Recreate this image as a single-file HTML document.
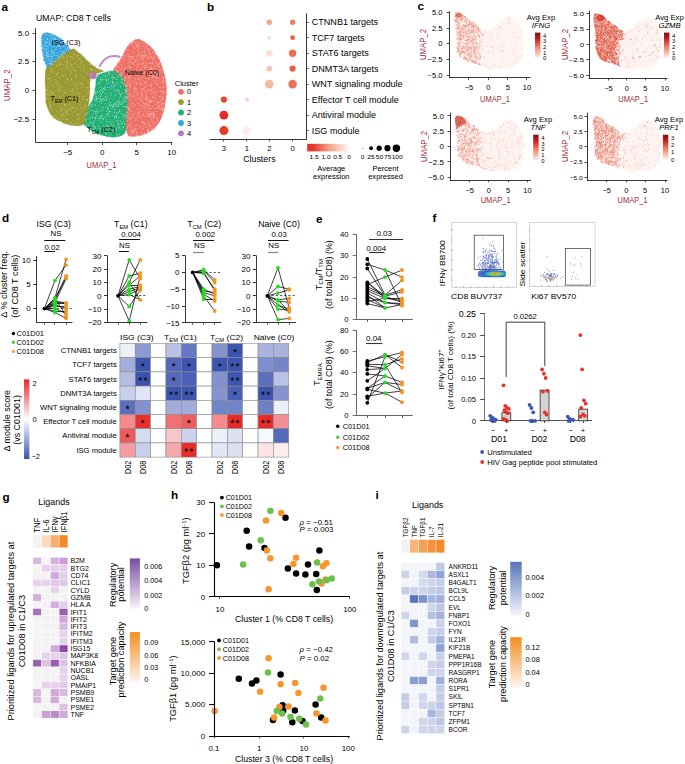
<!DOCTYPE html>
<html><head><meta charset="utf-8"><style>
html,body{margin:0;padding:0;background:#fff;}
svg{display:block;font-family:"Liberation Sans",sans-serif;}
</style></head><body>
<svg width="685" height="764" viewBox="0 0 685 764">
<rect width="685" height="764" fill="#fff"/>
<text transform="translate(1.5 10.5) scale(1.065 1)" font-size="11" fill="#000" font-weight="bold" >a</text>
<text transform="translate(36.0 20.5) scale(1.065 1)" font-size="8.2" >UMAP: CD8 T cells</text>
<defs><filter id="fz" x="-5%" y="-5%" width="110%" height="110%"><feGaussianBlur stdDeviation="0.35"/></filter></defs>
<g id="umap" filter="url(#fz)">
<path d="M137.6 39.3 C140.3 39.5 144.7 41.8 147.6 43.9 C150.5 46.0 152.6 48.3 155.0 52.1 C157.4 55.9 160.4 61.0 162.3 66.8 C164.2 72.6 165.9 80.6 166.3 87.0 C166.8 93.4 166.0 99.8 165.0 105.3 C164.0 110.8 162.5 115.9 160.5 119.9 C158.5 123.9 155.8 126.6 153.1 129.1 C150.3 131.5 147.2 133.4 144.0 134.6 C140.8 135.8 136.7 136.4 133.9 136.4 C131.2 136.4 128.9 137.5 127.5 134.6 C126.1 131.7 125.7 123.7 125.5 118.8 C125.3 113.9 126.2 109.5 126.2 105.0 C126.2 100.5 126.1 95.6 125.6 92.1 C125.1 88.6 124.2 86.7 123.4 84.2 C122.6 81.7 122.1 79.0 120.5 77.0 C118.9 75.0 115.2 73.8 114.0 72.5 C112.8 71.2 112.9 71.0 113.5 69.5 C114.1 68.0 116.0 65.8 117.5 63.5 C119.0 61.2 121.0 58.7 122.5 56.0 C124.0 53.3 125.1 49.8 126.5 47.5 C127.9 45.2 129.2 43.9 131.1 42.5 C132.9 41.1 134.8 39.1 137.6 39.3Z" fill="#F06F66" />
<path d="M98.5 75.0 C100.0 74.0 102.7 73.0 105.0 72.3 C107.3 71.6 110.2 70.7 112.5 70.8 C114.8 70.9 116.8 71.9 118.5 73.0 C120.2 74.1 121.5 75.6 122.5 77.5 C123.5 79.4 124.1 81.8 124.8 84.2 C125.5 86.6 126.4 88.6 126.8 92.1 C127.2 95.6 127.5 100.5 127.4 105.0 C127.4 109.5 127.0 114.1 126.5 118.8 C126.0 123.5 127.0 130.4 124.6 133.4 C122.2 136.4 116.5 136.9 111.9 137.0 C107.4 137.1 101.9 135.9 97.3 133.8 C92.7 131.7 86.0 127.8 84.2 124.5 C82.4 121.2 85.6 117.2 86.5 114.0 C87.4 110.8 88.5 107.4 89.5 105.0 C90.5 102.6 91.7 101.7 92.5 99.5 C93.3 97.3 94.0 94.6 94.6 92.1 C95.1 89.5 95.5 86.5 95.8 84.2 C96.1 81.9 95.8 80.0 96.3 78.5 C96.8 77.0 97.0 76.0 98.5 75.0Z" fill="#22B074" />
<path d="M72.3 49.0 C75.0 48.6 77.0 51.1 78.9 52.5 C80.9 53.9 81.8 55.6 84.0 57.6 C86.2 59.6 89.9 63.0 92.2 64.8 C94.5 66.6 96.2 67.5 98.0 68.5 C99.8 69.5 103.0 70.2 103.0 71.0 C103.0 71.8 99.7 72.5 98.0 73.3 C96.3 74.0 94.3 74.4 93.0 75.5 C91.7 76.6 90.7 77.2 90.2 80.0 C89.7 82.8 90.0 88.5 89.8 92.5 C89.6 96.5 89.2 100.8 88.8 104.0 C88.4 107.2 88.1 108.7 87.3 112.0 C86.5 115.3 86.5 121.7 84.0 124.0 C81.5 126.3 76.4 126.0 72.5 125.6 C68.6 125.2 64.2 123.3 60.8 121.7 C57.4 120.1 54.4 118.8 52.0 115.9 C49.6 113.0 47.3 108.6 46.2 104.2 C45.1 99.8 45.7 94.8 45.5 89.6 C45.3 84.4 44.8 76.8 45.2 72.9 C45.6 69.0 46.1 68.2 48.0 66.0 C49.9 63.8 54.0 61.6 56.4 59.7 C58.8 57.8 60.0 56.4 62.6 54.6 C65.2 52.8 69.6 49.4 72.3 49.0Z" fill="#9C9A30" />
<path d="M43.2 33.6 C44.5 32.7 47.1 32.5 49.3 32.9 C51.5 33.2 54.4 34.7 56.4 35.7 C58.4 36.8 59.8 37.6 61.5 39.2 C63.2 40.8 65.3 43.5 66.7 45.4 C68.1 47.3 70.7 49.0 70.0 50.5 C69.3 52.0 64.9 53.1 62.6 54.6 C60.3 56.1 58.3 58.0 56.4 59.7 C54.5 61.4 52.8 63.6 51.3 64.8 C49.8 66.0 48.5 67.8 47.2 66.8 C45.9 65.8 44.6 61.8 43.7 58.7 C42.9 55.6 42.5 51.8 42.1 48.4 C41.8 45.0 41.4 40.7 41.6 38.2 C41.8 35.7 41.9 34.5 43.2 33.6Z" fill="#36A5DE" />
<path d="M99.3 67 Q102 60.5 108.5 57 Q115 55 120.5 57" stroke="#B878C0" stroke-width="2" fill="none" opacity="0.85"/>
<path d="M89.5 74.0 C90.0 73.0 91.8 72.3 93.0 72.3 C94.2 72.3 96.0 73.1 96.5 74.0 C97.0 74.9 96.6 76.6 96.0 77.5 C95.4 78.4 94.0 79.1 93.0 79.2 C92.0 79.3 90.4 78.9 89.8 78.0 C89.2 77.1 89.0 75.0 89.5 74.0Z" fill="#B878C0" />
<circle cx="111.0" cy="85.5" r="1.40" fill="#36A5DE" />
<path d="M150.1 131.1h0M125.7 115.0h0M133.4 136.8h0M127.5 46.4h0M118.3 76.2h0M126.8 130.4h0M139.8 40.1h0M125.5 113.2h0M153.3 49.8h0M123.8 53.1h0M140.0 40.2h0M126.1 128.3h0M134.9 39.8h0M125.3 93.7h0M138.9 135.8h0M150.5 131.6h0M166.2 87.9h0M123.5 85.3h0M125.5 93.2h0M124.9 50.3h0M115.4 74.2h0M127.1 135.2h0M165.9 83.7h0M117.8 62.1h0M157.6 56.6h0M163.0 70.1h0M139.8 40.2h0M125.3 111.5h0M164.9 79.2h0M117.1 63.4h0M126.1 106.0h0M163.9 111.2h0M160.7 63.2h0M140.2 40.0h0M114.5 67.5h0M164.4 75.6h0M164.4 76.0h0M166.0 94.0h0M165.3 78.6h0M113.8 72.1h0M161.4 117.5h0M122.3 83.1h0M161.4 63.5h0M153.9 128.4h0M145.5 134.5h0M149.2 45.4h0M138.6 39.5h0M127.0 133.0h0M119.8 77.5h0M126.6 129.4h0M125.3 120.9h0M164.4 74.3h0M135.1 40.5h0M153.1 49.5h0M165.9 98.4h0M159.5 121.5h0M124.8 92.8h0M166.5 85.4h0M152.5 129.7h0M165.9 100.8h0M155.4 51.7h0M141.9 135.3h0M120.5 77.9h0M154.2 128.8h0M166.2 82.9h0M153.1 130.0h0M125.7 106.4h0M166.2 86.3h0M165.1 78.6h0M124.4 89.9h0M125.6 112.2h0M125.7 98.9h0M166.8 88.1h0M166.3 94.2h0M135.7 136.2h0M125.5 109.3h0M126.5 128.2h0M125.8 125.6h0M117.1 75.4h0M139.2 39.5h0M166.8 88.8h0M160.8 63.0h0M116.1 74.5h0M121.5 56.2h0M165.3 79.3h0M141.5 135.3h0M131.0 135.9h0M125.7 113.2h0M136.1 39.7h0M165.3 107.0h0M126.0 128.1h0M163.1 113.3h0M158.1 57.0h0M166.0 93.7h0M161.0 119.4h0M124.3 50.7h0M125.3 111.4h0M166.4 91.4h0M139.6 39.5h0M165.3 81.7h0M159.5 60.0h0M153.9 129.1h0M145.5 133.9h0M125.9 99.0h0M125.5 124.7h0M125.4 99.0h0M125.6 121.8h0M164.6 107.8h0M125.4 111.7h0M129.8 42.8h0M125.6 125.8h0M137.8 136.2h0M123.7 87.3h0M165.9 92.9h0M134.5 40.5h0M154.2 127.9h0M164.1 74.0h0M160.1 61.8h0M166.9 87.9h0M165.2 80.7h0" stroke="#F06F66" stroke-width="0.8" stroke-linecap="round" fill="none" opacity="0.8"/>
<path d="M95.1 85.1h0M95.5 79.0h0M108.2 71.4h0M93.9 93.4h0M98.2 74.6h0M85.2 117.7h0M127.0 115.9h0M88.6 106.8h0M95.3 82.4h0M122.9 77.7h0M126.3 87.0h0M96.3 78.4h0M127.2 91.8h0M126.2 127.1h0M104.5 135.4h0M83.9 124.5h0M127.5 115.2h0M87.9 109.2h0M85.0 117.1h0M116.8 136.0h0M125.2 132.9h0M112.0 137.5h0M96.0 80.6h0M126.6 123.3h0M86.8 111.1h0M85.8 114.0h0M127.4 98.5h0M98.6 74.7h0M98.2 134.2h0M93.0 131.4h0M115.6 136.0h0M87.7 110.1h0M112.4 137.2h0M84.0 122.5h0M84.0 125.2h0M114.9 136.5h0M90.8 102.6h0M95.6 83.1h0M85.7 117.2h0M120.4 134.7h0M114.3 137.1h0M114.0 136.8h0M110.5 70.7h0M94.6 88.6h0M98.3 74.5h0M126.6 90.0h0M124.2 81.8h0M88.7 106.3h0M96.3 77.7h0M127.5 100.7h0M127.3 112.7h0M89.5 128.6h0M124.6 81.8h0M87.3 110.6h0M97.4 134.6h0M99.2 134.6h0M94.4 91.1h0M125.9 123.9h0M120.9 135.1h0M84.8 120.2h0M126.3 87.7h0M118.1 136.0h0M85.8 116.4h0M95.6 132.7h0M103.1 135.6h0M86.5 113.9h0M96.2 77.5h0M106.7 136.6h0M127.4 112.6h0M125.0 84.6h0M112.0 137.5h0M101.4 135.0h0M107.0 136.1h0M123.1 77.6h0M127.5 99.7h0M94.9 89.6h0M93.3 96.7h0M114.8 71.3h0M127.0 115.1h0M95.2 86.2h0" stroke="#22B074" stroke-width="0.8" stroke-linecap="round" fill="none" opacity="0.8"/>
<path d="M73.6 125.5h0M45.5 92.7h0M45.0 75.0h0M90.3 88.7h0M87.1 113.8h0M95.3 66.3h0M90.4 81.1h0M53.7 117.8h0M86.2 118.5h0M78.3 125.0h0M45.1 84.8h0M85.0 121.7h0M58.7 57.7h0M96.2 74.4h0M89.2 101.0h0M51.0 114.4h0M47.2 66.8h0M45.8 101.0h0M69.2 50.0h0M87.0 115.5h0M93.9 75.4h0M53.1 117.3h0M92.2 78.1h0M78.9 125.2h0M58.4 120.4h0M71.4 125.3h0M45.4 93.8h0M55.7 59.3h0M59.9 56.4h0M102.6 71.2h0M101.3 69.7h0M83.0 56.4h0M86.0 117.6h0M86.7 60.0h0M88.6 108.1h0M89.7 100.3h0M73.2 48.6h0M89.6 61.6h0M77.2 125.4h0M45.2 88.6h0M45.0 81.8h0M63.4 123.3h0M50.0 112.4h0M73.9 49.2h0M92.4 77.1h0M63.2 53.5h0M65.5 52.8h0M51.3 63.0h0M67.0 51.6h0M90.5 79.9h0M94.3 75.7h0M81.0 54.2h0M50.3 112.8h0M95.1 66.0h0M62.6 122.9h0M90.1 97.2h0M50.3 114.0h0M103.2 71.5h0M65.2 123.5h0M100.8 72.9h0M64.5 53.2h0M83.2 56.1h0M61.0 55.2h0M87.9 111.5h0M45.2 74.1h0M81.9 54.9h0M52.1 116.5h0M45.0 80.9h0M79.7 124.9h0M66.2 52.1h0M59.6 56.3h0M84.5 57.7h0M54.7 60.3h0M90.0 92.1h0M45.1 92.1h0M54.7 60.9h0M45.9 103.5h0M70.1 125.0h0M75.6 50.4h0M89.9 93.8h0M90.4 63.1h0M85.8 118.5h0M96.0 74.5h0M67.0 51.7h0M74.7 49.9h0M45.2 79.2h0M103.7 71.4h0M84.7 57.4h0M87.6 112.9h0M53.6 61.6h0" stroke="#9C9A30" stroke-width="0.8" stroke-linecap="round" fill="none" opacity="0.8"/>
<path d="M52.4 34.0h0M61.0 38.1h0M70.3 50.7h0M70.6 50.2h0M65.4 53.7h0M42.7 55.2h0M42.7 52.9h0M50.0 33.2h0M47.8 67.2h0M59.1 58.2h0M53.0 63.1h0M64.5 53.8h0M46.7 67.5h0M45.6 32.6h0M41.7 49.6h0M43.6 60.0h0M41.3 46.5h0M42.0 49.4h0M41.3 43.8h0M45.3 62.8h0M47.2 67.5h0M68.3 47.0h0M43.7 60.4h0M47.7 67.3h0M41.0 41.0h0M41.2 37.5h0M49.6 66.0h0M66.7 53.2h0M45.4 32.6h0M58.7 58.8h0M58.5 58.7h0M60.2 57.6h0M65.2 53.3h0M41.4 43.2h0M45.4 64.4h0M43.6 60.4h0M46.9 67.2h0M53.5 63.3h0M57.9 58.9h0M41.3 45.6h0M43.9 59.5h0M65.0 54.0h0M46.5 67.1h0M41.9 44.0h0M47.5 32.6h0M61.8 39.0h0M41.5 37.0h0M43.4 58.1h0M61.9 39.6h0M69.4 48.8h0" stroke="#36A5DE" stroke-width="0.8" stroke-linecap="round" fill="none" opacity="0.8"/>
<path d="M129.8 57.2h0M120.9 75.1h0M159.8 70.4h0M151.1 117.2h0M140.8 62.7h0M155.1 62.3h0M129.3 107.8h0M154.6 117.4h0M151.1 68.9h0M156.6 73.6h0M158.1 103.5h0M130.6 119.9h0M123.0 73.3h0M148.7 85.6h0M158.3 105.3h0M127.3 112.3h0M127.4 86.2h0M148.0 114.9h0M151.8 128.6h0M132.2 56.6h0M163.2 97.9h0M157.1 84.1h0M158.0 102.6h0M150.5 75.2h0M147.5 98.7h0M156.3 60.9h0M159.8 96.5h0M134.5 88.5h0M130.0 97.8h0M137.9 41.8h0M132.8 89.4h0M144.1 123.8h0M158.4 63.2h0M145.7 103.5h0M128.1 84.6h0M139.2 71.3h0M161.1 90.3h0M159.9 68.8h0M152.3 60.1h0M152.5 74.6h0M123.2 58.5h0M121.3 69.8h0M146.2 93.6h0M132.1 132.6h0M162.5 92.0h0M127.4 82.0h0M159.2 73.9h0M121.9 60.8h0M128.2 62.9h0M129.6 100.0h0M138.6 54.7h0M140.1 83.1h0M141.9 122.2h0M142.6 84.5h0M137.3 55.7h0M125.8 114.9h0M143.7 43.1h0M142.7 66.5h0M134.7 129.8h0M150.9 114.7h0M126.8 127.9h0M160.1 96.1h0M145.0 55.3h0M142.5 133.2h0M145.3 86.6h0M150.4 114.0h0M134.1 87.8h0M131.7 44.3h0M143.6 55.7h0M144.1 91.2h0M158.5 91.6h0M160.2 62.5h0M153.3 50.3h0M141.7 53.2h0M149.1 99.4h0M146.0 96.0h0M116.1 70.4h0M142.6 72.6h0M158.0 73.8h0M154.1 56.2h0M155.5 72.2h0M142.4 108.1h0M142.3 64.2h0M157.7 102.5h0M131.4 56.6h0M151.8 69.2h0M147.8 77.6h0M135.9 79.0h0M159.0 74.9h0M138.6 51.8h0M154.0 59.9h0M153.8 93.2h0M125.7 76.7h0M142.6 122.6h0M141.6 74.3h0M132.5 115.5h0M163.6 86.9h0M157.8 64.3h0M165.1 92.4h0M129.1 118.7h0M131.2 59.0h0M155.1 75.6h0M132.6 103.4h0M146.1 81.5h0M155.4 95.1h0M148.9 108.8h0M157.8 106.0h0M161.9 98.0h0M126.7 49.3h0M136.8 45.6h0M161.8 99.1h0M142.9 102.9h0M148.8 56.9h0M139.6 111.4h0M128.8 124.6h0M138.5 109.7h0M147.1 116.9h0M146.1 105.2h0M130.2 74.0h0M142.0 76.9h0M143.7 57.3h0M157.1 117.8h0M146.6 72.2h0M135.8 88.2h0M137.2 108.9h0M128.2 56.5h0M140.7 42.3h0M150.8 102.3h0M129.8 77.6h0M134.4 119.0h0M140.7 117.2h0M159.0 72.1h0M148.8 49.7h0M120.8 69.0h0M144.9 56.3h0M144.9 104.4h0M141.9 96.3h0M136.3 70.8h0M146.2 94.3h0M131.3 105.4h0M140.2 99.8h0M159.3 66.4h0M117.0 65.5h0M128.1 55.9h0M163.4 82.4h0M147.8 78.4h0M119.6 74.1h0M136.7 88.5h0M124.3 55.9h0M157.2 118.5h0M133.9 131.5h0M122.4 65.3h0M134.0 84.6h0M148.3 129.9h0M145.4 46.7h0M134.7 47.2h0M125.8 67.6h0M143.6 72.7h0M146.6 71.1h0M127.1 126.7h0M131.6 110.9h0M132.3 130.6h0M130.3 56.9h0M133.6 62.6h0M130.8 67.9h0M144.5 49.3h0M149.1 63.7h0M154.3 92.1h0M153.5 116.9h0M150.1 69.5h0M124.8 80.6h0M128.9 71.3h0M140.3 70.3h0M132.9 43.7h0M154.0 124.1h0M137.5 94.6h0M155.3 72.6h0M153.2 113.5h0M154.9 72.5h0M128.1 109.9h0M135.0 120.4h0M150.4 49.6h0M145.7 86.3h0M136.8 56.2h0M163.3 82.3h0M142.1 59.2h0M142.6 115.2h0M151.1 67.7h0M144.6 133.5h0M156.9 74.7h0M127.9 90.6h0M149.3 105.5h0M141.8 68.8h0M146.1 83.0h0M140.4 70.2h0M130.5 67.5h0M139.1 125.6h0M160.0 72.4h0M138.9 79.4h0M155.8 64.2h0M144.7 83.1h0M120.1 74.8h0M135.5 43.2h0M142.4 122.3h0M142.3 58.4h0M138.5 44.3h0M155.2 72.9h0M154.6 114.8h0M149.8 79.2h0M146.0 46.6h0M121.1 73.1h0M145.5 107.9h0M143.0 60.4h0M162.8 77.3h0M156.3 111.5h0M138.0 133.9h0M137.7 102.9h0M158.9 78.4h0M126.0 115.4h0M147.8 105.5h0M156.2 98.2h0M132.7 103.6h0M134.0 58.2h0M133.7 100.8h0M136.1 90.9h0M157.9 65.9h0M129.2 71.9h0M142.8 128.6h0M157.5 120.6h0M130.3 86.8h0M144.9 110.4h0M152.8 52.2h0M162.7 103.4h0M146.1 99.5h0M153.5 116.0h0M147.5 48.7h0M148.3 51.4h0M164.0 99.7h0M144.1 123.5h0M137.7 92.4h0M144.7 123.4h0M127.1 88.6h0M165.8 84.5h0M161.0 115.3h0M137.3 128.4h0M129.9 111.8h0M131.4 127.7h0M128.1 114.3h0M132.2 59.2h0M127.8 94.1h0M126.4 117.1h0M134.5 78.8h0M123.0 78.3h0M153.7 75.6h0M138.6 64.3h0M144.4 53.6h0M151.0 100.5h0M161.9 110.1h0M155.6 53.4h0M141.0 43.2h0M153.0 112.5h0M133.2 51.8h0M151.6 72.2h0M159.8 63.4h0M151.6 113.0h0M155.5 104.7h0M136.7 84.6h0M145.7 98.7h0M145.1 116.5h0M136.0 74.8h0M140.3 55.9h0M126.9 86.2h0M128.5 45.8h0M134.6 92.6h0M158.3 64.5h0M139.4 83.3h0M127.8 96.8h0M145.0 87.5h0M160.4 108.8h0M125.7 73.6h0M146.8 96.5h0M147.9 74.7h0M149.6 115.1h0M136.6 45.0h0M148.9 91.7h0M145.5 65.9h0M145.2 91.1h0M156.2 83.4h0M130.0 94.8h0M139.4 78.5h0M126.9 115.2h0M151.0 63.3h0M143.9 98.0h0M136.7 82.6h0M157.2 71.0h0M118.8 62.3h0M143.5 89.0h0M144.6 67.5h0M127.6 98.0h0M153.5 88.3h0M131.7 82.4h0M134.2 94.9h0M130.2 134.9h0M150.1 124.9h0M140.4 55.3h0M151.1 57.7h0M143.7 76.3h0M160.2 120.0h0M164.1 103.8h0M145.8 82.8h0M132.0 96.7h0M155.3 108.2h0M149.0 69.7h0M155.9 101.0h0M146.8 126.2h0M159.7 108.2h0M131.6 75.3h0M147.9 101.9h0M142.7 95.3h0M141.2 117.3h0M148.4 122.3h0M153.3 122.9h0M139.5 98.3h0M162.6 96.2h0M162.4 86.3h0M134.7 125.7h0M143.1 126.6h0M125.6 85.6h0M131.9 74.0h0M152.8 52.8h0M130.7 86.0h0M157.2 57.1h0M134.4 81.6h0M124.2 55.2h0M150.4 86.3h0M134.8 117.4h0M147.9 114.7h0M151.0 90.3h0M141.2 89.0h0M149.7 125.0h0M136.2 125.3h0M150.7 126.8h0M150.3 67.3h0M125.5 86.4h0M148.0 104.4h0M133.1 131.0h0M163.2 80.2h0M153.1 121.4h0M126.9 70.2h0M127.5 73.8h0M143.1 63.2h0M163.5 79.0h0M148.1 57.5h0M148.7 121.9h0M156.1 94.8h0M125.0 68.4h0M115.8 68.9h0M140.7 100.7h0M144.1 115.8h0M149.8 89.8h0M152.1 125.9h0M152.5 96.3h0M146.2 98.1h0M161.7 69.3h0M135.9 60.1h0M145.7 127.2h0M134.0 65.0h0M140.2 105.5h0M121.6 79.4h0M157.4 84.9h0M130.6 114.7h0M127.7 54.6h0M160.4 91.5h0M154.1 100.9h0M146.1 65.5h0M162.8 99.5h0M141.3 132.8h0M141.4 93.7h0M136.8 42.9h0M148.6 106.8h0M129.9 76.3h0M131.6 132.3h0M135.3 60.4h0M136.6 132.6h0M126.9 112.4h0M128.2 78.1h0M151.0 101.0h0M134.9 42.9h0M148.5 58.9h0M143.4 114.2h0M141.7 94.5h0M139.0 113.5h0M125.4 90.3h0M131.5 128.7h0M150.1 111.6h0M158.7 106.6h0M137.7 67.3h0M133.9 113.4h0M141.7 89.0h0M127.8 46.6h0M129.8 60.8h0M135.9 68.8h0M133.1 72.9h0M137.2 135.7h0M152.5 106.6h0M154.1 81.3h0M153.8 113.2h0M128.6 74.0h0M140.4 84.1h0M135.0 128.7h0M117.8 66.1h0M149.2 101.0h0M130.4 130.7h0M146.6 55.7h0M144.2 107.8h0M156.9 118.7h0M134.6 90.8h0M148.2 111.4h0M137.6 91.7h0M131.0 44.0h0M132.2 132.8h0M135.3 96.3h0M163.3 103.6h0M145.9 105.7h0M119.1 66.8h0M141.2 92.9h0M129.5 78.1h0M149.2 74.0h0M164.0 93.5h0M132.0 62.9h0M147.3 90.1h0M139.4 48.1h0M161.5 107.7h0M142.8 55.7h0M129.8 66.9h0M129.1 60.9h0M147.6 131.1h0M156.2 92.3h0M141.8 105.6h0M135.6 61.8h0M143.2 63.2h0M162.8 109.9h0M121.2 77.2h0M147.8 44.4h0M127.9 50.5h0M153.0 97.7h0M142.7 46.3h0M136.8 94.8h0M129.7 85.4h0M137.3 115.8h0M153.7 114.7h0M133.8 41.3h0M157.9 80.4h0M156.2 122.8h0M141.8 92.0h0M125.6 77.8h0M137.0 46.3h0M163.5 77.6h0M136.3 60.4h0M150.9 70.3h0M154.8 52.8h0M144.5 123.3h0M154.1 56.2h0M124.9 80.1h0M138.4 54.9h0M161.7 104.5h0M151.9 101.4h0M163.0 109.9h0M124.6 51.7h0M120.9 75.6h0M150.1 102.2h0M128.7 76.4h0M136.4 135.1h0M137.3 98.4h0M148.6 51.6h0M147.2 46.0h0M128.7 95.0h0M145.9 103.5h0M135.1 48.4h0M158.7 108.4h0M133.9 41.7h0M127.8 107.8h0M139.0 115.5h0M151.5 89.8h0M132.6 56.9h0M146.8 63.0h0M150.5 63.5h0M129.3 107.7h0M144.0 46.4h0M128.7 80.9h0M163.8 103.7h0M136.7 118.8h0M152.9 77.3h0M137.8 49.9h0M162.8 108.3h0M150.5 53.2h0M156.9 76.0h0M130.2 70.6h0M130.1 83.3h0M118.1 70.5h0M154.6 123.7h0M149.9 69.1h0M138.2 103.6h0M153.4 68.8h0M163.8 97.5h0M135.9 112.0h0M136.9 47.4h0M147.5 70.3h0M156.6 108.8h0M137.8 113.1h0M141.5 111.2h0M160.6 102.1h0M157.9 78.0h0M136.6 132.0h0M143.8 103.5h0M157.3 63.6h0M146.0 67.0h0M125.9 51.8h0M156.8 77.5h0M119.0 61.8h0M129.0 59.2h0M144.7 132.7h0M128.4 65.1h0M142.3 57.3h0M137.8 76.8h0M141.2 77.9h0M148.4 101.1h0M127.3 120.7h0M152.2 92.5h0M133.0 96.5h0M154.9 108.4h0M145.7 76.6h0M135.1 88.3h0M147.9 131.5h0M129.8 67.0h0M135.0 129.4h0M151.7 83.9h0M146.0 81.5h0M131.8 94.6h0M130.2 67.7h0M148.2 130.3h0M149.0 131.3h0M154.9 66.3h0M144.8 72.3h0M158.6 66.2h0M147.0 107.9h0M142.9 81.0h0M133.9 72.6h0M153.9 58.2h0M130.3 126.1h0M156.9 77.5h0M123.9 70.2h0M141.8 56.4h0M148.4 129.1h0M154.5 98.1h0M162.3 72.8h0M121.1 73.0h0M126.8 106.4h0M157.9 107.6h0M142.2 100.6h0M132.9 106.3h0M129.8 123.6h0M117.2 71.4h0M152.7 64.0h0M154.9 76.8h0M144.3 43.9h0M139.5 57.5h0M147.5 124.1h0M136.2 125.4h0M132.6 42.3h0M134.5 80.4h0M127.8 71.6h0M146.5 57.9h0M163.6 82.0h0M151.1 85.7h0M134.8 90.9h0M164.9 87.3h0M125.5 86.1h0M152.8 116.0h0M126.9 84.2h0M125.8 93.1h0M149.6 53.4h0M126.6 77.1h0M156.2 73.5h0M155.3 80.2h0M162.7 91.7h0M148.8 114.1h0M121.2 64.8h0M149.3 54.6h0M139.7 64.1h0M146.9 67.4h0M142.6 134.0h0M161.7 100.2h0M127.9 66.9h0M130.7 118.5h0M138.0 58.8h0M144.1 134.3h0M152.4 118.5h0M161.1 81.7h0M127.8 72.7h0M137.2 75.1h0M146.5 99.5h0M156.3 55.7h0M153.2 115.3h0M129.9 109.2h0M147.8 113.5h0M146.0 43.4h0M126.1 91.7h0M131.2 100.0h0M142.9 106.7h0M124.9 70.5h0M126.6 107.2h0M148.0 124.3h0M135.5 105.0h0M130.3 84.6h0M150.0 101.3h0M136.0 134.6h0M126.8 90.5h0M159.9 104.9h0M138.8 112.9h0M139.7 127.1h0M159.0 102.2h0M143.0 129.2h0M151.2 56.7h0M124.2 83.2h0M129.5 89.2h0M128.3 109.2h0M130.2 93.4h0M144.8 73.7h0M156.4 91.0h0M150.8 93.9h0M129.9 108.8h0M162.5 70.3h0M159.6 87.6h0M116.8 72.6h0M129.6 125.9h0M132.7 132.0h0M137.7 44.6h0M144.4 52.0h0M137.7 117.8h0M128.9 116.9h0M156.4 77.8h0M133.2 116.8h0M134.0 46.7h0M144.8 68.6h0M150.4 48.9h0M132.0 123.4h0M163.5 108.2h0M154.3 68.9h0M140.0 81.7h0M119.0 75.0h0M127.5 133.5h0M150.0 116.0h0M163.4 91.6h0M122.8 82.5h0M157.2 73.7h0M151.3 86.0h0M126.1 97.0h0M149.4 116.3h0M119.1 63.7h0M151.5 108.5h0M144.8 65.7h0M159.2 106.0h0M154.3 83.1h0M135.9 99.4h0M139.1 45.1h0M151.4 119.8h0M136.0 131.0h0M152.8 76.4h0M134.2 126.1h0M163.0 105.6h0M127.5 72.6h0M159.9 96.8h0M138.7 46.5h0M121.4 75.1h0M127.3 104.8h0M124.5 59.9h0M131.5 43.9h0M152.5 62.3h0M128.0 96.8h0M130.9 62.4h0M131.8 117.3h0M152.4 62.5h0M142.5 88.8h0M160.3 87.3h0M115.8 67.8h0M153.1 58.1h0M151.1 83.3h0M153.9 58.3h0M136.1 83.3h0M124.7 79.4h0M142.2 52.1h0M143.2 121.8h0M152.8 90.2h0M136.6 65.9h0M150.5 107.9h0M129.9 77.4h0M130.8 118.7h0M138.9 79.8h0M133.5 63.4h0" stroke="#fff" stroke-width="0.7" stroke-linecap="round" fill="none" opacity="0.8"/>
<path d="M120.1 120.4h0M117.6 102.7h0M97.0 77.7h0M112.2 121.3h0M102.8 107.2h0M118.8 124.0h0M125.2 96.5h0M112.1 77.5h0M103.1 109.3h0M113.2 81.9h0M115.0 117.7h0M100.4 89.9h0M99.9 93.7h0M101.7 99.3h0M108.8 111.1h0M94.1 122.6h0M103.2 100.0h0M118.8 104.0h0M123.2 106.3h0M89.1 110.8h0M114.7 103.2h0M100.4 111.4h0M117.6 105.8h0M125.7 89.8h0M102.3 116.4h0M114.2 104.9h0M122.6 97.6h0M119.3 98.1h0M118.4 125.7h0M120.4 82.0h0M95.0 91.2h0M94.2 93.5h0M110.3 121.8h0M114.4 110.2h0M101.2 90.7h0M100.0 98.4h0M118.4 118.0h0M107.3 107.2h0M112.5 127.5h0M118.0 124.2h0M101.4 130.3h0M113.4 125.9h0M96.8 108.6h0M117.0 127.8h0M104.4 127.0h0M109.4 98.8h0M119.7 111.4h0M121.7 111.1h0M101.6 102.9h0M112.7 106.4h0M105.9 116.5h0M99.8 83.0h0M124.0 116.1h0M108.9 116.6h0M93.4 122.1h0M94.7 126.4h0M117.9 134.7h0M103.2 88.7h0M107.7 127.4h0M122.4 117.9h0M86.3 124.4h0M110.5 102.3h0M115.1 103.2h0M94.5 93.6h0M109.8 72.1h0M119.0 122.8h0M116.6 114.7h0M123.7 106.8h0M102.8 99.6h0M117.1 120.6h0M125.6 91.9h0M100.0 99.0h0M107.9 113.8h0M102.5 92.6h0M113.2 106.6h0M115.4 85.3h0M95.3 117.2h0M109.8 74.4h0M101.5 95.0h0M98.5 126.5h0M99.5 91.5h0M102.9 134.9h0M112.5 82.9h0M125.7 107.5h0M104.0 130.0h0M108.4 127.9h0M109.9 106.1h0M103.2 88.5h0M126.0 98.5h0M125.5 99.9h0M106.9 83.4h0M116.4 130.7h0M101.2 118.5h0M106.2 114.6h0M109.3 87.7h0M104.0 118.6h0M95.5 105.5h0M96.9 113.2h0M119.9 109.8h0M85.5 120.3h0M94.7 120.3h0M99.0 84.1h0M89.4 127.9h0M110.1 89.9h0M102.2 89.6h0M104.2 89.0h0M109.3 95.0h0M92.0 106.0h0M108.9 73.1h0M106.8 126.9h0M116.4 116.1h0M92.3 118.1h0M119.1 129.0h0M111.9 86.3h0M106.0 134.2h0M119.8 127.1h0M92.4 123.8h0M106.4 93.4h0M116.5 128.7h0M115.8 78.9h0M95.3 111.9h0M88.4 118.9h0M95.1 110.9h0M118.3 105.0h0M120.7 96.4h0M119.8 91.4h0M100.6 129.2h0M86.8 113.9h0M95.1 118.2h0M100.1 87.4h0M106.4 80.6h0M120.4 95.4h0M86.1 122.1h0M90.5 119.3h0M111.8 98.4h0M125.1 89.4h0M99.8 101.7h0M103.4 91.6h0M115.5 94.4h0M114.0 132.3h0M113.6 115.6h0M105.7 88.0h0M104.5 75.7h0M114.9 97.3h0M114.9 129.3h0M117.1 113.0h0M106.1 74.0h0M105.1 103.5h0M116.2 106.2h0M109.6 114.9h0M101.0 115.8h0M108.0 96.5h0M100.5 96.2h0M90.3 128.8h0M116.2 101.8h0M118.8 101.8h0M103.1 128.2h0M121.1 104.6h0M118.2 127.1h0M114.0 112.9h0M118.2 106.3h0M123.0 114.6h0M105.8 76.6h0M96.2 130.4h0M115.0 90.6h0M96.0 96.9h0M120.3 86.9h0M122.1 123.2h0M114.8 90.9h0M112.2 130.5h0M103.0 132.9h0M101.8 90.3h0M101.8 115.2h0M116.4 89.7h0M119.2 91.4h0M111.4 93.4h0M124.9 124.1h0M117.4 75.9h0M119.0 102.2h0M99.6 82.0h0M118.1 90.0h0M112.8 106.7h0M112.3 81.3h0M97.8 98.5h0M120.3 86.3h0M105.9 132.7h0M109.0 105.5h0M88.6 124.5h0M123.1 126.9h0M103.3 119.2h0M97.6 92.1h0M109.9 111.3h0M114.4 118.2h0M121.2 113.3h0M119.4 93.6h0M114.0 112.2h0M92.7 100.9h0M112.7 82.6h0M123.2 127.1h0M104.2 87.4h0M110.2 112.0h0M113.4 130.8h0M100.4 79.2h0M124.7 123.5h0M113.2 108.7h0M95.3 128.0h0M118.4 97.6h0M108.9 78.2h0M121.4 103.8h0M99.8 118.5h0M105.9 79.4h0M97.2 91.2h0M85.5 119.7h0M105.7 90.0h0M115.4 85.1h0M97.2 83.7h0M124.8 96.1h0M125.6 97.4h0M108.3 130.9h0M96.4 101.2h0M105.4 86.8h0M113.7 125.2h0M107.0 119.2h0M117.1 91.7h0M113.5 83.1h0M103.2 107.3h0M108.5 79.8h0M109.4 104.8h0M99.3 117.1h0M97.1 111.4h0M118.1 76.6h0M111.5 104.8h0M102.9 79.5h0M112.9 76.9h0M86.9 112.9h0M93.0 126.1h0M108.7 72.3h0M125.6 106.3h0M120.7 121.2h0M116.1 79.6h0M120.9 102.8h0M91.9 116.8h0M106.5 124.7h0M105.2 99.9h0M114.9 121.4h0M111.1 123.6h0M96.3 116.8h0M122.0 124.0h0M121.8 102.0h0M116.8 134.9h0M113.8 84.8h0M119.2 111.1h0M94.9 99.2h0M119.5 103.2h0M97.2 98.6h0M112.4 75.2h0M92.6 115.3h0M106.5 99.8h0M107.3 114.0h0M107.8 108.4h0M114.1 127.0h0M106.8 121.4h0M126.6 98.3h0M107.7 125.8h0M108.9 74.4h0M89.8 123.3h0M112.5 79.4h0M122.2 80.1h0M105.6 96.2h0M116.3 116.0h0M101.5 116.6h0M110.3 105.7h0M111.8 124.6h0M103.5 126.3h0M89.1 113.5h0M107.7 76.0h0M94.1 98.1h0M124.0 121.9h0M99.8 120.8h0M93.3 123.7h0M119.5 134.3h0M99.1 130.1h0M101.4 122.8h0M99.6 128.3h0M88.9 126.1h0M113.4 86.6h0M113.5 88.9h0M113.6 129.6h0M124.0 84.4h0M95.4 100.7h0M110.9 88.2h0M99.8 133.8h0M94.5 128.3h0M93.9 125.8h0M106.6 111.4h0M101.5 100.1h0M106.0 107.4h0M114.8 95.5h0M123.4 102.7h0M91.7 106.3h0M118.7 112.6h0M115.6 104.0h0M126.4 116.5h0M117.0 83.1h0M110.8 134.8h0M110.3 102.9h0M118.3 104.8h0M123.6 84.3h0M107.7 109.3h0M95.3 113.3h0M107.6 114.3h0M122.7 116.1h0M114.7 77.6h0M121.1 123.3h0M122.5 101.1h0M116.7 112.5h0M106.3 97.4h0M95.4 131.9h0M91.1 122.9h0M124.4 114.5h0M90.6 106.1h0M116.2 117.6h0M105.5 79.3h0M111.2 95.3h0M95.7 93.8h0M98.8 95.8h0M105.8 72.6h0M102.6 92.8h0M93.9 117.5h0M106.5 80.9h0M123.3 121.5h0M106.6 133.6h0M117.5 100.2h0M103.1 118.3h0M121.1 93.8h0M111.9 71.2h0M105.5 96.8h0M101.7 80.4h0M96.8 111.0h0M107.5 122.3h0M111.6 76.9h0M126.4 91.4h0M118.4 117.0h0M113.6 87.1h0M125.3 117.4h0M118.9 100.8h0M115.8 104.5h0M102.3 119.0h0M118.7 90.5h0M90.1 117.5h0M96.4 115.3h0M93.7 111.6h0M96.2 92.9h0M93.2 113.3h0M98.1 111.2h0M123.5 97.8h0M121.4 79.6h0M123.8 100.1h0M115.7 107.0h0M107.0 127.6h0M96.4 96.8h0M110.4 127.9h0M95.1 117.7h0M90.7 121.6h0M121.6 82.8h0M108.3 113.4h0M117.3 94.1h0M93.7 129.2h0M118.3 84.8h0M118.0 83.3h0M109.5 126.2h0M116.0 117.2h0M101.1 102.9h0M109.9 132.9h0M117.3 78.8h0M114.6 116.8h0M117.3 90.0h0M114.5 77.7h0M89.2 108.6h0M92.6 104.2h0M103.2 75.2h0M108.7 131.2h0M109.6 129.6h0M90.9 110.4h0M98.1 118.4h0M115.2 85.3h0M101.3 79.8h0M125.9 101.2h0M95.0 104.6h0M104.7 93.3h0M113.2 104.5h0M106.2 126.6h0M124.1 118.3h0M108.2 103.0h0M107.9 108.9h0M121.5 94.0h0M108.3 83.1h0M103.5 133.0h0M101.4 100.2h0M123.7 127.5h0M113.6 131.7h0M98.1 99.1h0M92.3 110.5h0M113.0 115.7h0M99.0 109.4h0M86.9 118.9h0M106.4 80.1h0M100.4 117.9h0M96.4 99.7h0M122.1 93.5h0M96.5 98.3h0M121.8 129.5h0M102.4 77.5h0M93.6 125.8h0M95.1 95.9h0M104.9 117.0h0M110.2 82.0h0M121.6 104.5h0M98.0 133.9h0M110.1 119.2h0M86.7 126.0h0M113.9 99.8h0M105.9 98.2h0M86.4 124.4h0M111.7 108.2h0M100.5 93.2h0M95.2 127.3h0M113.4 106.3h0M111.9 130.8h0M107.9 87.6h0M94.7 100.3h0M103.8 98.5h0M102.2 111.0h0M100.3 78.7h0M107.8 99.7h0M117.7 120.6h0M112.9 77.6h0M99.4 101.4h0M99.6 105.5h0M91.7 104.3h0M100.6 96.9h0M124.7 101.7h0M90.5 127.5h0M95.6 118.9h0M104.4 100.3h0M109.4 111.0h0M97.9 112.4h0M105.6 77.0h0M104.6 89.4h0M95.3 92.9h0" stroke="#fff" stroke-width="0.7" stroke-linecap="round" fill="none" opacity="0.8"/>
<path d="M62.8 116.4h0M63.3 114.4h0M75.2 86.3h0M78.5 98.7h0M72.1 90.8h0M47.0 89.5h0M58.5 60.7h0M65.0 62.1h0M80.5 70.9h0M61.9 58.1h0M95.5 70.4h0M61.2 103.8h0M49.9 69.6h0M76.7 56.2h0M53.3 104.8h0M85.1 105.8h0M87.9 74.6h0M66.3 55.8h0M50.8 93.8h0M52.4 92.7h0M63.8 94.7h0M59.1 103.9h0M81.2 75.3h0M69.5 96.7h0M80.4 87.7h0M59.4 96.3h0M59.7 118.7h0M72.9 107.6h0M68.8 123.6h0M56.8 116.8h0M74.0 67.7h0M71.7 79.9h0M75.2 97.3h0M84.7 96.2h0M52.1 110.8h0M77.6 119.3h0M63.7 64.8h0M60.2 78.9h0M66.1 104.0h0M60.0 97.7h0M75.2 107.7h0M60.9 115.6h0M54.5 117.3h0M67.7 93.2h0M81.8 111.9h0M57.0 111.6h0M74.1 83.5h0M50.7 106.4h0M71.5 57.8h0M47.3 77.2h0M74.6 54.0h0M78.0 77.9h0M68.7 98.5h0M65.3 112.4h0M86.2 106.3h0M56.8 101.2h0M79.3 58.9h0M62.3 56.5h0M71.9 70.2h0M53.4 98.7h0M51.3 68.5h0M56.7 80.8h0M53.3 100.7h0M88.0 87.5h0M89.7 68.9h0M72.5 107.4h0M49.5 102.0h0M50.7 95.6h0M72.4 93.0h0M78.4 58.1h0M80.6 57.3h0M63.1 91.8h0M82.3 62.2h0M78.4 55.5h0M76.2 83.5h0M65.6 66.0h0M71.7 107.3h0M78.7 96.1h0M80.1 107.2h0M71.5 65.8h0M84.2 65.8h0M83.6 65.3h0M88.7 92.0h0M81.3 108.1h0M79.6 118.3h0M77.3 67.5h0M46.3 98.5h0M81.7 83.5h0M92.2 70.2h0M57.8 65.2h0M68.1 66.4h0M64.2 106.5h0M71.6 97.0h0M54.7 87.5h0M67.7 79.8h0M70.1 70.1h0M85.8 59.9h0M74.4 123.8h0M66.6 82.0h0M52.2 86.5h0M66.4 119.1h0M72.2 90.8h0M58.8 58.4h0M56.7 75.5h0M58.9 90.2h0M59.0 61.4h0M65.0 110.6h0M81.3 62.1h0M52.4 71.2h0M65.0 115.7h0M78.2 66.4h0M67.3 57.5h0M67.3 78.4h0M67.5 67.4h0M52.7 69.4h0M63.4 56.0h0M49.3 87.2h0M49.1 108.3h0M55.3 115.4h0M71.6 73.6h0M79.2 59.6h0M70.9 94.7h0M48.4 98.8h0M89.5 81.5h0M79.4 96.4h0M56.0 61.3h0M73.9 108.3h0M91.5 69.9h0M66.7 110.0h0M60.9 120.3h0M67.8 63.1h0M67.1 121.8h0M69.2 81.9h0M90.4 69.3h0M82.8 78.0h0M70.4 64.1h0M64.7 93.3h0M76.7 108.7h0M78.4 83.4h0M63.2 76.4h0M69.7 56.5h0M87.1 100.4h0M57.6 84.4h0M71.1 123.3h0M48.7 79.1h0M45.5 74.4h0M77.4 115.6h0M67.7 120.0h0M75.0 63.3h0M82.6 82.0h0M73.8 58.3h0M83.8 69.2h0M50.2 71.9h0M49.5 103.1h0M47.4 94.5h0M86.3 94.8h0M83.1 108.8h0M59.3 106.1h0M66.7 119.7h0M84.6 105.8h0M80.5 83.5h0M90.4 63.7h0M76.3 60.5h0M70.0 60.5h0M92.5 69.6h0M66.7 111.6h0M49.3 91.7h0M72.1 67.3h0M56.4 74.8h0M86.2 114.9h0M69.0 109.7h0M72.3 81.6h0M61.0 86.3h0M60.5 89.9h0M77.8 94.0h0M80.4 102.5h0M67.2 79.3h0M52.9 92.9h0M59.2 119.6h0M78.2 114.6h0M69.1 64.0h0M65.7 117.2h0M77.9 88.5h0M57.7 103.8h0M72.2 107.8h0M63.6 57.8h0M64.6 99.1h0M67.6 113.8h0M80.6 60.3h0M52.0 106.6h0M84.8 77.8h0M53.0 72.8h0M80.8 63.7h0M96.8 73.5h0M54.1 94.1h0M71.0 122.1h0M76.0 75.2h0M76.0 122.1h0M90.3 79.1h0M68.0 89.7h0M91.5 74.4h0M47.2 91.2h0M88.9 101.6h0M67.0 60.6h0M78.5 123.3h0M87.0 73.2h0M74.1 70.7h0M91.3 64.1h0M96.7 70.4h0M60.0 58.0h0M59.6 88.5h0M50.4 91.9h0M47.0 99.0h0M73.5 99.0h0M59.6 77.3h0M83.1 86.5h0M62.3 102.3h0M76.1 51.3h0M85.6 90.4h0M76.5 64.0h0M68.2 114.4h0M60.4 64.6h0M61.8 107.6h0M61.3 69.1h0M91.4 77.9h0M82.9 99.7h0M74.0 104.9h0M84.2 115.2h0M86.4 87.1h0M79.7 100.0h0M62.4 108.6h0M46.0 93.5h0M60.5 110.6h0M69.4 108.9h0M64.1 104.7h0M67.0 65.2h0M55.3 95.6h0M65.4 74.3h0M76.3 124.6h0M55.0 79.7h0M63.0 119.2h0M57.1 82.5h0M64.3 104.5h0M89.9 64.5h0M48.9 95.2h0M87.9 100.1h0M61.1 109.6h0M94.3 67.2h0M56.4 66.0h0M88.9 84.0h0M64.8 105.5h0M52.9 84.4h0M76.5 92.3h0M53.2 64.1h0M83.4 99.2h0M58.1 84.4h0M67.4 62.0h0M84.0 71.1h0M66.7 69.0h0M74.7 102.4h0M69.1 100.6h0M63.7 112.7h0M74.6 124.5h0M64.4 92.2h0M74.8 94.8h0M76.6 73.9h0M70.9 91.6h0M76.0 75.5h0M59.2 91.8h0M97.0 68.4h0M57.3 86.0h0M58.4 90.2h0M90.9 75.9h0M58.9 65.2h0M74.0 94.8h0M71.1 72.2h0M87.2 92.0h0M65.9 119.4h0M59.9 101.1h0M47.1 87.6h0M77.5 55.6h0M87.5 88.7h0M79.6 100.9h0M61.9 114.6h0M46.2 89.8h0M74.9 55.0h0M70.3 56.4h0M50.2 78.4h0M73.8 69.5h0M61.9 109.9h0M66.4 63.1h0M78.1 114.5h0M60.3 63.1h0M66.4 112.5h0M60.3 111.0h0M50.3 105.1h0M71.5 110.2h0M75.1 101.5h0M66.2 101.8h0M69.2 70.7h0M76.1 70.9h0M58.4 73.1h0M66.3 97.2h0M100.7 70.4h0M75.3 77.1h0M50.4 108.0h0M52.2 92.0h0M52.3 64.3h0M49.8 104.4h0M83.1 116.6h0M53.4 116.3h0M67.8 111.0h0M71.7 79.3h0M46.9 94.1h0M62.9 75.5h0M79.2 118.7h0M88.0 80.7h0M68.8 84.7h0M61.9 115.0h0M49.1 74.8h0M60.5 64.0h0M50.7 81.2h0M55.0 83.1h0M82.0 84.5h0M72.3 88.3h0M84.1 108.1h0M72.3 90.0h0M89.7 64.1h0M77.0 86.1h0M79.6 93.5h0M67.4 107.1h0M69.6 105.0h0M86.4 99.9h0M74.9 111.8h0M83.4 96.7h0M80.1 104.5h0M75.3 70.3h0M52.6 93.8h0M72.4 57.4h0M87.0 99.6h0M49.0 78.6h0M77.5 109.5h0M90.4 69.3h0M57.7 73.5h0M60.1 86.4h0M64.7 82.5h0M72.1 64.8h0M79.9 66.2h0M51.1 109.6h0M99.5 69.7h0" stroke="#fff" stroke-width="0.6" stroke-linecap="round" fill="none" opacity="0.7"/>
<path d="M55.2 44.6h0M64.2 53.2h0M54.9 41.7h0M60.2 40.0h0M54.1 55.6h0M68.6 50.6h0M46.5 52.8h0M51.5 35.2h0M59.2 57.1h0M44.3 37.2h0M49.5 43.2h0M48.8 35.7h0M47.8 55.5h0M50.7 61.5h0M51.0 56.6h0M42.8 47.2h0M52.2 35.8h0M47.5 46.0h0M46.4 42.4h0M54.3 39.6h0M59.3 56.7h0M48.9 59.6h0M61.5 42.2h0M50.7 38.5h0M62.2 46.6h0M49.2 54.4h0M52.2 52.2h0M56.2 47.9h0M50.0 40.0h0M58.5 45.7h0M47.6 39.3h0M63.0 51.7h0M59.5 45.7h0M51.6 50.0h0M60.1 47.0h0M64.9 48.9h0M62.4 52.7h0M61.0 51.6h0M46.5 46.3h0M47.5 53.3h0M48.3 56.9h0M47.5 39.5h0M49.2 41.8h0M59.4 54.2h0M62.4 41.5h0M48.8 59.4h0M49.0 45.5h0M58.5 44.7h0M42.7 47.9h0M51.2 57.8h0M41.9 39.2h0M42.0 44.5h0M49.8 45.6h0M44.1 48.8h0M54.4 37.7h0M54.3 61.5h0M47.5 56.4h0M56.9 36.1h0M48.7 56.2h0M67.6 48.1h0M52.7 60.9h0M62.5 42.7h0M52.5 38.5h0M47.5 53.1h0M47.3 57.3h0M46.9 64.6h0M51.7 52.4h0M63.2 44.7h0M43.8 48.2h0M50.8 64.9h0M42.9 53.1h0M44.8 52.2h0M46.0 41.7h0M53.2 40.1h0M66.7 50.9h0M51.1 63.4h0M60.3 42.4h0M60.0 43.9h0M54.1 51.1h0M54.6 38.9h0M50.1 44.1h0M54.1 46.4h0M46.0 49.6h0M53.7 36.7h0M64.1 52.6h0M64.1 51.6h0M48.3 51.4h0M44.8 41.9h0M46.7 55.0h0M59.4 40.4h0M46.2 54.6h0M48.8 63.8h0M64.0 46.1h0M45.1 34.2h0M67.3 46.9h0M51.9 56.1h0M67.5 48.1h0M51.8 47.3h0M52.1 50.8h0M57.6 46.4h0M46.4 49.1h0M53.7 52.5h0M46.0 58.2h0M46.1 34.5h0M51.2 60.8h0M57.7 45.9h0M57.7 37.0h0M55.7 38.3h0M57.2 55.9h0M45.4 43.7h0M51.4 40.9h0M46.1 61.7h0M57.9 52.8h0M43.6 45.7h0M55.8 49.5h0M45.1 55.0h0M46.6 50.7h0M62.8 53.7h0M59.3 43.4h0M51.2 63.9h0M44.3 39.8h0M51.9 54.8h0M68.3 49.1h0M52.2 56.7h0M44.9 57.9h0M53.8 42.6h0M46.1 46.4h0M54.4 54.0h0M49.8 63.6h0M57.7 55.6h0M66.0 46.0h0M47.8 42.5h0M61.5 54.8h0M56.1 55.2h0M52.5 58.7h0M52.9 52.4h0M60.5 48.4h0M47.5 38.2h0M66.3 49.9h0M61.1 40.4h0M57.4 39.9h0M52.8 40.2h0M44.3 45.4h0M55.8 39.9h0M50.5 35.7h0M45.2 43.7h0M44.0 55.4h0M57.7 44.0h0M55.9 39.6h0M50.4 63.9h0" stroke="#fff" stroke-width="0.7" stroke-linecap="round" fill="none" opacity="0.8"/>
</g>
<text transform="translate(51.8 45.3) scale(1.065 1)" font-size="6.8" >ISG (C3)</text>
<text transform="translate(124.7 75.2) scale(1.065 1)" font-size="6.8" >Naive (C0)</text>
<text transform="translate(50.6 101.0) scale(1.065 1)" font-size="6.8" >T<tspan font-size="4.6" dy="1.8">EM</tspan><tspan dy="-1.8"> (C1)</tspan></text>
<text transform="translate(87.1 132.2) scale(1.065 1)" font-size="6.8" >T<tspan font-size="4.6" dy="1.8">CM</tspan><tspan dy="-1.8"> (C2)</tspan></text>
<line x1="35.5" y1="28.2" x2="35.5" y2="142.6" stroke="#231f20" stroke-width="0.9" />
<line x1="35.6" y1="142.5" x2="172.2" y2="142.5" stroke="#231f20" stroke-width="0.9" />
<line x1="32.6" y1="33.5" x2="35.6" y2="33.5" stroke="#231f20" stroke-width="0.8" />
<text transform="translate(29.2 35.7) scale(1.065 1)" font-size="7.5" text-anchor="end" >5.0</text>
<line x1="32.6" y1="61.5" x2="35.6" y2="61.5" stroke="#231f20" stroke-width="0.8" />
<text transform="translate(29.2 64.2) scale(1.065 1)" font-size="7.5" text-anchor="end" >2.5</text>
<line x1="32.6" y1="90.5" x2="35.6" y2="90.5" stroke="#231f20" stroke-width="0.8" />
<text transform="translate(29.2 93.3) scale(1.065 1)" font-size="7.5" text-anchor="end" >0</text>
<line x1="32.6" y1="119.5" x2="35.6" y2="119.5" stroke="#231f20" stroke-width="0.8" />
<text transform="translate(29.2 121.7) scale(1.065 1)" font-size="7.5" text-anchor="end" >−2.5</text>
<line x1="67.5" y1="142.6" x2="67.5" y2="145.2" stroke="#231f20" stroke-width="0.8" />
<text transform="translate(67.7 155.2) scale(1.065 1)" font-size="7.5" text-anchor="middle" >−5</text>
<line x1="102.5" y1="142.6" x2="102.5" y2="145.2" stroke="#231f20" stroke-width="0.8" />
<text transform="translate(102.2 155.2) scale(1.065 1)" font-size="7.5" text-anchor="middle" >0</text>
<line x1="136.5" y1="142.6" x2="136.5" y2="145.2" stroke="#231f20" stroke-width="0.8" />
<text transform="translate(136.6 155.2) scale(1.065 1)" font-size="7.5" text-anchor="middle" >5</text>
<line x1="171.5" y1="142.6" x2="171.5" y2="145.2" stroke="#231f20" stroke-width="0.8" />
<text transform="translate(171.7 155.2) scale(1.065 1)" font-size="7.5" text-anchor="middle" >10</text>
<text transform="translate(101.5 167.8) scale(0.9082172902247592 1)" font-size="8.2" text-anchor="middle" fill="#A32C34" >UMAP_1</text>
<text transform="translate(9.8 85.2) rotate(-90) scale(0.9630760527215567 1)" font-size="8.2" text-anchor="middle" fill="#A32C34" >UMAP_2</text>
<text transform="translate(174.8 85.6) scale(1.065 1)" font-size="7" >Cluster</text>
<circle cx="181.0" cy="91.8" r="2.90" fill="#F06F66" />
<text transform="translate(187.0 94.3) scale(1.065 1)" font-size="7" >0</text>
<circle cx="181.0" cy="102.1" r="2.90" fill="#9C9A30" />
<text transform="translate(187.0 104.6) scale(1.065 1)" font-size="7" >1</text>
<circle cx="181.0" cy="112.5" r="2.90" fill="#22B074" />
<text transform="translate(187.0 115.0) scale(1.065 1)" font-size="7" >2</text>
<circle cx="181.0" cy="123.0" r="2.90" fill="#36A5DE" />
<text transform="translate(187.0 125.5) scale(1.065 1)" font-size="7" >3</text>
<circle cx="181.0" cy="133.3" r="2.90" fill="#B878C0" />
<text transform="translate(187.0 135.8) scale(1.065 1)" font-size="7" >4</text>
<text transform="translate(207.0 10.5) scale(1.065 1)" font-size="11" fill="#000" font-weight="bold" >b</text>
<circle cx="269.3" cy="22.2" r="2.70" fill="#F4A58A" />
<circle cx="292.6" cy="22.2" r="2.70" fill="#EE8060" />
<circle cx="269.3" cy="37.7" r="1.90" fill="#FADBD2" />
<circle cx="292.6" cy="37.7" r="2.40" fill="#E8603F" />
<circle cx="269.3" cy="53.2" r="3.50" fill="#FCE0D6" />
<circle cx="292.6" cy="53.2" r="3.70" fill="#EA6B4E" />
<circle cx="269.3" cy="68.6" r="2.90" fill="#F9C6B4" />
<circle cx="292.6" cy="68.6" r="3.10" fill="#E8603F" />
<circle cx="269.3" cy="84.1" r="4.30" fill="#F8B9A4" />
<circle cx="292.6" cy="84.1" r="4.30" fill="#EC7456" />
<circle cx="223.9" cy="99.6" r="3.10" fill="#E6482C" />
<circle cx="246.9" cy="99.6" r="2.20" fill="#FAD4C8" />
<circle cx="223.9" cy="115.1" r="4.40" fill="#E32A24" />
<circle cx="223.9" cy="130.6" r="4.50" fill="#E53B2A" />
<circle cx="246.9" cy="130.6" r="4.40" fill="#FCEEEA" />
<line x1="306.5" y1="13.3" x2="306.5" y2="139.8" stroke="#231f20" stroke-width="0.9" />
<line x1="209.6" y1="139.5" x2="306.7" y2="139.5" stroke="#231f20" stroke-width="0.9" />
<line x1="306.3" y1="22.5" x2="308.8" y2="22.5" stroke="#231f20" stroke-width="0.7" />
<text transform="translate(311.8 25.3) scale(1.065 1)" font-size="8.5" >CTNNB1 targets</text>
<line x1="306.3" y1="37.5" x2="308.8" y2="37.5" stroke="#231f20" stroke-width="0.7" />
<text transform="translate(311.8 40.7) scale(1.065 1)" font-size="8.5" >TCF7 targets</text>
<line x1="306.3" y1="53.5" x2="308.8" y2="53.5" stroke="#231f20" stroke-width="0.7" />
<text transform="translate(311.8 56.2) scale(1.065 1)" font-size="8.5" >STAT6 targets</text>
<line x1="306.3" y1="68.5" x2="308.8" y2="68.5" stroke="#231f20" stroke-width="0.7" />
<text transform="translate(311.8 71.7) scale(1.065 1)" font-size="8.5" >DNMT3A targets</text>
<line x1="306.3" y1="84.5" x2="308.8" y2="84.5" stroke="#231f20" stroke-width="0.7" />
<text transform="translate(311.8 87.2) scale(1.065 1)" font-size="8.5" >WNT signaling module</text>
<line x1="306.3" y1="99.5" x2="308.8" y2="99.5" stroke="#231f20" stroke-width="0.7" />
<text transform="translate(311.8 102.7) scale(1.065 1)" font-size="8.5" >Effector T cell module</text>
<line x1="306.3" y1="115.5" x2="308.8" y2="115.5" stroke="#231f20" stroke-width="0.7" />
<text transform="translate(311.8 118.1) scale(1.065 1)" font-size="8.5" >Antiviral module</text>
<line x1="306.3" y1="130.5" x2="308.8" y2="130.5" stroke="#231f20" stroke-width="0.7" />
<text transform="translate(311.8 133.6) scale(1.065 1)" font-size="8.5" >ISG module</text>
<line x1="223.5" y1="139.4" x2="223.5" y2="141.6" stroke="#231f20" stroke-width="0.7" />
<text transform="translate(223.9 150.8) scale(1.065 1)" font-size="7.2" text-anchor="middle" >3</text>
<line x1="246.5" y1="139.4" x2="246.5" y2="141.6" stroke="#231f20" stroke-width="0.7" />
<text transform="translate(246.9 150.8) scale(1.065 1)" font-size="7.2" text-anchor="middle" >1</text>
<line x1="269.5" y1="139.4" x2="269.5" y2="141.6" stroke="#231f20" stroke-width="0.7" />
<text transform="translate(269.3 150.8) scale(1.065 1)" font-size="7.2" text-anchor="middle" >2</text>
<line x1="292.5" y1="139.4" x2="292.5" y2="141.6" stroke="#231f20" stroke-width="0.7" />
<text transform="translate(292.6 150.8) scale(1.065 1)" font-size="7.2" text-anchor="middle" >0</text>
<text transform="translate(259.4 161.6) scale(1.065 1)" font-size="8.3" text-anchor="middle" >Clusters</text>
<defs><linearGradient id="gb" x1="0" x2="1" y1="0" y2="0"><stop offset="0" stop-color="#E8302A"/><stop offset="0.14" stop-color="#E8362C"/><stop offset="0.5" stop-color="#F29A80"/><stop offset="1" stop-color="#FFF6F2"/></linearGradient></defs>
<rect x="307.20" y="143.80" width="41.00" height="7.60" fill="url(#gb)" />
<text transform="translate(314.1 159.4) scale(1.065 1)" font-size="6.2" text-anchor="middle" >1.5</text>
<text transform="translate(326.0 159.4) scale(1.065 1)" font-size="6.2" text-anchor="middle" >1.0</text>
<text transform="translate(337.7 159.4) scale(1.065 1)" font-size="6.2" text-anchor="middle" >0.5</text>
<text transform="translate(349.0 159.4) scale(1.065 1)" font-size="6.2" text-anchor="middle" >0</text>
<text transform="translate(331.3 171.3) scale(1.065 1)" font-size="7.1" text-anchor="middle" >Average</text>
<text transform="translate(331.3 179.0) scale(1.065 1)" font-size="7.1" text-anchor="middle" >expression</text>
<circle cx="363.0" cy="148.2" r="0.45" fill="#000" />
<circle cx="371.1" cy="148.2" r="1.90" fill="#000" />
<circle cx="379.2" cy="148.2" r="2.60" fill="#000" />
<circle cx="387.5" cy="148.2" r="3.10" fill="#000" />
<circle cx="396.4" cy="148.2" r="3.70" fill="#000" />
<text transform="translate(362.6 159.4) scale(1.065 1)" font-size="6.2" text-anchor="middle" >0</text>
<text transform="translate(371.0 159.4) scale(1.065 1)" font-size="6.2" text-anchor="middle" >25</text>
<text transform="translate(379.5 159.4) scale(1.065 1)" font-size="6.2" text-anchor="middle" >50</text>
<text transform="translate(387.7 159.4) scale(1.065 1)" font-size="6.2" text-anchor="middle" >75</text>
<text transform="translate(397.2 159.4) scale(1.065 1)" font-size="6.2" text-anchor="middle" >100</text>
<text transform="translate(385.6 171.3) scale(1.065 1)" font-size="7.1" text-anchor="middle" >Percent</text>
<text transform="translate(385.6 179.0) scale(1.065 1)" font-size="7.1" text-anchor="middle" >expressed</text>
<text transform="translate(417.5 10.0) scale(1.065 1)" font-size="11" fill="#000" font-weight="bold" >c</text>
<path d="M455.2 12.8 C455.9 12.3 457.4 12.3 458.6 12.5 C459.8 12.7 461.5 13.5 462.6 14.1 C463.7 14.7 464.5 15.1 465.5 16.0 C466.4 16.8 467.4 18.5 468.4 19.3 C469.4 20.2 470.4 20.6 471.5 21.3 C472.7 21.9 474.1 22.4 475.2 23.2 C476.3 24.0 476.9 24.9 478.1 26.0 C479.2 27.0 480.7 28.8 482.1 29.5 C483.5 30.2 484.8 30.4 486.4 30.1 C487.9 29.9 489.8 29.1 491.4 28.3 C493.0 27.4 494.4 26.4 496.0 25.1 C497.7 23.9 500.0 22.0 501.4 20.8 C502.8 19.6 503.4 18.8 504.5 18.0 C505.6 17.3 506.6 16.3 508.2 16.4 C509.7 16.5 512.1 17.4 513.8 18.5 C515.4 19.6 516.5 20.9 517.9 23.0 C519.3 25.0 521.0 27.8 522.0 31.0 C523.0 34.1 523.7 38.5 523.9 42.0 C524.1 45.5 523.6 48.9 523.1 51.9 C522.6 54.9 522.0 57.7 521.0 59.8 C520.0 62.0 518.4 63.5 516.9 64.8 C515.3 66.2 513.6 67.2 511.8 67.8 C510.0 68.5 508.0 68.7 506.1 68.8 C504.2 68.8 502.3 68.2 500.3 68.3 C498.2 68.4 496.2 69.6 493.8 69.5 C491.3 69.4 488.1 68.5 485.6 67.7 C483.0 66.8 480.5 65.4 478.2 64.5 C475.9 63.7 473.8 63.3 471.7 62.6 C469.5 62.0 467.0 61.6 465.1 60.8 C463.2 59.9 461.5 59.2 460.1 57.6 C458.8 56.1 457.5 53.7 456.9 51.3 C456.3 48.9 456.6 46.2 456.5 43.3 C456.4 40.5 456.4 36.8 456.3 34.3 C456.2 31.8 456.1 30.5 455.8 28.3 C455.5 26.1 454.8 23.1 454.6 21.0 C454.3 18.8 454.2 16.8 454.3 15.4 C454.4 14.0 454.5 13.3 455.2 12.8Z" fill="#FFF4F1" />
<path d="M475.2 63.3h0M477.4 46.2h0M473.9 30.2h0M457.7 15.2h0M468.0 39.3h0M467.4 26.4h0M475.1 25.9h0M472.4 39.9h0M461.3 19.8h0M474.4 51.0h0M471.4 24.6h0M473.5 36.5h0M478.4 57.4h0M469.6 58.6h0M457.0 38.7h0M475.4 61.8h0M459.8 55.2h0M460.2 53.9h0M470.5 60.0h0M459.0 44.9h0M463.0 15.5h0M468.4 36.5h0M477.9 34.3h0M468.1 49.9h0M462.2 18.6h0M469.0 29.5h0M480.2 32.1h0M463.7 45.9h0M464.5 52.6h0M468.9 46.6h0M461.3 28.8h0M472.9 25.7h0M466.5 22.6h0M461.3 49.2h0M460.3 32.6h0M465.6 51.9h0M471.8 55.7h0M468.0 48.9h0M462.0 30.4h0M503.0 51.1h0M458.5 21.4h0M461.1 17.1h0M472.1 60.9h0M460.3 39.5h0M465.6 58.5h0M468.6 39.9h0M467.0 52.8h0M473.7 26.3h0M458.1 26.3h0M473.6 26.8h0M478.6 29.8h0M457.5 22.7h0M471.1 56.5h0M463.4 32.0h0M460.0 31.3h0M476.1 59.9h0M464.0 47.5h0M471.2 48.8h0M469.3 33.3h0M462.4 27.7h0M457.4 48.2h0M466.0 32.5h0M474.2 52.1h0M478.6 28.9h0M464.4 16.6h0M475.2 54.9h0M465.6 26.9h0M460.5 39.4h0M474.1 49.9h0M467.8 30.3h0M456.5 19.9h0M466.5 59.5h0M458.6 44.3h0M465.2 26.7h0M456.4 18.4h0M482.8 34.3h0M468.9 58.7h0M460.0 50.9h0M476.1 27.7h0M465.5 20.6h0M470.6 52.7h0M479.6 35.7h0M463.7 36.1h0M467.4 54.9h0M468.5 36.7h0M479.3 31.7h0M476.9 25.6h0M471.6 32.6h0M473.5 42.3h0M455.4 16.4h0M458.4 48.6h0M458.6 28.3h0M475.2 32.0h0M473.3 40.0h0M476.5 37.3h0M463.8 47.7h0M462.4 48.4h0M469.2 53.5h0M478.2 26.9h0M459.0 33.1h0M465.9 44.1h0M475.9 47.3h0M462.1 19.6h0M469.6 54.8h0M461.9 53.3h0M472.9 31.9h0M470.2 32.0h0M477.5 32.9h0M457.5 31.6h0M473.6 25.5h0M458.7 50.5h0M472.7 22.0h0M473.9 33.7h0M467.5 54.5h0M458.7 27.6h0M461.0 19.2h0M469.6 39.3h0M472.4 45.0h0M472.3 38.6h0M476.5 44.4h0M479.4 64.0h0M457.7 23.9h0M459.9 40.3h0M461.6 35.6h0M463.8 32.9h0M459.0 13.3h0M472.9 42.2h0M455.7 12.8h0M461.1 35.2h0M478.2 48.3h0M467.3 46.4h0M476.0 39.7h0M464.2 21.3h0M469.6 55.8h0M474.6 54.0h0M465.7 19.6h0M460.7 38.1h0M460.2 56.0h0M470.2 22.5h0M470.0 23.3h0M474.2 62.2h0M480.6 56.6h0M489.9 68.6h0M474.0 32.0h0M469.8 42.1h0M457.5 27.9h0M460.8 52.3h0M460.7 35.6h0M475.3 56.6h0M473.4 43.8h0M476.1 42.2h0M464.3 16.9h0M455.0 21.0h0M479.1 63.9h0M466.7 40.6h0M462.3 46.5h0M472.5 27.6h0M459.3 48.2h0M470.1 35.2h0M463.0 37.4h0M472.0 61.9h0M479.7 55.0h0M466.7 46.6h0M466.8 49.7h0M479.7 37.2h0M476.1 63.5h0M466.7 43.6h0M476.4 58.3h0M459.7 25.8h0M463.2 52.1h0M459.7 38.8h0M456.3 21.6h0M461.0 53.1h0M468.5 24.5h0M467.4 40.3h0M478.4 29.8h0M468.3 54.5h0M457.1 13.2h0M470.7 27.4h0M459.3 42.9h0M465.3 25.6h0M478.0 28.6h0M471.9 31.4h0M475.1 25.8h0M472.8 61.5h0M462.7 30.1h0M466.1 17.8h0M475.1 50.3h0M469.8 39.2h0M460.6 31.7h0M462.5 51.5h0M480.0 64.5h0M471.0 48.0h0M458.9 16.9h0M471.9 47.0h0M474.9 48.3h0M459.8 34.5h0M465.4 17.5h0M464.4 57.8h0M460.0 38.8h0M466.6 35.1h0M468.0 61.5h0M457.6 18.8h0M472.0 40.7h0M463.6 28.8h0M471.9 24.3h0M471.5 41.0h0M462.0 48.7h0M463.4 25.5h0M458.9 24.7h0M460.1 38.2h0M473.5 62.5h0M474.9 49.1h0M471.1 24.5h0M476.8 50.9h0M469.9 47.6h0M468.5 49.8h0M464.2 25.4h0M465.2 26.6h0M454.7 20.7h0M463.8 25.1h0" stroke="#E04A36" stroke-width="0.8" stroke-linecap="round" fill="none" opacity="0.9"/>
<path d="M469.2 31.2h0M464.4 21.4h0M478.7 52.9h0M483.5 56.3h0M502.1 46.8h0M456.7 46.9h0M475.6 62.3h0M457.8 20.6h0M469.5 21.7h0M455.3 13.5h0M470.5 30.3h0M477.4 46.1h0M479.3 44.6h0M468.0 50.1h0M474.4 39.7h0M459.7 39.9h0M458.5 13.4h0M462.5 17.5h0M458.1 47.7h0M462.9 52.1h0M459.7 23.5h0M459.5 17.9h0M467.2 42.4h0M479.7 37.3h0M466.7 33.4h0M473.1 48.0h0M465.5 31.5h0M467.6 48.2h0M467.7 61.2h0M478.7 53.1h0M474.0 29.9h0M457.6 43.7h0M464.3 48.9h0M469.6 21.5h0M455.6 20.5h0M466.1 45.8h0M482.5 35.7h0M469.0 28.7h0M456.9 16.6h0M461.7 15.7h0M460.9 28.0h0M456.8 19.0h0M473.1 30.3h0M463.5 51.6h0M473.2 52.1h0M470.2 41.3h0M467.0 59.2h0M460.2 56.6h0M461.0 37.3h0M473.6 49.9h0M458.2 44.2h0M472.1 30.3h0M466.4 50.9h0M474.9 42.9h0M460.2 44.1h0M468.0 19.1h0M474.0 39.7h0M463.4 37.4h0M461.8 48.9h0M492.6 47.7h0M456.1 15.9h0M465.4 40.6h0M468.4 26.2h0M457.4 34.9h0M477.6 56.7h0M476.0 24.4h0M474.5 27.2h0M457.0 34.6h0M471.1 50.7h0M458.2 32.6h0M466.9 51.1h0M472.9 43.3h0M459.5 15.9h0M471.5 29.5h0M492.3 46.8h0M461.1 28.6h0M471.3 48.3h0M458.9 13.0h0M473.0 22.8h0M472.4 38.5h0M480.6 57.8h0M471.4 23.6h0M475.5 27.4h0M465.2 26.6h0M474.8 47.1h0M467.1 35.4h0M473.2 39.6h0M489.8 52.6h0M463.7 36.0h0M480.0 59.7h0M467.2 22.3h0M474.1 30.3h0M466.1 31.9h0M474.5 36.9h0M467.7 44.5h0M466.8 58.1h0M467.9 33.6h0M455.9 16.0h0M457.0 26.2h0M472.0 23.0h0M475.0 57.0h0M463.2 18.2h0M478.2 31.3h0M463.4 35.0h0M470.3 36.2h0M471.0 55.5h0M458.9 26.4h0M463.1 28.1h0M457.3 15.5h0M466.7 21.5h0M457.9 21.1h0M477.3 64.0h0M463.1 52.3h0M458.5 33.6h0M459.0 13.0h0M467.6 20.0h0M467.6 35.8h0M465.9 45.2h0M476.7 25.4h0M481.8 43.5h0M473.3 60.9h0M475.7 31.7h0M486.7 45.8h0M462.5 50.8h0M458.8 13.9h0M459.8 29.7h0M507.8 23.6h0M467.5 25.6h0M471.8 50.1h0M459.8 43.7h0M465.9 46.8h0M458.3 32.3h0M473.1 28.0h0M471.1 51.3h0M459.3 31.8h0M480.4 55.1h0M469.3 23.2h0M458.4 52.0h0M464.9 31.8h0M500.7 49.9h0M461.9 28.5h0M472.4 32.2h0M462.9 47.8h0M465.4 49.5h0M470.3 37.7h0M458.0 16.0h0M465.1 40.6h0M467.3 39.8h0M469.0 20.8h0M459.3 13.6h0M478.5 30.3h0M468.8 59.2h0M475.5 37.2h0M458.1 16.5h0M469.6 24.5h0M473.9 35.7h0M456.1 21.2h0M465.8 44.0h0M477.1 35.6h0M457.7 51.8h0M458.5 51.6h0M460.5 37.7h0M466.7 23.4h0M463.4 51.7h0M474.0 53.0h0M459.4 22.8h0M464.7 52.9h0M466.6 36.3h0M464.2 29.0h0M456.4 24.4h0M477.2 28.1h0M456.0 28.7h0M471.9 26.6h0M458.2 43.0h0M472.3 24.9h0M457.7 39.4h0M468.0 27.5h0M458.2 16.1h0M469.7 26.1h0M463.9 28.3h0M460.2 54.6h0M470.9 31.2h0M463.8 42.7h0M477.5 62.1h0M464.9 55.1h0M474.6 60.8h0M483.3 34.8h0M474.3 62.1h0M456.9 18.9h0M460.4 42.8h0M472.0 35.3h0M462.0 18.9h0M477.0 53.0h0M471.1 33.4h0M469.4 48.9h0M457.1 17.1h0M471.9 30.9h0M476.5 54.1h0M477.4 47.4h0M462.3 21.1h0M458.8 46.4h0M459.6 27.9h0M464.7 33.9h0M460.6 47.2h0M456.6 15.6h0M462.6 25.3h0M463.0 29.8h0M471.7 22.1h0M476.3 43.7h0M476.2 61.7h0M474.3 51.8h0M458.6 49.2h0M471.3 52.7h0M459.7 54.1h0M458.2 36.5h0M476.0 53.1h0M478.4 36.8h0M458.7 28.8h0M454.8 16.8h0M460.9 52.6h0M464.0 17.1h0M478.8 30.2h0M468.4 49.2h0M467.1 25.8h0M464.2 28.3h0M458.6 21.4h0M458.2 51.4h0M458.3 13.4h0M463.9 58.5h0M474.8 62.7h0M458.3 17.4h0M457.6 48.8h0M457.6 28.8h0M457.0 29.7h0M498.7 33.2h0M476.3 31.0h0M469.3 23.3h0M469.2 24.3h0M457.2 31.9h0M472.2 57.6h0M459.6 46.0h0M458.0 48.7h0M474.4 23.1h0M465.4 49.1h0M470.9 24.5h0M471.9 38.7h0M460.9 19.8h0M465.5 48.3h0M522.0 55.8h0M471.7 26.2h0M461.6 19.6h0M457.9 42.6h0M462.3 30.9h0M463.0 17.4h0M480.1 45.3h0M501.3 51.6h0M460.5 37.7h0M454.9 18.7h0M465.4 31.7h0M516.6 37.3h0M470.3 47.7h0M468.2 25.0h0M460.7 35.8h0M471.0 54.8h0M464.9 56.7h0M473.9 45.8h0M461.8 51.3h0M479.2 57.9h0M475.5 32.7h0M473.3 46.5h0M462.4 39.0h0M502.3 59.1h0M475.4 55.4h0M479.2 42.7h0M472.6 30.4h0M473.2 23.9h0M467.0 58.0h0M469.9 54.1h0M467.2 40.8h0M474.6 47.3h0M460.3 33.5h0M457.6 48.1h0M460.4 20.1h0M474.6 38.3h0M460.2 30.9h0M471.0 46.5h0M463.8 26.9h0M478.8 35.4h0M470.5 59.9h0M491.9 37.7h0M466.5 33.8h0M513.2 50.4h0M462.3 21.8h0M475.8 37.3h0M459.1 35.1h0M465.3 47.1h0M509.3 19.1h0M468.5 37.8h0M473.6 24.5h0M464.5 57.8h0M479.9 46.6h0M500.9 66.7h0M469.2 22.0h0M467.3 20.1h0M468.2 39.7h0M477.4 28.3h0M474.8 42.9h0M475.4 40.1h0M468.3 30.3h0M460.5 31.9h0M470.4 59.9h0M475.8 58.0h0M473.1 51.5h0M480.0 40.1h0M466.9 37.4h0M460.4 29.6h0M460.0 50.7h0M479.7 64.5h0M466.1 25.6h0M460.9 34.7h0M468.6 47.4h0M457.4 38.1h0M463.2 33.1h0M467.3 44.0h0M468.4 42.4h0M459.4 23.4h0M517.4 46.3h0M464.7 35.0h0M465.3 58.0h0M457.8 52.5h0M465.8 58.3h0M470.5 56.8h0M462.1 17.0h0M471.5 29.1h0M473.6 47.2h0M480.2 42.4h0M457.3 15.3h0M471.2 56.8h0" stroke="#EC8068" stroke-width="0.8" stroke-linecap="round" fill="none" opacity="0.85"/>
<path d="M474.7 57.3h0M468.2 50.6h0M481.5 40.8h0M459.2 35.2h0M458.8 32.9h0M475.6 49.3h0M475.0 53.4h0M461.1 30.4h0M499.6 26.8h0M470.4 40.6h0M464.9 56.4h0M479.5 37.1h0M472.8 57.1h0M470.5 53.6h0M508.6 17.1h0M470.4 22.1h0M465.7 47.0h0M457.6 17.6h0M512.8 32.3h0M464.1 43.3h0M468.8 43.3h0M456.5 17.7h0M463.2 59.5h0M457.7 36.6h0M480.6 30.2h0M517.2 59.9h0M470.0 54.3h0M473.3 62.4h0M474.1 58.6h0M475.8 38.8h0M461.5 14.8h0M485.7 64.3h0M455.8 14.5h0M485.0 59.8h0M519.0 37.3h0M480.6 33.7h0M478.1 52.7h0M458.3 12.6h0M480.1 29.3h0M459.3 20.6h0M474.7 36.0h0M467.1 20.6h0M475.0 25.4h0M472.9 48.8h0M475.1 49.2h0M476.9 59.1h0M465.7 45.5h0M468.7 31.5h0M468.0 33.9h0M457.6 15.7h0M463.1 30.4h0M464.1 28.7h0M468.7 61.6h0M461.8 16.5h0M465.2 31.8h0M464.7 52.4h0M465.3 42.2h0M466.8 61.0h0M469.4 55.7h0M494.5 65.2h0M481.8 38.4h0M456.9 18.0h0M465.9 20.1h0M460.6 42.2h0M465.5 38.7h0M475.8 49.0h0M466.7 29.5h0M482.5 57.4h0M462.7 48.6h0M473.6 33.7h0M474.7 29.5h0M460.5 13.3h0M473.7 61.6h0M467.8 58.1h0M472.1 45.4h0M459.5 39.1h0M461.6 36.6h0M463.6 38.7h0M509.1 21.2h0M475.0 36.8h0M471.9 47.1h0M469.3 23.7h0M460.7 18.9h0M471.4 37.4h0M457.0 14.9h0M484.7 31.2h0M473.4 43.2h0M474.3 31.5h0M473.3 43.4h0M475.2 52.5h0M468.8 31.8h0M473.5 47.7h0M511.6 45.5h0M459.1 18.4h0M460.2 17.9h0M465.2 52.8h0M476.2 53.2h0M468.4 56.3h0M477.4 56.1h0M490.4 35.9h0M462.0 50.0h0M517.0 53.0h0M480.7 33.6h0M462.3 42.1h0M472.1 58.2h0M465.3 59.4h0M470.1 41.1h0M464.7 37.9h0M474.1 46.2h0M466.3 33.5h0M471.7 21.4h0M475.7 41.5h0M463.6 53.3h0M466.7 41.1h0M462.6 57.1h0M465.6 17.0h0M466.7 50.0h0M469.6 56.0h0M456.9 15.8h0M491.7 61.4h0M469.8 50.8h0M472.2 40.6h0M476.1 48.4h0M457.2 48.1h0M458.1 22.9h0M464.9 42.9h0M475.5 49.1h0M456.4 13.5h0M457.1 25.4h0M461.6 39.6h0M465.8 43.2h0M475.4 34.3h0M455.8 19.2h0M457.3 18.7h0M513.6 59.5h0M456.9 25.1h0M464.1 43.4h0M468.9 43.4h0M472.0 60.3h0M473.1 28.0h0M463.7 35.7h0M470.3 30.2h0M499.7 66.9h0M457.0 17.9h0M481.3 45.9h0M478.7 49.5h0M464.7 26.4h0M473.9 46.3h0M472.9 24.3h0M470.2 44.2h0M519.0 58.7h0M474.4 46.7h0M457.2 49.2h0M459.5 36.1h0M497.0 38.8h0M463.0 35.6h0M473.5 51.5h0M460.6 37.2h0M475.4 44.3h0M515.1 40.3h0M461.6 49.9h0M465.1 52.7h0M475.8 45.4h0M461.3 42.3h0M477.8 35.4h0M464.1 38.7h0M460.2 54.3h0M467.5 33.8h0M463.2 31.3h0M478.3 58.9h0M460.3 56.9h0M459.3 27.7h0M470.7 42.0h0M468.0 49.4h0M474.2 28.7h0M459.5 53.6h0M457.7 19.3h0M461.6 45.9h0M483.7 32.6h0M469.9 47.7h0M473.6 46.6h0M471.4 42.9h0M466.2 36.0h0M474.3 34.0h0M465.7 43.6h0M479.2 47.4h0M497.0 45.0h0M479.8 55.5h0M457.4 35.3h0M463.4 58.0h0M475.3 40.8h0M522.2 49.4h0M463.6 17.0h0M468.2 52.6h0M461.4 34.0h0M472.5 37.2h0M468.2 48.3h0M466.3 21.9h0M483.4 49.4h0M502.3 44.1h0M478.7 51.9h0M458.6 40.6h0M463.7 48.3h0M459.5 45.0h0M473.4 47.8h0M476.5 49.5h0M470.0 57.0h0M465.0 19.3h0M516.8 56.6h0M456.4 13.4h0M470.6 35.5h0M468.7 33.4h0M466.2 40.2h0M464.0 19.5h0M481.0 34.8h0M465.9 30.9h0M469.8 32.6h0M501.7 45.2h0M469.9 39.3h0M465.2 30.3h0M473.4 42.2h0M475.6 63.8h0M471.0 53.9h0M458.6 29.4h0M514.1 62.4h0M475.6 51.7h0M468.2 54.6h0M476.7 29.5h0M515.7 62.1h0M471.6 50.0h0M457.3 50.5h0M464.4 31.7h0M464.6 51.8h0M477.0 43.6h0M457.3 25.6h0M499.7 26.8h0M473.3 60.4h0M510.2 26.2h0M474.3 23.0h0M465.8 55.8h0M461.5 17.8h0M470.0 31.3h0M470.2 42.2h0M466.9 25.1h0M458.3 36.7h0M488.5 52.0h0M468.4 23.7h0M478.6 27.6h0M471.8 50.1h0M462.8 36.3h0M460.6 41.2h0M458.1 48.6h0M458.6 45.1h0M456.3 24.5h0M470.3 49.2h0M476.8 47.2h0M467.3 24.3h0M475.2 39.6h0M463.6 37.0h0M456.2 27.8h0M480.8 49.5h0M464.2 25.3h0M493.9 51.2h0M470.7 33.7h0M476.6 36.2h0M486.7 46.8h0M460.4 17.1h0M477.6 57.6h0M473.6 61.2h0M476.9 42.7h0M469.1 53.3h0M469.5 36.0h0M475.0 26.5h0M458.8 48.9h0M467.4 37.1h0M512.3 53.8h0M475.8 32.3h0M479.2 53.1h0M459.0 38.2h0M464.0 17.6h0M457.8 31.8h0M468.1 39.8h0M471.4 53.4h0M466.1 35.1h0M476.5 43.1h0M457.7 13.2h0M464.5 26.2h0M456.9 51.3h0M459.5 42.1h0M455.3 24.1h0M470.7 34.2h0M461.0 16.9h0M458.3 28.9h0M471.5 60.9h0M471.8 29.5h0M467.3 51.0h0M464.9 25.1h0M463.8 24.1h0M465.1 28.7h0M468.5 26.3h0M457.1 21.4h0M463.4 46.0h0M481.6 52.2h0M487.9 32.2h0M459.5 46.6h0M467.9 31.7h0M466.1 60.9h0M456.1 13.1h0M465.0 57.4h0M459.6 19.0h0M461.8 18.0h0M468.0 33.1h0M471.7 36.5h0M482.9 34.9h0M455.8 23.8h0M467.2 29.8h0M464.1 53.6h0M471.9 25.7h0M468.5 31.0h0M469.3 42.5h0M461.0 53.9h0M458.0 19.5h0M477.4 48.9h0M459.8 15.6h0M492.8 53.5h0M470.8 44.2h0M460.3 26.5h0M471.7 24.2h0M458.2 38.6h0M465.1 16.3h0M474.3 52.6h0M463.7 35.4h0M459.6 45.6h0M474.1 22.6h0M471.8 42.2h0M477.2 32.1h0M457.7 29.5h0M464.7 38.5h0M476.5 56.3h0M466.9 25.3h0M476.6 61.3h0M493.4 66.8h0M475.9 29.1h0M521.8 31.7h0M473.5 55.1h0M459.7 26.6h0M462.3 32.7h0M500.2 57.7h0M466.4 50.0h0M477.3 29.8h0M478.5 43.3h0M457.1 25.0h0M460.4 17.6h0M472.0 53.7h0M477.4 39.8h0M474.5 48.1h0M463.9 42.8h0M471.4 46.4h0M477.0 26.9h0M472.1 30.0h0M456.9 34.2h0M479.6 29.4h0M461.5 26.6h0M474.8 23.6h0M468.3 61.0h0M458.6 32.8h0M466.0 39.3h0M465.2 52.3h0M475.3 27.6h0M456.1 13.1h0M473.4 25.9h0M468.4 61.7h0M474.1 51.4h0M497.9 28.3h0M459.9 22.3h0M471.8 32.5h0M473.4 31.4h0M470.2 45.1h0M468.9 37.4h0M463.7 57.4h0M478.4 52.6h0M473.1 37.4h0M472.9 56.9h0M482.8 42.1h0M465.1 20.7h0M455.6 17.0h0M457.8 31.8h0M478.2 49.8h0M476.0 63.1h0M461.8 38.6h0M456.5 14.4h0M459.0 16.3h0M468.9 31.1h0M460.4 32.2h0M468.6 43.7h0M491.7 33.9h0M458.3 49.0h0M467.4 39.6h0M462.8 36.6h0M458.7 38.9h0M504.0 44.0h0M459.2 54.5h0M460.1 13.6h0M464.8 48.8h0M474.5 47.2h0M500.6 27.5h0M469.3 39.8h0M479.7 31.4h0M461.5 52.8h0M467.6 47.6h0M465.3 24.2h0M479.6 59.8h0M467.7 31.5h0M473.8 39.6h0M472.4 39.8h0M461.3 41.9h0M471.2 38.3h0M461.1 30.6h0M472.6 43.7h0M476.4 37.6h0M460.4 21.7h0M466.7 52.1h0M473.2 54.5h0M456.1 18.2h0M478.3 30.2h0M463.9 37.9h0M486.9 65.5h0M466.6 29.4h0M483.3 35.3h0M473.3 60.3h0M468.7 39.9h0M465.3 54.4h0M462.4 16.1h0M464.1 16.2h0M469.3 51.4h0M457.1 33.5h0M479.6 45.0h0M461.6 32.1h0M462.1 44.1h0M462.3 54.3h0M477.8 27.0h0" stroke="#F6B4A4" stroke-width="0.8" stroke-linecap="round" fill="none" opacity="0.85"/>
<ellipse cx="458.9" cy="15.2" rx="3.5" ry="2.2" fill="#D84030" opacity="0.6"/>
<line x1="449.5" y1="11.2" x2="449.5" y2="77.7" stroke="#231f20" stroke-width="0.9" />
<line x1="449.0" y1="77.5" x2="530.6" y2="77.5" stroke="#231f20" stroke-width="0.9" />
<line x1="446.6" y1="12.5" x2="449.4" y2="12.5" stroke="#231f20" stroke-width="0.8" />
<text transform="translate(442.4 15.0) scale(1.2 1)" font-size="6.3" text-anchor="end" >5.0</text>
<line x1="446.6" y1="28.5" x2="449.4" y2="28.5" stroke="#231f20" stroke-width="0.8" />
<text transform="translate(442.4 30.9) scale(1.2 1)" font-size="6.3" text-anchor="end" >2.5</text>
<line x1="446.6" y1="43.5" x2="449.4" y2="43.5" stroke="#231f20" stroke-width="0.8" />
<text transform="translate(442.4 46.2) scale(1.2 1)" font-size="6.3" text-anchor="end" >0</text>
<line x1="446.6" y1="59.5" x2="449.4" y2="59.5" stroke="#231f20" stroke-width="0.8" />
<text transform="translate(442.4 62.0) scale(1.2 1)" font-size="6.3" text-anchor="end" >−2.5</text>
<line x1="446.6" y1="75.5" x2="449.4" y2="75.5" stroke="#231f20" stroke-width="0.8" />
<text transform="translate(442.4 77.5) scale(1.2 1)" font-size="6.3" text-anchor="end" >−5.0</text>
<line x1="468.5" y1="77.7" x2="468.5" y2="79.9" stroke="#231f20" stroke-width="0.8" />
<text transform="translate(468.9 90.4) scale(1.065 1)" font-size="7" text-anchor="middle" >−5</text>
<line x1="488.5" y1="77.7" x2="488.5" y2="79.9" stroke="#231f20" stroke-width="0.8" />
<text transform="translate(488.3 90.4) scale(1.065 1)" font-size="7" text-anchor="middle" >0</text>
<line x1="507.5" y1="77.7" x2="507.5" y2="79.9" stroke="#231f20" stroke-width="0.8" />
<text transform="translate(507.7 90.4) scale(1.065 1)" font-size="7" text-anchor="middle" >5</text>
<line x1="526.5" y1="77.7" x2="526.5" y2="79.9" stroke="#231f20" stroke-width="0.8" />
<text transform="translate(526.9 90.4) scale(1.065 1)" font-size="7" text-anchor="middle" >10</text>
<text transform="translate(495.0 102.1) scale(0.9143127082799589 1)" font-size="8.2" text-anchor="middle" fill="#A32C34" >UMAP_1</text>
<text transform="translate(425.7 44.5) rotate(-90) scale(0.9447897985559576 1)" font-size="8.2" text-anchor="middle" fill="#A32C34" >UMAP_2</text>
<defs><linearGradient id="gIFNG" x1="0" x2="0" y1="0" y2="1"><stop offset="0" stop-color="#7A0E12"/><stop offset="0.25" stop-color="#C4201D"/><stop offset="0.55" stop-color="#F07A62"/><stop offset="1" stop-color="#FDF0EA"/></linearGradient></defs>
<rect x="535.00" y="32.60" width="5.40" height="25.20" fill="url(#gIFNG)" />
<text transform="translate(543.0 37.8) scale(1.065 1)" font-size="5.6" >4</text>
<text transform="translate(543.0 43.4) scale(1.065 1)" font-size="5.6" >3</text>
<text transform="translate(543.0 48.9) scale(1.065 1)" font-size="5.6" >2</text>
<text transform="translate(543.0 54.5) scale(1.065 1)" font-size="5.6" >1</text>
<text transform="translate(543.0 60.0) scale(1.065 1)" font-size="5.6" >0</text>
<text transform="translate(541.0 19.6) scale(1.065 1)" font-size="7.2" text-anchor="middle" >Avg Exp</text>
<text transform="translate(541.0 27.6) scale(1.065 1)" font-size="7.2" text-anchor="middle" font-style="italic" >IFNG</text>
<path d="M594.5 13.8 C595.2 13.4 596.6 13.4 597.8 13.6 C599.0 13.8 600.6 14.6 601.7 15.1 C602.8 15.7 603.5 16.1 604.5 17.0 C605.4 17.8 606.3 19.4 607.3 20.3 C608.3 21.2 609.3 21.6 610.4 22.2 C611.5 22.9 612.9 23.4 614.0 24.1 C615.0 24.9 615.6 25.8 616.7 26.8 C617.9 27.9 619.3 29.7 620.7 30.4 C622.0 31.0 623.3 31.2 624.8 31.0 C626.3 30.8 628.1 29.9 629.7 29.1 C631.3 28.3 632.6 27.3 634.2 26.0 C635.9 24.8 638.1 22.9 639.5 21.7 C640.9 20.5 641.4 19.7 642.5 19.0 C643.6 18.3 644.5 17.3 646.0 17.4 C647.5 17.5 649.9 18.4 651.5 19.5 C653.1 20.6 654.2 21.8 655.5 23.9 C656.9 25.9 658.6 28.7 659.5 31.8 C660.5 34.9 661.2 39.2 661.4 42.6 C661.6 46.1 661.1 49.5 660.6 52.4 C660.2 55.4 659.6 58.2 658.6 60.3 C657.5 62.4 656.0 63.9 654.5 65.2 C653.0 66.5 651.3 67.5 649.5 68.2 C647.8 68.8 645.9 69.0 644.0 69.1 C642.1 69.2 640.4 68.5 638.4 68.6 C636.4 68.7 634.4 69.9 632.0 69.8 C629.6 69.7 626.5 68.8 624.0 68.0 C621.5 67.2 619.1 65.7 616.9 64.9 C614.6 64.1 612.6 63.7 610.5 63.1 C608.4 62.4 606.0 62.0 604.1 61.2 C602.2 60.4 600.6 59.7 599.3 58.1 C597.9 56.6 596.7 54.2 596.1 51.8 C595.5 49.5 595.8 46.8 595.7 44.0 C595.6 41.2 595.7 37.5 595.6 35.0 C595.4 32.6 595.3 31.3 595.0 29.1 C594.7 26.9 594.1 24.0 593.9 21.9 C593.6 19.8 593.5 17.8 593.6 16.4 C593.7 15.1 593.8 14.3 594.5 13.8Z" fill="#FFF4F1" />
<path d="M595.8 17.2h0M603.7 17.4h0M618.2 40.6h0M603.9 26.2h0M604.0 51.1h0M610.6 49.9h0M606.5 34.0h0M610.1 44.3h0M601.3 34.4h0M601.9 25.6h0M603.6 54.5h0M616.3 46.5h0M594.1 21.2h0M595.7 24.3h0M604.6 43.4h0M618.4 62.2h0M602.7 51.4h0M602.3 26.1h0M614.7 44.0h0M614.9 25.2h0M599.1 34.5h0M608.5 47.5h0M595.1 26.9h0M600.6 52.7h0M600.5 16.0h0M609.6 58.5h0M605.8 35.6h0M599.1 27.1h0M618.5 64.9h0M600.3 50.3h0M599.5 54.0h0M601.9 34.5h0M599.2 38.8h0M598.2 35.5h0M599.5 15.5h0M603.7 25.4h0M598.2 43.6h0M598.7 27.3h0M607.7 41.7h0M606.9 28.7h0M597.1 22.1h0M600.8 51.5h0M608.3 21.0h0M606.9 42.0h0M601.9 52.2h0M612.2 47.9h0M597.8 38.4h0M602.7 19.7h0M595.7 42.0h0M606.7 52.4h0M599.9 14.9h0M600.1 18.2h0M612.2 56.4h0M612.5 26.0h0M612.5 57.9h0M597.2 16.5h0M602.2 48.5h0M608.4 51.2h0M601.0 33.7h0M615.1 41.9h0M597.8 28.7h0M599.2 49.2h0M597.0 22.0h0M596.4 15.1h0M595.9 17.6h0M610.2 26.9h0M617.2 60.6h0M596.0 27.1h0M607.2 56.2h0M613.2 56.6h0M596.7 27.6h0M599.7 54.2h0M615.1 38.0h0M597.9 25.5h0M598.4 44.0h0M607.2 39.8h0M598.0 36.1h0M622.7 36.0h0M615.2 38.0h0M613.5 50.1h0M607.1 54.8h0M613.6 55.5h0M611.2 35.3h0M595.9 40.5h0M600.2 40.8h0M616.5 58.2h0M602.4 51.1h0M604.1 56.9h0M607.4 52.2h0M606.6 47.4h0M596.0 29.6h0M613.6 38.0h0M614.8 35.9h0M608.4 40.3h0M599.7 56.2h0M604.1 39.2h0M614.2 30.3h0M601.0 22.5h0M616.5 30.1h0M610.1 28.3h0M601.1 22.6h0M600.0 17.9h0M598.7 19.5h0M615.4 61.4h0M617.4 49.8h0M599.4 15.0h0M615.1 26.6h0M597.0 41.1h0M600.0 53.5h0M609.6 34.4h0M596.1 48.1h0M601.7 27.8h0M607.4 56.0h0M604.7 27.6h0M604.4 56.9h0M615.6 45.4h0M596.9 25.0h0M602.0 39.1h0M598.8 31.3h0M616.6 27.7h0M621.3 38.6h0M596.4 25.0h0M611.7 28.5h0M616.4 38.4h0M606.5 59.2h0M621.6 34.6h0M618.3 59.6h0M596.4 14.9h0M613.1 27.2h0M601.3 47.5h0M601.2 35.2h0M616.2 27.8h0M614.7 45.4h0M597.6 49.2h0M611.9 36.3h0M607.0 27.8h0M598.4 30.9h0M622.3 33.4h0M602.9 49.7h0M601.1 37.5h0M615.7 31.0h0M603.5 36.3h0M615.1 36.6h0M621.1 35.1h0M602.6 20.1h0M612.1 62.0h0M610.4 45.1h0M604.0 61.0h0M595.7 14.9h0M617.3 44.0h0M605.4 56.4h0M615.3 61.1h0M606.2 56.1h0M602.2 15.8h0M611.3 31.0h0M597.6 16.6h0M599.3 41.1h0M613.8 41.0h0M618.5 29.5h0M603.4 50.2h0M614.5 64.1h0M605.2 40.8h0M606.1 19.4h0M601.7 24.3h0M611.7 49.2h0M600.7 49.5h0M602.1 59.0h0M596.7 22.0h0M603.4 32.6h0M613.0 51.2h0M614.7 63.6h0M595.3 13.9h0M602.8 42.7h0M611.3 39.8h0M604.6 25.6h0M602.9 19.3h0M615.1 25.5h0M606.4 49.9h0M607.2 55.4h0M601.2 27.1h0M594.7 18.0h0M600.0 23.0h0M601.4 23.9h0M598.3 29.8h0M595.4 26.9h0M603.7 28.3h0M598.6 50.9h0M599.5 24.8h0M605.0 59.0h0M598.3 52.1h0M613.3 53.4h0M599.2 36.9h0M610.6 31.0h0M597.3 21.8h0M602.3 47.0h0M608.7 58.3h0M611.7 33.1h0M613.2 41.5h0M608.6 62.2h0M598.6 41.7h0M613.4 43.4h0M601.7 39.1h0M596.0 33.5h0M602.2 55.4h0M601.4 32.6h0M623.2 49.9h0M605.7 42.3h0M607.7 46.4h0M596.2 42.6h0M611.7 47.4h0M601.1 52.5h0M600.7 53.0h0M601.7 30.6h0M609.4 22.5h0M606.4 52.7h0M604.2 35.5h0M613.6 60.4h0M600.0 40.4h0M615.2 47.5h0M603.5 57.4h0M604.1 41.6h0M618.9 39.5h0M610.1 35.1h0M610.5 32.0h0M609.1 28.2h0M596.3 39.1h0M613.3 30.9h0M600.6 33.5h0M611.5 45.8h0M606.0 61.7h0M609.3 45.1h0M599.6 44.7h0M607.1 29.7h0M612.6 61.3h0M613.1 50.6h0M612.3 30.3h0M607.2 23.3h0M602.1 59.3h0M603.6 35.2h0M600.1 32.1h0M598.7 43.9h0M598.7 33.6h0M598.4 50.3h0M610.0 37.4h0M604.3 41.5h0M598.3 46.2h0M597.5 19.0h0M599.6 25.8h0M608.2 45.7h0M605.0 27.6h0M610.3 23.3h0M619.9 48.2h0M619.5 50.8h0M601.7 16.6h0M598.5 54.5h0M608.2 56.9h0M607.7 25.3h0M605.3 26.9h0M598.9 20.2h0M605.1 26.7h0M598.5 23.2h0M601.6 19.3h0M616.2 33.4h0M617.3 49.7h0M610.5 30.9h0M618.0 59.1h0M617.5 56.1h0M618.6 64.3h0M601.5 34.4h0M612.5 55.1h0M614.2 58.4h0M596.4 40.2h0M602.1 50.1h0M616.3 54.6h0M598.2 39.7h0M607.2 55.2h0M608.0 46.6h0M600.9 35.5h0M606.6 60.8h0M604.2 52.9h0M611.9 61.6h0M597.4 52.4h0M607.2 44.2h0M603.9 58.7h0M602.0 44.6h0M606.3 31.1h0M600.4 32.3h0M601.2 35.4h0M597.9 43.3h0M604.1 18.6h0M605.3 29.5h0M610.3 23.9h0M609.0 52.1h0M614.7 58.0h0M598.3 43.4h0M601.9 27.3h0M596.8 49.5h0M597.7 41.0h0M602.2 29.5h0M600.0 39.4h0M603.2 23.4h0M603.3 41.1h0M610.1 31.1h0M631.1 39.6h0M610.7 35.2h0M621.0 34.7h0M607.3 32.4h0M594.6 25.7h0M609.5 55.1h0M607.1 61.0h0M604.2 40.0h0M611.5 27.2h0M610.6 25.5h0M604.0 54.5h0M612.6 34.7h0M598.3 38.9h0M612.3 55.6h0M607.4 31.1h0M608.8 41.4h0M608.0 25.2h0M611.2 32.0h0M609.8 46.6h0M608.5 35.7h0M603.9 51.9h0M604.0 33.0h0M599.9 23.4h0M602.1 56.1h0M603.1 40.0h0M601.8 30.2h0M614.4 35.5h0M620.4 39.4h0M602.0 39.1h0M615.8 30.7h0M596.6 49.0h0M616.2 32.0h0M604.5 57.8h0M613.4 49.6h0M612.9 35.6h0M611.6 50.4h0M601.0 19.3h0M614.0 57.4h0M608.4 33.4h0M609.6 38.0h0M601.7 49.5h0M595.2 20.3h0M613.9 26.6h0M607.7 21.9h0M604.9 25.0h0M608.7 26.0h0M595.3 25.3h0M597.4 40.3h0M612.3 41.9h0M620.9 30.4h0M602.4 17.0h0M618.0 42.9h0M620.0 31.4h0M596.3 13.9h0M615.9 49.4h0M614.8 36.6h0M602.1 50.4h0M608.8 28.3h0M613.3 41.7h0M601.2 41.9h0M595.2 16.0h0M609.8 52.7h0M603.2 51.9h0M615.6 46.5h0M603.4 47.0h0M604.6 40.6h0M613.4 46.5h0M597.4 36.1h0M618.7 46.6h0M603.0 42.5h0M596.9 26.9h0M615.7 60.8h0M604.2 39.6h0M613.8 41.1h0M622.5 31.1h0M606.6 45.2h0M610.0 36.5h0M607.3 54.3h0M608.0 33.3h0M612.7 48.3h0M610.7 48.4h0M609.7 57.8h0M604.5 41.2h0M611.1 52.0h0M612.1 55.9h0M598.1 16.1h0M613.9 28.5h0M613.9 48.4h0M615.2 34.5h0M615.9 50.0h0M605.6 53.4h0M618.8 57.2h0M609.1 34.2h0M600.3 58.3h0M597.3 22.1h0M616.8 38.5h0M615.6 39.6h0M595.2 22.6h0M609.5 38.5h0M610.2 50.9h0M605.8 32.8h0M602.4 25.7h0M595.7 30.6h0M620.2 32.9h0M603.0 52.6h0M606.7 43.2h0M614.4 48.1h0M599.7 55.1h0M606.3 46.8h0M610.9 61.1h0M611.6 43.7h0M608.6 23.9h0M605.8 47.5h0M598.6 44.5h0M609.0 45.8h0M598.3 49.0h0M608.2 38.3h0M618.3 36.1h0M613.8 29.5h0M618.3 62.4h0M611.6 37.4h0M602.7 36.4h0M604.1 42.7h0M611.4 27.1h0M602.6 27.5h0M620.6 34.8h0M601.2 38.0h0M600.0 33.6h0M602.3 21.4h0M618.3 61.8h0M602.3 37.1h0M599.4 28.9h0M611.0 36.8h0M612.3 47.8h0M614.0 64.0h0M596.7 40.7h0M600.7 38.3h0M600.8 53.8h0M603.1 16.7h0M600.2 31.5h0M622.1 32.3h0M617.5 44.8h0M619.6 37.7h0M608.9 53.9h0M612.3 29.2h0M598.2 35.7h0M602.3 23.5h0M606.3 34.3h0M600.8 44.7h0M606.8 54.2h0M604.5 54.2h0M614.2 58.9h0M599.1 20.1h0M603.4 58.6h0M618.9 29.8h0M604.3 18.4h0M607.7 25.2h0M599.7 26.2h0M599.1 56.2h0M605.1 32.8h0M598.6 35.1h0M605.6 37.7h0M606.7 39.9h0M614.4 31.1h0M603.3 48.4h0M602.4 43.9h0M598.5 20.1h0M601.6 26.4h0M612.2 52.6h0M619.1 54.0h0M614.3 29.9h0M606.8 44.8h0M598.2 34.6h0M598.6 25.6h0M617.7 36.9h0M602.0 16.4h0M600.1 16.6h0M605.1 52.6h0M598.4 26.3h0M611.7 53.1h0M607.0 55.6h0M609.3 36.9h0M601.4 57.1h0M596.1 27.1h0M613.4 31.2h0M604.4 30.4h0M616.5 53.7h0M600.7 16.7h0M616.7 58.2h0M601.1 29.9h0M602.8 49.7h0M604.7 60.6h0M612.6 62.6h0M608.0 30.9h0M622.9 35.5h0M596.4 31.7h0M598.1 32.8h0M597.8 36.0h0M604.1 41.6h0M612.8 57.2h0M614.2 34.5h0M615.5 53.8h0M617.5 41.1h0M617.8 59.5h0M608.3 22.6h0M604.4 57.5h0M615.8 63.2h0M597.7 54.2h0M600.7 47.7h0M607.7 52.1h0M649.8 55.0h0M620.2 32.3h0M610.1 54.9h0M611.3 52.3h0M603.1 44.4h0M597.5 27.5h0M621.8 39.0h0M607.9 56.5h0M610.1 48.3h0M621.4 37.9h0M606.5 20.2h0M609.3 30.6h0M609.4 34.5h0M611.1 43.3h0M606.2 36.6h0M617.7 27.9h0M596.5 25.3h0M614.9 38.8h0M604.2 41.5h0M597.5 37.7h0M603.0 18.7h0M606.1 29.4h0M607.9 29.4h0M604.2 42.9h0M615.4 26.3h0M614.0 37.8h0M596.9 48.1h0M601.2 49.8h0M615.2 32.4h0M600.5 57.3h0M613.2 54.4h0M618.6 63.5h0M596.3 43.5h0M598.1 37.5h0M621.4 37.0h0M604.1 26.4h0M600.5 58.0h0M605.4 32.4h0M613.1 48.0h0M602.6 26.0h0M617.9 37.4h0M598.9 53.4h0M599.5 45.0h0M601.2 41.2h0M597.3 38.7h0M604.8 55.8h0M613.0 57.3h0M598.8 32.6h0M605.3 22.4h0M614.3 30.1h0M609.0 34.2h0M608.0 32.5h0M614.6 41.4h0M611.5 42.2h0M602.8 59.5h0M615.8 52.4h0M610.4 39.3h0M614.2 26.7h0M600.0 35.1h0M598.0 36.3h0M604.7 21.4h0M607.1 25.6h0M596.8 26.5h0M616.0 33.7h0M615.6 58.8h0M614.7 59.1h0M618.6 63.7h0M613.6 34.0h0M616.3 33.5h0M594.4 15.5h0M619.4 53.2h0M610.4 44.9h0M598.3 17.8h0M618.9 35.2h0M615.7 63.8h0M621.9 31.9h0M598.8 53.8h0M601.1 35.9h0M614.9 36.7h0M595.9 40.2h0M594.0 18.7h0M603.3 31.9h0M598.6 15.3h0M611.1 41.6h0M619.5 35.6h0M608.0 21.9h0M601.8 45.7h0M601.8 53.8h0M603.3 17.8h0M606.8 42.8h0M606.5 27.4h0M599.6 35.2h0M600.4 17.5h0M602.2 37.2h0M614.6 38.7h0M617.3 30.6h0M600.4 36.5h0M615.0 28.8h0M596.1 26.5h0M615.8 52.8h0M615.8 54.4h0M607.2 32.0h0M636.0 37.8h0M608.0 44.7h0M608.5 42.0h0M617.7 34.3h0M596.7 47.0h0M600.1 14.9h0M596.8 50.7h0M598.3 48.0h0M611.0 53.3h0M598.5 15.7h0M639.8 56.4h0M601.7 59.2h0M596.9 48.4h0M606.6 59.6h0M609.0 27.7h0M599.0 21.3h0M600.9 15.6h0M616.4 30.4h0M601.4 48.4h0M598.1 14.6h0M623.3 38.9h0M602.7 43.5h0M614.5 45.5h0M602.5 31.2h0M617.6 57.8h0M613.6 29.5h0M609.8 52.7h0M599.2 25.2h0M595.9 25.9h0M608.6 25.1h0M598.1 50.0h0M596.5 17.4h0M615.7 40.0h0M612.2 46.5h0M611.8 37.0h0M614.7 35.5h0M604.8 48.1h0M612.8 30.7h0M619.0 31.2h0M608.7 48.4h0M616.2 39.7h0M598.1 31.6h0M599.4 52.4h0M616.5 53.7h0M601.8 35.3h0M614.4 31.5h0M604.1 19.1h0M615.9 28.7h0M606.5 33.0h0M600.7 57.2h0M610.1 46.4h0M601.6 16.6h0M611.9 26.1h0M594.6 21.4h0M610.4 52.9h0M613.1 44.2h0M652.7 52.4h0M601.8 28.4h0M613.6 48.3h0M601.8 55.4h0M597.2 43.0h0M595.0 15.8h0M608.0 35.9h0M613.1 62.2h0M605.1 34.3h0M614.5 36.4h0M598.8 51.0h0M617.0 27.9h0M605.1 40.8h0M595.6 25.7h0M607.1 48.6h0M597.8 31.3h0M616.7 35.9h0M607.6 39.3h0M614.9 39.3h0M612.9 24.5h0M600.9 51.5h0M597.1 19.4h0M609.8 56.0h0M606.8 57.6h0M600.8 20.0h0M646.5 27.4h0M605.7 21.1h0M613.8 37.2h0M606.8 32.9h0M605.9 36.6h0M616.9 63.8h0M595.6 27.8h0M613.9 57.6h0M600.5 50.6h0M605.8 31.7h0M615.2 45.7h0M605.6 60.0h0M612.1 42.6h0M602.6 57.9h0M601.4 17.7h0M612.4 26.3h0M637.1 49.4h0M602.4 58.9h0M618.1 35.8h0M606.9 50.9h0M615.3 54.8h0M611.4 27.1h0M613.8 28.3h0M614.5 37.2h0M619.2 45.3h0M598.4 27.7h0M609.3 62.4h0M602.6 42.6h0M607.4 38.6h0M605.9 52.0h0M614.3 29.8h0M607.9 48.6h0M596.1 47.5h0M606.4 47.1h0M604.2 35.2h0M595.8 40.7h0M617.5 64.8h0M604.9 56.7h0M606.4 37.9h0M598.9 53.1h0M622.7 36.6h0M607.5 31.7h0M610.1 47.7h0M600.9 31.6h0M605.5 57.6h0M595.2 21.8h0M609.1 48.8h0M601.7 32.5h0M613.6 55.2h0M603.7 30.1h0M601.3 22.1h0M617.1 36.6h0M609.4 23.1h0M614.9 38.3h0M608.8 46.6h0M600.5 17.9h0M606.2 60.0h0M598.5 48.1h0M604.3 38.4h0M616.2 41.5h0M611.7 48.3h0M609.8 58.2h0M607.6 24.5h0M620.7 30.5h0M615.0 59.4h0M602.2 57.7h0M611.1 60.6h0M620.9 36.5h0M597.1 33.0h0M619.0 31.9h0M609.1 49.2h0M611.2 57.1h0M616.4 32.9h0M609.3 41.7h0M606.3 41.1h0M608.3 45.8h0M598.9 53.1h0M615.2 63.4h0M595.7 40.5h0M604.2 58.6h0M596.7 40.4h0M611.7 59.5h0M620.5 39.2h0M595.8 23.9h0M601.9 41.7h0M611.7 33.0h0M621.9 30.8h0M606.9 54.7h0M604.4 18.1h0M609.8 36.4h0M602.7 37.6h0M605.9 31.4h0M608.0 55.1h0M601.2 29.2h0M604.7 35.2h0M601.3 46.3h0M609.2 30.8h0M608.9 45.5h0M610.3 33.3h0M599.4 45.1h0M620.0 31.4h0M614.6 43.1h0M602.5 45.2h0M604.1 52.6h0M611.4 29.2h0M612.7 32.2h0M610.8 51.4h0M614.6 45.1h0M608.5 50.9h0M600.7 33.1h0M608.6 23.0h0M619.3 65.5h0M614.4 62.4h0M597.8 34.0h0M593.9 18.2h0M601.4 49.3h0M610.0 33.4h0M607.7 52.4h0M600.7 55.8h0M600.3 25.8h0M606.0 40.5h0M599.2 55.5h0M604.5 38.5h0M604.5 39.9h0M596.5 26.4h0M603.5 45.6h0M609.5 55.9h0M600.6 27.6h0M605.0 29.9h0M599.7 17.3h0M613.7 62.1h0M597.6 51.1h0M606.7 53.5h0M608.2 24.7h0M621.0 34.2h0M610.9 34.1h0M596.7 33.3h0M608.9 32.6h0M595.4 26.4h0M619.1 32.6h0M600.3 24.9h0M596.5 35.6h0M616.5 54.7h0M617.0 54.4h0M612.9 40.3h0M622.8 34.3h0M610.0 31.9h0M604.6 53.5h0M602.7 45.5h0M615.6 41.9h0M601.6 41.4h0M608.7 52.0h0M596.0 45.3h0M603.1 50.2h0M595.7 40.2h0M613.3 43.5h0M633.4 58.6h0M616.9 43.5h0M595.2 14.7h0M616.5 39.0h0M596.0 18.7h0M611.2 47.9h0M604.5 59.8h0M601.2 36.9h0M596.9 28.0h0M607.0 51.2h0M604.8 40.9h0M616.4 46.5h0M599.6 30.1h0M613.2 45.4h0M601.5 42.1h0M611.6 55.5h0M596.4 17.6h0M604.1 54.9h0M605.3 18.5h0M599.3 20.8h0M601.8 32.5h0M614.0 27.1h0M613.6 40.0h0M615.0 40.6h0M600.5 30.6h0M609.7 32.7h0M595.9 47.2h0M609.3 30.1h0M618.5 29.8h0M616.0 42.9h0M614.6 48.9h0M598.1 53.0h0M602.4 57.3h0M610.0 51.7h0M617.1 37.0h0M614.7 44.4h0M602.3 28.7h0M597.0 46.5h0M616.4 38.8h0M609.2 35.3h0M605.7 42.0h0M595.6 21.6h0M615.9 52.1h0M605.9 42.7h0M609.5 42.3h0M596.7 35.9h0M613.2 32.8h0M601.9 27.9h0M603.1 44.5h0M613.1 39.5h0M617.0 64.9h0M605.4 59.7h0M603.4 21.6h0M600.5 50.7h0M614.5 62.4h0M601.4 29.6h0M599.0 38.0h0M612.1 53.8h0M601.1 51.6h0M609.3 33.9h0M594.5 17.4h0M605.8 51.0h0M610.0 55.0h0M617.8 64.3h0M611.2 43.2h0M618.6 43.3h0M620.6 34.4h0M596.8 24.6h0M613.5 31.4h0M600.9 54.4h0M600.3 26.5h0M611.4 28.3h0M596.7 30.1h0M606.6 21.9h0M601.3 19.5h0M616.0 26.7h0M616.2 39.3h0M603.3 30.9h0M604.0 47.5h0M620.3 39.4h0M597.2 41.3h0M599.5 34.0h0M598.9 40.0h0M602.9 24.0h0M601.6 49.5h0M617.5 61.8h0M601.0 56.0h0M611.1 29.1h0M616.0 32.2h0M597.1 18.5h0M605.2 50.2h0M603.3 38.7h0M594.8 14.9h0M604.5 44.8h0M607.6 35.0h0M603.6 46.2h0M608.0 25.9h0M607.4 35.0h0M616.8 28.0h0M600.6 35.2h0M607.7 34.6h0M612.4 51.9h0M610.9 60.3h0M596.6 18.6h0M607.3 58.3h0M605.3 29.6h0M597.2 34.4h0M606.2 24.5h0M599.7 58.1h0M595.9 19.0h0M600.7 23.2h0M596.8 35.9h0M614.5 52.0h0M608.2 61.5h0M610.4 30.6h0M611.4 58.8h0M609.9 37.1h0M606.4 52.5h0M598.1 23.1h0M607.0 58.6h0M598.5 20.6h0M602.1 44.0h0M612.5 47.1h0M597.0 27.4h0M606.2 28.0h0M609.9 24.3h0M607.5 25.1h0M597.4 14.4h0" stroke="#D23424" stroke-width="0.8" stroke-linecap="round" fill="none" opacity="0.9"/>
<path d="M599.8 50.2h0M614.9 55.4h0M605.6 61.1h0M601.3 47.5h0M611.8 33.5h0M611.0 46.3h0M596.3 40.5h0M601.0 23.2h0M599.0 53.9h0M610.5 30.9h0M596.2 17.5h0M616.4 46.3h0M611.2 43.7h0M601.5 37.6h0M603.9 32.9h0M607.0 58.0h0M601.3 58.7h0M608.8 58.1h0M596.9 16.2h0M604.4 18.7h0M599.9 41.9h0M613.5 44.6h0M612.9 33.6h0M601.2 44.6h0M617.6 37.2h0M609.7 40.1h0M599.5 49.0h0M598.4 48.9h0M610.7 47.5h0M597.1 44.2h0M601.7 26.9h0M597.3 49.4h0M598.6 26.6h0M602.7 52.5h0M605.2 18.1h0M608.0 39.9h0M597.1 22.4h0M605.4 60.7h0M598.3 17.2h0M620.7 53.8h0M601.6 59.2h0M598.7 39.8h0M619.1 35.3h0M611.1 41.5h0M600.9 35.6h0M604.4 51.4h0M613.5 60.1h0M654.4 45.3h0M604.9 54.3h0M642.4 39.0h0M610.4 52.7h0M599.4 45.4h0M598.9 52.3h0M599.4 47.6h0M632.9 57.3h0M594.5 16.4h0M610.2 42.3h0M604.2 17.4h0M607.5 54.7h0M597.0 25.3h0M611.0 38.2h0M609.7 32.1h0M608.2 43.5h0M597.8 51.8h0M610.5 25.5h0M609.7 34.3h0M610.5 49.3h0M612.2 59.0h0M610.4 40.9h0M600.4 50.1h0M655.2 45.4h0M614.6 26.3h0M599.4 23.2h0M601.0 17.0h0M602.0 49.5h0M622.6 33.4h0M600.2 16.0h0M597.1 33.1h0M609.2 62.4h0M594.6 20.0h0M594.9 22.8h0M612.7 44.8h0M600.0 27.0h0M596.9 48.3h0M613.1 41.8h0M610.3 38.6h0M606.4 41.9h0M617.2 31.7h0M616.1 57.6h0M607.3 51.7h0M607.1 55.3h0M609.1 56.4h0M596.4 19.8h0M608.3 27.3h0M606.9 37.2h0M613.7 34.2h0M621.2 36.8h0M602.1 35.1h0M599.4 53.1h0M597.3 45.2h0M595.1 14.9h0M615.5 37.9h0M607.4 45.4h0M612.9 24.3h0M605.2 51.6h0M614.0 55.5h0M620.1 30.4h0M609.8 33.9h0M602.6 30.3h0M596.8 24.5h0M607.2 39.1h0M617.5 27.7h0M613.4 35.8h0M598.5 53.2h0M605.2 18.0h0M600.1 15.5h0M606.3 48.4h0M610.5 49.9h0M605.0 22.7h0M604.1 26.4h0M617.1 30.8h0M596.5 18.9h0M614.5 61.6h0M600.7 48.7h0M607.5 54.4h0M612.6 30.4h0M613.6 63.0h0M613.0 35.6h0M616.3 32.6h0M603.9 58.2h0M607.5 34.8h0M657.5 57.2h0M598.5 52.0h0M607.0 33.9h0M596.5 37.3h0M597.9 26.8h0M615.3 47.3h0M639.5 58.0h0M597.4 39.5h0M597.8 36.6h0M612.2 55.1h0M602.5 23.9h0M616.8 31.4h0M601.1 28.0h0M604.9 44.9h0M607.9 56.7h0M594.7 19.4h0M606.5 55.7h0M604.1 34.5h0M595.8 34.1h0M606.5 26.9h0M614.7 62.7h0M608.7 56.6h0M599.8 55.9h0M608.1 42.7h0M595.9 30.2h0M605.4 34.8h0M618.5 51.3h0M603.9 55.7h0M617.3 31.1h0M619.2 65.3h0M601.5 25.3h0M599.8 21.5h0M604.6 17.7h0M607.1 40.0h0M602.8 42.5h0M597.9 29.4h0M595.7 14.2h0M597.6 33.8h0M613.3 42.5h0M612.3 33.7h0M599.1 19.2h0M612.5 41.9h0M608.5 24.8h0M647.7 25.4h0M610.4 28.1h0M607.6 48.1h0M608.1 21.5h0M608.5 31.5h0M615.1 51.7h0M600.3 40.1h0M600.2 56.3h0M604.2 33.1h0M598.3 40.7h0M612.8 44.3h0M660.1 47.0h0M609.0 42.2h0M616.3 43.8h0M607.5 55.9h0M601.0 38.4h0M616.8 37.0h0M602.4 53.6h0M618.2 31.4h0M614.8 58.9h0M609.3 61.7h0M616.8 43.5h0M598.6 51.0h0M594.4 20.0h0M617.6 43.3h0M619.4 33.8h0M630.2 38.9h0M600.6 38.9h0M600.8 55.8h0M601.8 45.3h0M604.2 32.2h0M606.8 55.0h0M597.8 45.6h0M612.7 32.2h0M603.2 18.3h0M650.7 61.0h0M612.3 28.4h0M619.5 37.1h0M616.6 45.1h0M594.6 14.5h0M603.3 56.4h0M615.0 57.7h0M608.8 30.0h0M601.0 20.4h0M596.2 37.3h0M610.4 53.2h0M615.3 54.4h0M622.8 39.5h0M616.3 32.0h0M609.2 52.9h0M605.0 22.2h0M611.3 47.9h0M601.6 41.6h0M614.0 32.4h0M610.4 43.9h0M612.6 47.7h0M604.1 60.7h0M605.4 37.8h0M599.3 29.1h0M600.5 37.7h0M608.9 48.4h0M608.3 59.0h0M616.0 36.7h0M611.0 51.9h0M595.8 42.2h0M601.1 20.7h0M600.1 56.2h0M613.1 52.7h0M603.4 33.5h0M601.3 46.1h0M611.8 30.2h0M604.6 33.3h0M607.0 39.4h0M606.7 53.5h0M597.1 47.1h0M594.8 18.0h0M614.3 37.0h0M608.0 34.4h0M610.0 36.4h0M595.8 25.8h0M601.2 19.2h0M612.3 54.7h0M615.7 38.7h0M597.9 51.5h0M610.1 59.2h0M597.8 40.1h0M602.2 49.2h0M603.3 16.8h0M598.3 33.7h0M611.3 50.0h0M597.0 32.9h0M618.2 38.6h0M598.0 30.0h0M599.3 26.7h0M598.2 39.6h0M615.6 44.6h0M596.6 43.5h0M612.1 58.6h0M598.1 22.7h0M616.8 31.8h0M596.0 29.3h0M602.8 58.9h0M600.7 18.1h0M602.7 56.7h0M605.6 36.4h0M614.5 25.8h0M600.8 55.1h0M610.6 37.8h0M604.5 57.4h0M602.0 16.9h0M603.0 32.2h0M612.2 46.2h0M613.9 48.6h0M617.9 50.7h0M603.8 59.5h0M612.8 62.4h0M607.3 46.7h0M606.4 24.1h0M604.7 30.6h0M608.5 37.3h0M596.4 43.5h0M610.9 23.4h0M606.7 46.6h0M605.3 28.0h0M604.4 30.9h0M623.2 39.3h0M606.0 28.5h0M608.1 35.7h0M597.3 52.8h0M608.4 24.3h0M600.1 23.8h0M608.1 42.8h0M617.0 33.9h0M598.3 31.4h0M610.5 31.1h0M618.6 56.3h0M618.5 53.3h0M620.4 34.6h0M611.7 36.3h0M619.3 29.9h0M605.8 38.9h0M623.0 33.5h0M610.8 31.1h0M610.9 54.9h0M603.3 60.6h0M620.8 52.0h0M599.5 49.7h0M600.8 52.0h0M604.8 30.8h0M607.2 27.0h0M610.3 41.7h0M604.2 18.0h0M600.3 49.5h0M600.8 57.1h0M602.9 58.4h0M608.6 40.1h0M611.6 38.6h0M597.5 35.6h0M621.7 38.5h0M612.1 27.4h0M598.0 26.0h0M604.9 20.8h0M604.9 29.0h0M597.5 43.4h0M601.1 45.7h0M599.2 55.3h0M596.3 36.7h0M600.4 50.2h0M597.7 39.7h0M615.0 47.0h0M603.7 44.9h0M611.2 32.0h0M594.8 14.7h0M602.8 35.0h0M604.5 46.4h0M610.6 45.2h0M603.7 33.2h0M600.3 50.8h0M611.3 55.4h0M605.8 60.5h0M604.7 44.8h0M598.7 31.3h0M602.6 24.3h0M611.6 36.0h0M594.5 24.9h0M613.2 53.3h0M616.0 26.6h0M599.1 29.7h0M633.6 43.4h0M606.6 43.4h0M599.4 19.2h0M612.9 44.5h0M615.6 34.4h0M605.4 24.3h0M614.7 37.9h0M612.2 47.5h0M600.3 56.7h0M606.4 42.4h0M595.6 35.5h0M599.7 53.1h0M596.7 27.2h0M609.8 56.9h0M612.8 34.4h0M614.7 57.8h0M603.6 54.3h0M616.6 47.8h0M600.9 30.7h0M600.4 14.6h0M607.5 52.8h0M605.3 49.5h0M596.6 25.8h0M605.2 59.0h0M618.9 47.3h0M607.8 58.3h0M620.7 31.9h0M609.7 44.7h0M599.0 26.1h0M616.3 42.6h0M613.1 28.2h0M613.9 31.7h0M609.5 23.6h0M613.3 49.0h0M610.0 22.4h0M613.6 50.3h0M615.5 37.2h0M603.6 49.3h0M614.8 35.3h0M616.8 28.4h0M613.0 46.7h0M624.3 34.0h0M606.1 42.1h0M596.5 26.1h0M605.1 19.6h0M609.3 39.9h0M603.1 49.2h0M597.7 33.0h0M613.6 26.7h0M610.0 46.1h0M619.2 32.6h0M597.9 48.1h0M605.3 54.2h0M606.7 55.0h0M612.0 24.6h0M622.1 33.5h0M603.7 24.6h0M600.4 41.7h0M596.3 23.8h0M616.9 34.0h0M593.9 18.0h0M612.6 60.2h0M606.7 20.6h0M601.9 40.8h0M608.4 46.6h0M613.8 26.6h0M619.0 49.5h0M647.7 33.4h0M596.8 32.2h0M601.7 55.2h0M596.5 39.4h0M612.4 46.7h0M596.9 38.2h0M604.7 22.1h0M615.3 27.4h0M620.0 36.8h0M609.4 43.4h0M598.8 53.9h0M594.9 22.3h0M611.1 42.5h0M617.6 30.1h0M595.7 28.9h0M609.5 25.0h0M612.5 32.6h0M645.0 36.3h0M606.9 32.1h0M612.5 49.1h0M604.7 61.1h0M613.5 44.3h0M622.8 31.3h0M617.4 39.4h0M600.3 48.3h0M612.6 42.7h0M610.4 36.8h0M611.7 42.5h0M614.6 52.3h0M607.4 52.9h0M603.6 34.1h0M621.7 32.0h0M612.3 41.3h0M605.8 57.5h0M597.5 51.8h0M598.6 15.0h0M609.0 49.5h0M601.6 59.5h0M611.2 54.2h0M609.4 49.0h0M614.7 47.4h0M619.7 34.6h0M613.9 32.6h0M622.4 38.3h0M606.3 58.3h0M611.2 54.2h0M599.0 29.3h0M606.5 58.2h0M598.8 54.9h0M596.9 27.9h0M607.1 49.2h0M611.0 51.3h0M613.6 62.5h0M598.8 14.3h0M608.9 44.1h0M612.0 55.8h0M599.5 44.4h0M597.2 37.6h0M615.9 32.9h0M609.6 52.6h0M603.4 33.8h0M603.9 28.5h0M608.3 48.1h0M612.9 36.0h0M605.5 57.4h0M605.2 34.7h0M596.1 39.7h0M603.2 23.2h0M599.9 42.6h0M605.3 57.1h0M618.7 38.3h0M613.5 53.6h0M606.4 28.6h0M607.5 48.0h0M620.0 45.1h0M603.2 42.2h0M605.4 53.6h0M616.1 43.3h0M603.4 39.9h0M615.1 51.3h0M610.6 48.5h0M602.9 40.5h0M617.6 35.6h0M610.6 58.4h0M658.5 50.6h0M601.6 38.8h0M598.6 14.5h0M613.4 61.7h0M599.1 36.0h0M619.3 65.9h0M599.8 29.0h0M605.9 27.5h0M611.9 50.2h0M603.8 33.1h0M612.1 37.2h0M612.2 33.4h0M616.2 58.8h0M612.4 62.7h0M597.2 21.2h0M598.0 21.7h0M607.4 28.4h0M612.7 59.7h0M605.1 24.5h0M614.2 29.5h0M596.6 48.5h0M603.6 46.6h0M609.4 21.7h0M608.9 57.1h0M599.0 19.5h0M595.1 27.2h0M596.8 28.4h0M598.2 50.1h0M614.3 40.9h0M601.4 53.8h0M599.2 21.8h0M607.2 62.0h0M608.1 53.3h0M606.2 29.1h0M621.3 35.0h0M607.3 49.1h0M612.8 59.0h0M619.6 39.2h0M601.6 28.3h0M617.4 38.4h0M600.6 16.4h0M603.4 19.7h0M661.1 43.8h0M618.6 31.5h0M605.8 32.5h0M600.8 53.3h0M594.9 19.5h0M613.0 27.9h0M601.4 24.8h0M609.1 39.0h0M615.9 33.0h0M597.8 41.5h0M600.3 37.5h0M605.2 60.5h0M610.0 58.6h0M616.7 39.6h0M603.4 21.8h0M603.8 44.7h0M611.2 44.2h0M597.0 48.8h0M603.7 20.4h0M600.3 53.4h0M609.0 47.8h0M603.6 47.6h0M601.1 56.2h0M607.4 43.3h0M603.7 38.8h0M613.4 62.6h0M607.7 51.5h0M606.3 28.8h0M597.1 45.6h0M602.7 44.2h0M600.0 36.6h0M602.3 44.0h0M612.3 49.3h0M606.3 57.6h0M609.4 37.0h0M614.7 35.1h0M616.5 57.8h0M627.0 67.0h0M605.1 54.5h0M603.4 51.4h0M612.7 25.8h0M605.9 25.3h0M603.5 50.0h0M596.1 19.7h0M619.7 40.9h0M615.9 37.3h0M603.0 41.0h0M611.6 39.2h0M599.7 45.1h0M610.2 22.4h0M607.1 35.6h0M602.4 34.1h0M656.3 48.1h0M605.9 30.3h0M615.5 40.9h0M603.4 59.7h0M613.8 27.0h0M614.6 41.4h0M607.7 56.5h0M596.9 39.6h0M609.5 51.3h0M609.4 40.2h0M610.1 33.8h0M594.8 24.8h0M596.8 39.7h0M601.0 32.7h0M610.1 58.8h0M634.1 40.0h0M602.5 15.8h0M613.0 36.3h0M603.0 37.5h0M604.9 49.9h0M597.5 24.4h0M605.5 40.6h0M602.1 26.1h0M608.0 22.8h0M599.0 20.4h0M599.1 33.6h0M610.4 56.9h0M604.6 17.9h0M603.4 17.1h0M609.0 23.1h0M614.1 47.5h0M620.4 34.5h0M605.1 27.1h0M614.3 52.9h0M598.1 35.9h0M603.0 21.9h0M614.2 51.3h0M609.9 52.7h0M608.2 32.8h0M616.2 63.3h0M609.4 53.3h0M600.4 49.3h0M600.7 42.8h0M600.7 47.0h0M600.6 43.6h0M613.5 34.9h0M603.1 33.2h0M610.5 50.0h0M610.2 25.5h0M600.1 54.7h0M604.4 26.3h0M599.9 31.2h0M610.3 29.5h0M599.2 39.3h0M608.7 22.7h0M600.4 56.7h0M610.4 36.1h0M614.4 60.5h0M598.5 45.8h0M598.4 30.7h0M598.6 20.5h0M615.2 37.5h0M645.0 52.0h0M600.3 37.0h0M599.1 16.3h0M601.4 24.5h0M603.7 33.1h0M614.7 33.1h0M607.9 48.7h0M613.4 48.8h0M604.0 49.9h0M597.4 49.4h0M594.0 21.2h0M612.2 44.3h0M603.3 37.2h0M616.0 58.2h0M618.9 65.3h0M607.2 40.7h0M605.6 28.7h0M608.5 21.6h0M594.3 15.9h0M611.9 40.5h0M604.9 51.4h0M609.4 53.5h0M616.6 34.0h0M611.3 50.5h0M601.3 15.4h0M612.5 46.0h0M610.4 56.2h0M617.8 34.2h0M611.5 31.1h0M603.3 23.0h0M601.7 16.2h0M611.9 49.0h0M610.5 44.7h0M601.1 42.6h0M605.0 29.4h0M601.3 20.4h0M612.4 60.3h0M606.0 44.3h0M605.7 20.1h0M616.6 27.1h0M605.3 50.5h0M611.7 48.2h0M605.8 58.6h0M606.6 42.8h0M610.8 55.1h0M603.6 59.2h0M614.7 39.2h0M599.8 40.7h0M640.3 57.3h0M610.8 26.9h0M609.5 42.4h0M610.2 53.4h0M618.7 56.1h0M615.8 27.2h0M594.6 14.0h0M601.2 41.5h0M599.1 35.2h0M606.8 46.6h0M596.4 41.1h0M603.3 19.0h0M606.2 50.6h0M610.6 27.5h0M606.1 20.3h0M616.9 39.8h0M611.0 36.9h0M608.9 26.9h0M599.6 17.7h0M613.3 43.7h0M596.2 33.3h0M611.1 41.9h0M603.7 24.8h0M615.5 32.6h0M602.2 18.9h0M612.1 53.3h0M599.5 51.7h0M601.5 20.3h0M617.8 33.5h0M607.4 26.9h0M601.7 35.5h0M606.1 41.6h0M610.8 56.1h0M616.3 59.8h0M613.8 59.6h0M615.0 30.4h0M602.7 48.0h0M617.7 42.4h0M596.2 35.6h0M600.2 54.5h0M612.7 27.4h0M625.5 35.3h0M599.8 37.8h0M599.6 41.4h0M594.5 23.1h0M615.4 63.4h0M611.8 58.1h0M602.2 19.8h0M599.5 45.2h0M599.6 49.7h0M611.8 62.0h0M608.5 30.2h0M597.2 35.1h0M611.1 62.1h0M602.5 26.4h0M601.5 59.5h0M596.8 36.1h0M595.6 26.6h0M598.9 37.2h0M601.3 27.4h0M597.9 49.8h0M608.0 53.5h0M595.9 30.7h0M621.8 37.0h0M600.2 44.8h0M598.5 55.0h0M605.6 42.1h0M605.1 51.3h0M611.9 45.7h0M609.9 35.8h0M610.4 52.9h0M602.7 39.7h0M598.9 17.2h0M597.6 44.6h0M598.8 48.2h0M596.2 51.7h0M600.4 55.2h0M606.3 25.8h0M601.1 25.6h0M612.7 53.4h0M607.3 32.3h0M594.5 19.8h0M604.7 60.9h0M604.7 38.6h0M603.4 35.0h0M599.7 20.2h0M602.1 50.5h0M602.8 28.6h0M601.1 19.5h0M612.9 37.4h0M595.6 19.6h0M607.2 55.0h0M626.8 32.2h0M598.0 30.7h0M615.1 38.8h0M610.0 34.3h0M607.6 52.6h0M609.7 45.7h0M612.5 56.9h0M605.7 25.0h0M609.5 43.1h0M603.7 54.9h0M601.8 39.2h0M615.7 31.9h0M605.5 53.9h0M605.4 25.8h0M600.1 52.5h0M603.3 33.6h0M616.5 62.3h0M600.1 53.3h0M595.6 32.7h0M604.8 44.1h0M605.6 45.2h0M609.8 49.2h0M604.5 49.2h0M604.0 23.3h0M604.3 52.5h0M609.2 49.7h0M596.4 31.6h0M608.3 52.9h0M602.0 15.7h0M601.9 35.9h0M595.9 26.3h0M606.8 55.2h0M596.4 37.3h0M602.2 39.6h0M602.8 31.1h0M622.0 30.8h0M605.3 23.7h0M603.3 39.2h0M621.5 34.4h0M639.2 31.0h0M614.7 27.5h0M598.6 30.2h0M610.0 36.7h0M613.7 53.4h0M608.2 22.9h0M608.4 33.2h0M614.6 56.1h0M604.9 29.3h0M609.8 26.6h0M594.3 21.0h0M602.5 33.7h0M594.9 27.3h0M601.6 43.2h0M596.6 49.5h0" stroke="#E45A42" stroke-width="0.8" stroke-linecap="round" fill="none" opacity="0.85"/>
<path d="M630.0 38.5h0M605.0 24.7h0M597.8 24.5h0M620.2 46.9h0M618.8 38.4h0M612.4 48.5h0M611.3 45.2h0M603.7 58.1h0M656.1 50.0h0M657.0 29.8h0M598.8 14.0h0M640.1 56.5h0M605.7 30.6h0M619.2 57.6h0M610.3 55.8h0M599.9 48.2h0M600.7 45.6h0M606.4 28.9h0M601.6 41.6h0M597.2 46.7h0M607.2 26.0h0M618.1 64.6h0M601.7 40.1h0M613.5 27.4h0M618.6 31.0h0M611.8 47.0h0M594.1 20.5h0M615.0 51.0h0M618.7 59.6h0M603.1 21.9h0M602.7 29.0h0M650.6 28.3h0M611.4 36.1h0M596.9 39.7h0M601.0 28.8h0M599.9 36.3h0M595.2 20.6h0M622.5 53.9h0M602.1 31.0h0M608.0 25.5h0M600.4 41.9h0M632.3 55.7h0M596.2 24.1h0M603.6 22.0h0M630.1 45.7h0M618.2 29.5h0M612.9 24.6h0M619.3 45.4h0M605.9 22.4h0M607.2 43.0h0M598.8 54.9h0M636.3 49.0h0M610.0 44.5h0M608.7 39.4h0M612.4 53.4h0M599.1 18.0h0M612.1 54.5h0M598.2 44.4h0M611.9 35.5h0M657.1 32.4h0M595.8 43.9h0M601.1 27.7h0M594.8 15.2h0M607.6 32.2h0M598.2 43.0h0M609.9 49.4h0M601.6 25.9h0M603.7 49.4h0M608.9 23.5h0M597.0 22.9h0M610.8 57.8h0M603.5 38.2h0M596.0 22.6h0M655.9 33.0h0M609.1 39.0h0M635.8 61.8h0M610.0 42.8h0M654.2 55.6h0M594.2 21.6h0M600.4 21.5h0M599.3 23.5h0M612.7 35.7h0M656.9 33.3h0M595.3 28.7h0M613.3 41.6h0M617.4 48.7h0M599.8 46.2h0M603.9 52.5h0M608.7 39.8h0M617.0 40.4h0M622.7 41.4h0M657.4 40.1h0M598.4 38.8h0M596.0 21.6h0M625.2 59.2h0M596.4 17.7h0M595.2 17.1h0M630.6 31.0h0M613.4 52.2h0M627.7 58.6h0M609.2 25.2h0M617.9 34.4h0M597.9 34.1h0M594.2 20.5h0M607.7 38.2h0M599.7 24.1h0M620.3 61.9h0M601.4 23.9h0M658.1 51.4h0M634.3 61.4h0M599.7 34.2h0M603.1 39.7h0M606.3 48.3h0M614.3 51.2h0M616.7 37.0h0M600.6 34.8h0M611.3 49.8h0M597.5 42.4h0M604.9 55.7h0M611.2 57.4h0M609.0 34.0h0M602.6 28.0h0M597.0 50.9h0M651.9 40.3h0M597.8 16.6h0M622.2 36.1h0M602.8 41.5h0M607.0 39.1h0M609.9 26.8h0M607.5 21.8h0M600.5 45.8h0M621.2 61.1h0M622.5 51.6h0M601.0 23.7h0M610.3 32.0h0M600.4 47.9h0M598.4 55.7h0M599.1 31.1h0M653.6 37.8h0M655.0 59.4h0M610.8 29.1h0M595.0 26.9h0M617.0 55.3h0M616.1 64.0h0M610.6 37.4h0M595.9 27.5h0M646.1 56.8h0M625.5 38.3h0M599.9 41.9h0M603.9 37.6h0M605.9 34.4h0M643.8 51.9h0M640.5 43.5h0M602.2 52.2h0M609.3 34.6h0M648.1 30.5h0M617.3 38.0h0M605.3 35.6h0M607.1 34.8h0M610.6 47.1h0M599.6 30.2h0M603.8 34.9h0M599.7 19.7h0M611.2 54.7h0M614.8 63.9h0M657.0 31.0h0M599.4 38.9h0M597.8 29.3h0M635.8 42.3h0M605.0 41.9h0M611.4 51.2h0M624.5 56.6h0M599.6 16.7h0M616.9 28.6h0M596.9 23.8h0M598.0 21.4h0M605.2 32.4h0M603.7 49.2h0M604.7 21.7h0M609.8 25.7h0M601.5 49.1h0M607.1 25.1h0M597.2 17.3h0M616.3 62.4h0M638.0 40.1h0M612.5 29.4h0M614.5 45.7h0M606.5 20.0h0M600.0 47.4h0M602.4 29.4h0M598.3 42.5h0M604.8 30.3h0M606.2 39.7h0M611.9 30.9h0M604.8 58.8h0M596.3 21.7h0M603.3 48.5h0M640.2 23.0h0M609.8 26.8h0M609.3 23.4h0M637.8 26.5h0M608.5 57.9h0M598.6 50.1h0M603.2 17.7h0M603.1 44.9h0M614.4 28.9h0M598.1 13.9h0M609.5 42.9h0M596.8 31.4h0M617.0 51.2h0M595.7 25.2h0M597.3 19.3h0M602.8 30.6h0M596.5 31.2h0M637.4 28.5h0M603.7 19.8h0M643.5 60.8h0M598.3 36.8h0M602.2 58.3h0M602.1 37.3h0M596.4 28.2h0M609.3 53.3h0M603.4 46.4h0M601.9 39.4h0M616.3 41.4h0M597.5 50.5h0M632.8 57.6h0M614.5 41.4h0M617.6 61.6h0M638.4 50.9h0M600.2 20.5h0M602.4 36.7h0M607.1 24.2h0M597.0 27.6h0M603.7 48.2h0M652.7 29.0h0M618.6 43.9h0M604.1 53.4h0M653.8 52.3h0M653.8 60.2h0M626.9 50.3h0M632.3 65.5h0M631.8 59.0h0M613.6 30.5h0M621.3 46.1h0M616.1 62.0h0M598.6 41.7h0M608.2 25.8h0M608.5 58.6h0M654.3 46.3h0M607.6 56.7h0M607.1 55.6h0M615.7 29.1h0M613.9 30.1h0M604.8 20.1h0M609.4 41.4h0M602.0 43.1h0M596.6 26.2h0M601.7 52.1h0M598.9 49.1h0M604.9 40.7h0M605.3 43.6h0M602.5 30.7h0M608.7 38.1h0M599.2 18.3h0M606.6 48.2h0M654.2 45.0h0M624.1 45.1h0M595.6 23.3h0M646.0 22.8h0M610.6 41.9h0M601.7 37.7h0M600.2 17.3h0M620.0 37.3h0M599.3 16.4h0M617.5 43.9h0M603.0 49.1h0M607.7 50.6h0M607.8 57.3h0M607.7 21.4h0M613.0 30.3h0M604.3 24.2h0M627.2 61.5h0M602.2 44.3h0M603.4 52.3h0M609.6 44.8h0M611.6 56.7h0M633.5 52.8h0M620.2 47.1h0M594.7 22.2h0M647.2 48.4h0M598.8 55.3h0M611.9 37.2h0M599.2 57.7h0M608.3 52.9h0M651.6 53.8h0M614.3 38.4h0M628.9 62.3h0M605.7 54.6h0M625.0 38.0h0M600.5 52.0h0M598.5 34.8h0M600.2 18.2h0M609.4 54.4h0M621.8 60.2h0M599.0 39.8h0M595.8 33.4h0M597.1 28.5h0M614.0 42.5h0M606.9 26.0h0M599.1 22.2h0M608.3 60.8h0M645.0 24.7h0M625.7 42.2h0M604.7 19.5h0M616.3 27.5h0M605.9 34.6h0M628.4 65.7h0M659.4 40.0h0M621.4 53.3h0M609.8 29.0h0M613.6 51.9h0M612.4 50.6h0M611.8 45.3h0M612.8 36.3h0M604.8 43.1h0M606.0 60.9h0M607.8 56.0h0M615.6 49.3h0M611.0 25.9h0M600.2 57.4h0M599.2 25.7h0M659.2 56.8h0M613.4 37.7h0M615.9 59.8h0M602.1 36.0h0M614.0 35.5h0M616.2 49.0h0M608.8 48.2h0M615.4 29.1h0M614.3 54.4h0M602.5 52.1h0M611.3 41.7h0M604.6 33.0h0M606.6 19.7h0M611.4 57.8h0M617.8 30.7h0M604.1 59.2h0M609.1 60.3h0M600.2 35.7h0M610.5 40.2h0M613.9 42.4h0M599.2 43.8h0M607.5 60.9h0M596.6 20.2h0M598.7 43.3h0M609.3 50.5h0" stroke="#F29A86" stroke-width="0.8" stroke-linecap="round" fill="none" opacity="0.85"/>
<ellipse cx="600.3" cy="18.0" rx="4.1" ry="3.1" fill="#C8201E" opacity="0.6"/>
<line x1="589.5" y1="10.8" x2="589.5" y2="78.3" stroke="#231f20" stroke-width="0.9" />
<line x1="588.7" y1="78.5" x2="667.4" y2="78.5" stroke="#231f20" stroke-width="0.9" />
<line x1="586.3" y1="13.5" x2="589.1" y2="13.5" stroke="#231f20" stroke-width="0.8" />
<text transform="translate(584.1 15.9) scale(1.3 1)" font-size="6.0" text-anchor="end" >5.0</text>
<line x1="586.3" y1="29.5" x2="589.1" y2="29.5" stroke="#231f20" stroke-width="0.8" />
<text transform="translate(584.1 31.4) scale(1.3 1)" font-size="6.0" text-anchor="end" >2.5</text>
<line x1="586.3" y1="44.5" x2="589.1" y2="44.5" stroke="#231f20" stroke-width="0.8" />
<text transform="translate(584.1 46.7) scale(1.3 1)" font-size="6.0" text-anchor="end" >0</text>
<line x1="586.3" y1="59.5" x2="589.1" y2="59.5" stroke="#231f20" stroke-width="0.8" />
<text transform="translate(584.1 62.1) scale(1.3 1)" font-size="6.0" text-anchor="end" >−2.5</text>
<line x1="586.3" y1="75.5" x2="589.1" y2="75.5" stroke="#231f20" stroke-width="0.8" />
<text transform="translate(584.1 77.6) scale(1.3 1)" font-size="6.0" text-anchor="end" >−5.0</text>
<line x1="608.5" y1="78.3" x2="608.5" y2="80.5" stroke="#231f20" stroke-width="0.8" />
<text transform="translate(608.4 91.0) scale(1.065 1)" font-size="7" text-anchor="middle" >−5</text>
<line x1="626.5" y1="78.3" x2="626.5" y2="80.5" stroke="#231f20" stroke-width="0.8" />
<text transform="translate(626.7 91.0) scale(1.065 1)" font-size="7" text-anchor="middle" >0</text>
<line x1="645.5" y1="78.3" x2="645.5" y2="80.5" stroke="#231f20" stroke-width="0.8" />
<text transform="translate(645.2 91.0) scale(1.065 1)" font-size="7" text-anchor="middle" >5</text>
<line x1="665.5" y1="78.3" x2="665.5" y2="80.5" stroke="#231f20" stroke-width="0.8" />
<text transform="translate(665.0 91.0) scale(1.065 1)" font-size="7" text-anchor="middle" >10</text>
<text transform="translate(633.2 101.7) scale(0.9143127082799589 1)" font-size="8.2" text-anchor="middle" fill="#A32C34" >UMAP_1</text>
<text transform="translate(567.6 44.5) rotate(-90) scale(0.9447897985559576 1)" font-size="8.2" text-anchor="middle" fill="#A32C34" >UMAP_2</text>
<defs><linearGradient id="gGZMB" x1="0" x2="0" y1="0" y2="1"><stop offset="0" stop-color="#7A0E12"/><stop offset="0.25" stop-color="#C4201D"/><stop offset="0.55" stop-color="#F07A62"/><stop offset="1" stop-color="#FDF0EA"/></linearGradient></defs>
<rect x="664.00" y="32.60" width="5.40" height="25.20" fill="url(#gGZMB)" />
<text transform="translate(672.0 37.8) scale(1.065 1)" font-size="5.6" >4</text>
<text transform="translate(672.0 43.4) scale(1.065 1)" font-size="5.6" >3</text>
<text transform="translate(672.0 48.9) scale(1.065 1)" font-size="5.6" >2</text>
<text transform="translate(672.0 54.5) scale(1.065 1)" font-size="5.6" >1</text>
<text transform="translate(672.0 60.0) scale(1.065 1)" font-size="5.6" >0</text>
<text transform="translate(669.5 19.6) scale(1.065 1)" font-size="7.2" text-anchor="middle" >Avg Exp</text>
<text transform="translate(669.5 27.6) scale(1.065 1)" font-size="7.2" text-anchor="middle" font-style="italic" >GZMB</text>
<path d="M455.8 116.0 C456.5 115.6 457.9 115.6 459.2 115.8 C460.4 116.0 462.0 116.7 463.1 117.3 C464.3 117.9 465.0 118.3 466.0 119.2 C466.9 120.0 467.9 121.6 468.9 122.5 C469.9 123.3 470.9 123.7 472.0 124.4 C473.2 125.0 474.6 125.5 475.7 126.3 C476.8 127.0 477.4 127.9 478.5 129.0 C479.7 130.0 481.2 131.8 482.5 132.5 C483.9 133.2 485.2 133.3 486.8 133.1 C488.3 132.9 490.2 132.1 491.8 131.2 C493.4 130.4 494.7 129.4 496.4 128.2 C498.1 127.0 500.3 125.0 501.8 123.9 C503.2 122.7 503.7 121.9 504.8 121.2 C505.9 120.5 506.9 119.5 508.5 119.6 C510.0 119.7 512.4 120.6 514.0 121.7 C515.6 122.7 516.8 124.0 518.2 126.0 C519.5 128.1 521.2 130.8 522.2 133.9 C523.2 137.0 523.9 141.3 524.1 144.7 C524.3 148.1 523.8 151.5 523.4 154.5 C522.9 157.4 522.3 160.1 521.2 162.3 C520.2 164.4 518.6 165.9 517.1 167.2 C515.6 168.5 513.8 169.5 512.0 170.1 C510.2 170.8 508.3 171.0 506.4 171.0 C504.5 171.1 502.7 170.4 500.6 170.5 C498.6 170.7 496.6 171.9 494.1 171.8 C491.7 171.7 488.5 170.8 486.0 169.9 C483.4 169.1 481.0 167.7 478.7 166.9 C476.3 166.0 474.3 165.6 472.1 165.0 C470.0 164.4 467.5 164.0 465.6 163.2 C463.7 162.4 462.0 161.7 460.7 160.1 C459.3 158.6 458.0 156.2 457.4 153.8 C456.8 151.5 457.1 148.8 457.1 146.0 C457.0 143.3 457.0 139.6 456.9 137.1 C456.8 134.7 456.6 133.4 456.4 131.2 C456.1 129.1 455.4 126.2 455.2 124.1 C454.9 122.0 454.8 119.9 454.9 118.6 C455.0 117.3 455.1 116.5 455.8 116.0Z" fill="#FFF4F1" />
<path d="M463.5 143.7h0M488.1 158.5h0M466.6 150.1h0M461.5 118.0h0M460.4 118.6h0M516.4 163.1h0M470.3 149.5h0M473.3 129.5h0M467.3 132.3h0M455.0 118.6h0M463.2 122.5h0M460.7 117.3h0M487.9 158.3h0M470.2 146.1h0M477.7 160.4h0M456.7 121.1h0M460.9 120.3h0M457.1 131.5h0M494.3 167.1h0M464.2 158.7h0M478.0 130.0h0M465.0 135.0h0M470.6 141.7h0M462.0 147.7h0M478.9 150.1h0M458.7 116.1h0M457.6 118.8h0M467.1 151.9h0M465.8 140.8h0M520.1 155.0h0M477.1 161.4h0M459.5 149.8h0M456.2 124.2h0M464.4 118.5h0M464.4 156.0h0M465.4 123.8h0M481.8 156.1h0M469.0 161.3h0M473.4 158.5h0M459.1 123.3h0M496.3 144.1h0M468.8 142.9h0M460.7 123.2h0M468.9 127.0h0M460.4 156.0h0M464.8 121.9h0M471.5 140.0h0M457.6 143.1h0M464.1 148.8h0M463.5 123.4h0M458.6 155.7h0M465.8 144.2h0M476.6 134.5h0M468.7 143.8h0M457.4 123.3h0M466.4 142.2h0M469.3 124.1h0M459.5 126.3h0M458.0 120.4h0M477.3 161.6h0M458.3 149.1h0M458.5 117.6h0M459.2 140.9h0M460.0 149.4h0M465.4 121.6h0M466.9 152.1h0M471.2 143.8h0M455.7 120.5h0M486.2 168.4h0M477.0 140.3h0M464.9 135.7h0M464.0 143.0h0M476.3 128.9h0M464.6 129.8h0M460.4 121.1h0M460.4 121.8h0M471.4 130.3h0M474.1 125.8h0M465.9 159.3h0M476.3 142.2h0M464.3 137.2h0M468.0 161.7h0M478.5 138.0h0M478.9 159.2h0M479.6 165.6h0M474.4 128.5h0M462.8 117.8h0M473.1 150.9h0M461.5 118.7h0M467.2 123.5h0M465.2 121.3h0M476.3 157.6h0M460.6 146.9h0M471.7 140.9h0M460.0 121.7h0M456.4 124.3h0M461.8 136.4h0M473.9 162.4h0M476.4 158.7h0M470.8 137.9h0M458.5 132.1h0M457.2 122.7h0M455.3 118.6h0M477.6 132.5h0M456.7 116.1h0M458.5 137.7h0M485.8 160.4h0M456.1 128.4h0M460.2 119.6h0M475.4 130.7h0M475.2 149.4h0M465.6 135.0h0M462.0 150.0h0M467.1 160.9h0M459.1 131.5h0M468.0 163.3h0M461.7 122.5h0M519.2 157.1h0M467.2 143.5h0M462.1 121.6h0M462.8 134.0h0M463.0 119.0h0M461.5 118.2h0M463.7 159.5h0M461.9 153.8h0M476.9 149.6h0M467.9 159.3h0M462.5 130.6h0M483.5 168.7h0M472.2 137.1h0M467.9 123.7h0M468.3 126.9h0M459.6 122.9h0M471.4 142.1h0M476.3 135.0h0M458.2 122.6h0M466.1 155.0h0M465.4 125.9h0M459.6 134.4h0M468.7 144.5h0M458.8 141.5h0M466.9 159.3h0M520.0 139.2h0M464.3 137.8h0M473.6 126.6h0M465.9 151.1h0M464.6 139.4h0M466.1 122.7h0M492.2 131.1h0M468.0 130.5h0M458.0 125.8h0M466.8 150.2h0M472.4 141.5h0M474.4 142.7h0M463.3 149.8h0M480.5 150.9h0M457.9 149.7h0M455.3 122.0h0M461.5 150.3h0M467.5 159.5h0M468.2 148.3h0M477.8 164.4h0M477.2 149.7h0M466.2 155.6h0M470.7 152.0h0M472.6 129.6h0M476.3 154.9h0M472.6 164.3h0M472.7 162.2h0M464.4 147.6h0M458.3 121.3h0M478.0 133.7h0M458.2 141.5h0M463.1 158.0h0M460.1 123.5h0M479.6 133.7h0M479.4 148.5h0M461.0 124.2h0M462.9 148.6h0M464.9 136.7h0M472.5 150.6h0M472.9 130.6h0M479.9 140.0h0M463.7 121.4h0M467.6 139.6h0M471.2 132.2h0M461.1 117.2h0M473.9 132.3h0M470.2 133.3h0M461.3 126.8h0M458.5 124.7h0M475.6 145.1h0M458.1 123.5h0M461.9 118.2h0M466.5 160.0h0M460.3 120.3h0M462.8 124.3h0M461.7 144.1h0M467.9 142.7h0M476.8 130.2h0M463.0 155.9h0M462.0 139.7h0M469.2 155.5h0M467.6 159.5h0M473.0 129.4h0M465.0 141.5h0M473.8 130.1h0M458.0 117.1h0M460.2 118.0h0" stroke="#E04A36" stroke-width="0.8" stroke-linecap="round" fill="none" opacity="0.9"/>
<path d="M511.3 125.4h0M468.3 146.0h0M458.4 116.2h0M481.3 146.5h0M471.7 163.5h0M473.0 138.5h0M460.7 116.8h0M521.1 137.1h0M478.1 161.9h0M473.5 132.7h0M490.5 143.5h0M466.6 126.0h0M473.2 137.2h0M463.5 131.8h0M477.9 135.1h0M467.1 128.9h0M459.7 124.6h0M469.4 127.5h0M464.0 148.1h0M455.3 119.6h0M505.4 132.3h0M465.9 136.5h0M468.7 145.8h0M470.6 127.9h0M463.2 119.5h0M464.4 154.8h0M458.4 116.3h0M499.9 164.1h0M467.3 136.0h0M459.9 119.8h0M458.3 118.9h0M461.6 126.3h0M467.7 159.5h0M477.0 142.4h0M468.5 133.7h0M462.6 120.0h0M478.2 139.6h0M478.4 157.4h0M467.0 163.5h0M461.5 125.0h0M479.7 141.7h0M473.6 133.0h0M458.5 147.5h0M499.8 150.8h0M470.5 147.1h0M471.8 143.6h0M472.7 163.9h0M460.2 140.5h0M462.8 143.3h0M477.2 153.8h0M457.7 117.7h0M457.1 128.7h0M460.5 156.3h0M469.2 151.2h0M471.2 162.6h0M466.8 136.4h0M478.7 159.3h0M485.1 142.1h0M505.7 147.6h0M475.0 138.3h0M457.2 123.9h0M465.6 154.0h0M461.4 119.2h0M472.4 131.8h0M475.0 159.9h0M458.2 149.6h0M470.8 147.3h0M461.3 119.2h0M458.7 117.0h0M465.3 119.1h0M460.7 152.6h0M466.2 119.6h0M474.2 144.4h0M464.5 146.6h0M473.0 148.5h0M466.0 123.6h0M475.9 138.2h0M462.6 150.4h0M466.8 125.1h0M476.8 142.1h0M505.1 169.7h0M474.9 138.5h0M475.3 147.8h0M471.0 155.3h0M491.9 169.8h0M460.3 121.9h0M458.6 120.2h0M476.6 144.8h0M460.7 136.7h0M517.9 142.3h0M462.4 130.1h0M461.8 117.3h0M470.5 144.0h0M479.6 144.1h0M462.1 119.9h0M473.4 146.8h0M470.0 148.2h0M513.3 134.0h0M521.8 135.8h0M471.4 151.4h0M471.9 132.2h0M473.9 136.7h0M458.9 155.3h0M512.7 148.1h0M463.4 130.6h0M466.2 123.0h0M464.1 128.9h0M477.7 159.8h0M472.1 158.0h0M491.1 158.1h0M460.9 122.1h0M465.1 123.2h0M458.3 122.0h0M474.9 144.2h0M464.7 122.6h0M477.2 151.7h0M462.2 152.3h0M472.2 156.6h0M461.4 123.4h0M479.6 150.4h0M464.4 122.6h0M462.5 148.5h0M458.6 118.6h0M457.8 116.7h0M501.7 127.6h0M470.1 153.9h0M461.3 149.0h0M463.3 121.9h0M462.9 157.7h0M462.7 156.8h0M470.3 163.5h0M459.4 116.8h0M474.7 138.1h0M463.2 119.4h0M465.0 141.9h0M465.1 125.1h0M469.5 145.2h0M499.6 154.9h0M484.0 133.1h0M461.0 116.9h0M473.5 133.9h0M470.2 143.3h0M519.1 159.3h0M480.9 167.4h0M457.1 118.3h0M493.3 162.6h0M477.4 158.4h0M470.2 139.1h0M479.1 163.6h0M473.1 142.7h0M472.5 151.5h0M466.2 120.9h0M481.7 132.4h0M463.7 123.1h0M463.6 161.1h0M469.6 137.8h0M473.7 151.9h0M457.2 119.6h0M461.1 117.4h0M466.6 162.6h0M470.0 141.1h0M458.7 122.6h0M461.0 130.5h0M462.2 122.7h0M461.0 129.7h0M463.4 130.3h0M465.1 124.2h0M499.6 159.5h0M457.4 130.4h0M461.9 155.8h0M468.3 160.1h0M471.4 161.5h0M455.5 118.4h0M469.1 125.5h0M493.4 134.8h0M462.4 159.9h0M465.8 151.3h0M462.2 125.0h0M482.7 161.2h0M473.4 152.0h0M459.3 138.7h0M458.0 146.6h0M477.9 155.2h0M524.0 144.5h0M477.7 164.8h0M469.4 139.3h0M507.6 142.1h0M472.3 129.2h0M473.3 155.3h0M482.3 148.3h0M462.6 140.1h0M459.7 143.1h0M458.7 119.3h0M456.4 120.6h0M470.4 162.7h0M467.1 143.8h0M466.1 162.0h0M462.9 152.7h0M473.2 155.1h0M481.3 153.1h0M489.0 158.6h0M468.1 157.2h0M463.9 120.1h0M464.1 126.2h0M463.5 140.6h0M468.1 153.7h0M458.8 135.2h0M460.3 117.7h0M469.9 151.0h0M512.2 154.0h0M468.4 149.9h0M458.2 155.0h0M477.1 155.1h0M455.6 121.3h0M460.6 145.4h0M471.3 158.0h0M464.5 160.9h0M472.9 150.0h0M478.4 165.9h0M478.3 141.2h0M458.8 124.3h0M469.1 140.4h0M460.6 124.0h0M487.5 157.6h0M470.5 140.3h0M480.8 143.0h0M468.8 144.1h0M455.9 120.1h0M473.9 141.2h0M465.8 152.4h0M469.2 127.5h0M462.2 118.3h0M469.6 160.4h0M468.0 155.7h0M455.9 122.1h0M461.3 149.2h0M499.4 157.3h0M470.3 128.2h0M491.6 158.7h0M459.0 121.3h0M460.2 122.5h0M463.1 118.7h0M466.0 139.5h0M475.3 143.4h0M464.4 119.9h0M462.6 117.4h0M459.7 146.0h0M496.9 165.8h0M461.3 118.5h0M470.7 133.2h0M457.7 130.8h0M464.2 120.8h0M476.4 156.1h0M515.0 158.6h0M474.2 159.4h0M477.5 151.7h0M466.9 125.2h0M465.9 154.0h0M473.9 126.0h0M460.9 122.7h0M464.3 123.8h0M459.5 122.1h0M464.3 148.5h0M463.5 151.2h0M463.5 122.0h0M505.7 157.8h0M481.3 149.4h0M467.0 145.6h0M466.0 156.4h0M476.1 159.6h0M463.6 155.9h0M477.9 129.2h0M475.8 163.5h0M490.9 133.2h0M464.7 143.6h0M473.9 137.1h0M457.5 151.1h0M466.1 133.6h0M462.0 154.5h0M462.4 139.1h0M461.8 121.5h0M469.0 151.7h0M468.9 134.4h0M461.3 133.8h0M493.0 171.1h0M476.7 156.3h0M503.6 140.0h0M461.2 121.2h0M477.0 143.5h0M460.1 134.7h0M473.6 150.3h0M464.7 146.3h0M466.9 161.2h0M507.9 154.7h0M470.2 139.1h0M475.1 130.1h0M484.0 162.4h0M461.1 152.5h0M506.3 151.2h0M471.2 161.8h0M472.7 151.8h0M505.9 144.4h0M498.1 149.1h0M466.3 129.6h0M477.1 158.6h0M473.4 142.7h0M458.7 148.8h0M455.6 122.3h0M466.4 131.5h0M464.6 125.0h0M455.9 119.3h0M462.7 147.8h0M473.6 125.5h0M465.9 143.5h0M476.1 142.8h0M478.5 130.7h0M471.4 141.5h0M463.6 135.7h0M460.2 134.5h0M461.4 119.2h0M498.2 165.2h0M490.3 144.8h0M463.1 123.6h0M469.4 155.1h0M469.8 151.0h0M469.8 149.4h0M495.9 161.5h0M462.9 120.3h0M474.2 154.4h0M468.1 153.6h0" stroke="#EC8068" stroke-width="0.8" stroke-linecap="round" fill="none" opacity="0.85"/>
<path d="M456.4 117.9h0M497.6 165.5h0M477.0 138.5h0M469.3 144.0h0M500.4 140.0h0M458.2 129.9h0M469.7 146.2h0M514.1 144.8h0M459.0 116.4h0M459.8 125.7h0M469.2 163.4h0M463.6 146.3h0M506.0 137.4h0M464.2 129.4h0M467.0 127.8h0M464.9 140.9h0M481.9 160.0h0M493.7 133.5h0M479.2 152.2h0M474.6 152.5h0M483.2 157.0h0M472.9 155.1h0M473.0 161.7h0M466.3 137.2h0M507.2 151.9h0M468.7 152.6h0M457.7 123.7h0M514.0 167.6h0M472.9 126.9h0M512.0 142.2h0M462.7 157.4h0M469.0 146.3h0M499.7 141.6h0M459.9 117.8h0M457.6 120.5h0M503.7 165.9h0M472.5 157.9h0M457.0 119.2h0M512.9 163.8h0M484.9 153.4h0M484.8 140.4h0M503.6 146.2h0M477.3 152.2h0M469.8 127.9h0M463.8 119.6h0M465.8 135.8h0M490.9 168.8h0M462.0 158.7h0M463.8 144.4h0M471.8 131.5h0M468.9 125.4h0M478.9 162.6h0M457.4 127.7h0M457.1 120.9h0M456.0 123.6h0M516.1 126.0h0M465.3 124.2h0M459.4 116.8h0M458.6 120.9h0M466.3 129.5h0M467.4 148.7h0M512.4 143.9h0M464.1 124.4h0M479.1 163.6h0M456.0 126.9h0M498.6 153.3h0M458.4 117.9h0M465.9 132.4h0M510.2 151.8h0M458.0 147.1h0M477.1 150.9h0M474.7 152.7h0M486.9 134.4h0M463.0 122.9h0M521.0 157.6h0M463.0 120.8h0M463.9 150.9h0M480.8 142.6h0M494.1 139.6h0M478.2 163.7h0M502.0 158.1h0M481.0 167.3h0M476.4 151.5h0M502.5 142.1h0M482.5 133.3h0M457.2 145.8h0M461.8 124.7h0M468.6 158.1h0M472.7 137.5h0M505.0 166.2h0M469.6 149.2h0M467.8 142.9h0M466.6 132.6h0M494.0 169.7h0M465.5 155.1h0M519.3 145.0h0M473.7 133.1h0M459.2 137.4h0M459.9 126.4h0M477.1 152.7h0M465.7 119.7h0M467.9 150.7h0M469.3 153.6h0M461.4 133.2h0M466.8 130.6h0M478.3 132.7h0M471.0 145.3h0M474.6 151.5h0M484.1 165.8h0M469.5 126.5h0M508.5 122.7h0M456.7 118.7h0M461.4 136.8h0M467.2 149.1h0M475.8 126.8h0M485.6 164.5h0M467.5 145.7h0M464.9 119.5h0M480.9 137.3h0M505.3 163.7h0M459.5 122.2h0M514.0 129.3h0M464.1 122.5h0M463.3 124.3h0M459.8 151.8h0M490.7 157.5h0M509.1 168.1h0M467.9 123.2h0M465.1 145.1h0M463.8 122.1h0M480.9 141.3h0M461.5 149.7h0M503.3 156.0h0M476.4 164.3h0M501.2 132.7h0M485.2 163.0h0M470.7 150.0h0M465.8 121.0h0M474.1 137.2h0M472.4 149.6h0M469.4 158.1h0M458.9 141.0h0M461.2 141.5h0M466.3 122.2h0M468.0 150.6h0M481.9 137.5h0M475.2 145.8h0M496.1 165.7h0M477.0 140.7h0M496.2 146.5h0M503.9 149.6h0M456.3 117.6h0M471.2 153.6h0M477.8 145.2h0M461.1 136.1h0M470.9 132.3h0M466.3 120.7h0M461.6 122.2h0M514.9 131.6h0M481.3 167.4h0M505.3 161.8h0M503.4 124.8h0M479.6 157.0h0M470.7 161.6h0M472.4 153.8h0M465.7 151.7h0M473.0 155.1h0M463.3 121.4h0M459.7 153.6h0M506.8 164.7h0M491.5 166.8h0M505.1 135.5h0M459.2 153.3h0M462.8 158.3h0M465.5 128.5h0M457.5 131.5h0M473.4 145.2h0M479.3 136.7h0M476.4 128.3h0M473.2 162.7h0M478.0 144.1h0M466.6 154.7h0M520.4 143.1h0M468.4 122.8h0M469.3 143.1h0M522.7 136.8h0M508.8 160.8h0M480.8 138.5h0M471.4 148.7h0M518.9 141.5h0M462.3 125.2h0M485.7 155.4h0M464.6 129.2h0M475.5 155.2h0M523.4 152.8h0M461.5 141.7h0M459.4 119.9h0M478.6 141.9h0M518.5 138.1h0M475.5 128.4h0M455.5 119.9h0M464.7 123.0h0M468.6 123.3h0M461.2 123.7h0M467.0 127.6h0M475.5 154.0h0M472.4 151.7h0M465.4 123.5h0M508.7 148.4h0M457.1 130.8h0M463.5 146.2h0M466.8 126.8h0M478.0 132.2h0M465.8 140.6h0M477.6 148.5h0M473.5 128.4h0M518.0 142.2h0M489.4 153.4h0M458.2 138.2h0M461.7 133.2h0M461.6 122.7h0M457.4 140.4h0M461.7 150.8h0M473.3 128.5h0M480.5 148.5h0M495.8 134.8h0M459.1 126.6h0M456.8 135.4h0M514.7 123.7h0M463.1 134.9h0M462.1 151.8h0M467.7 144.3h0M461.2 137.3h0M456.6 129.9h0M457.3 124.2h0M477.8 161.7h0M458.7 129.0h0M458.0 135.9h0M515.7 162.0h0M502.9 144.0h0M472.3 157.8h0M462.4 144.7h0M461.4 128.0h0M471.2 134.1h0M466.8 130.0h0M515.5 161.5h0M500.0 154.2h0M476.4 137.5h0M463.3 120.9h0M466.8 143.8h0M475.5 136.0h0M500.8 167.7h0M468.2 125.7h0M519.7 148.7h0M457.0 123.0h0M462.3 145.1h0M508.2 127.5h0M465.2 148.7h0M465.1 158.7h0M499.5 125.8h0M505.3 170.7h0M513.5 164.6h0M459.5 137.1h0M488.4 132.6h0M463.8 146.6h0M458.1 136.5h0M485.2 155.8h0M509.9 136.3h0M468.7 156.3h0M463.2 118.8h0M494.6 133.1h0M482.2 154.5h0M464.3 123.8h0M456.7 135.2h0M475.5 155.7h0M464.5 118.7h0M477.5 138.1h0M476.8 148.3h0M494.8 156.9h0M501.5 125.2h0M455.9 122.7h0M512.4 157.4h0M464.6 126.9h0M476.2 152.5h0M473.4 158.2h0M460.2 118.5h0M463.8 121.7h0M461.8 134.2h0M492.2 137.7h0M499.7 132.3h0M457.5 117.6h0M485.3 141.4h0M473.7 156.8h0M462.2 120.3h0M462.0 122.1h0M482.1 161.5h0M475.7 133.4h0M495.2 160.9h0M499.8 146.7h0M455.3 118.7h0M468.7 148.7h0M502.3 140.9h0M480.6 138.6h0M462.5 122.4h0M497.9 132.4h0M465.9 145.0h0M510.0 135.5h0M457.7 123.3h0M465.2 157.5h0M473.8 151.4h0M467.0 129.4h0M466.7 143.1h0M481.1 141.8h0M481.9 142.2h0M492.9 165.3h0M483.9 168.8h0M471.8 149.0h0M458.3 122.3h0M455.3 120.7h0M474.8 165.2h0M482.8 134.4h0M502.5 165.2h0M461.7 147.5h0M455.3 121.3h0M471.5 145.5h0M475.8 151.3h0M470.6 135.5h0M474.3 135.5h0M485.3 137.3h0M470.5 125.2h0M471.3 138.4h0M506.1 168.3h0M514.2 135.1h0M510.8 146.4h0M456.1 122.5h0M461.4 123.4h0M457.3 149.5h0M498.5 138.1h0M466.1 134.8h0M477.9 144.8h0M460.7 141.6h0M510.8 122.4h0M458.7 148.0h0M508.6 154.1h0M470.4 146.2h0M479.2 149.0h0M505.1 165.9h0M474.0 129.1h0M464.6 157.4h0M464.1 123.4h0M491.5 138.0h0M459.2 149.0h0M468.7 142.8h0M512.1 140.5h0M466.4 162.8h0M467.6 122.0h0M457.0 121.4h0M506.4 122.6h0M461.2 122.0h0M458.2 124.5h0M463.7 153.4h0M463.7 159.8h0M473.0 147.6h0M462.1 157.4h0M457.4 119.9h0M519.1 145.1h0M484.9 149.7h0M498.3 140.6h0M482.9 167.0h0M477.2 134.9h0M508.6 138.4h0M469.8 152.7h0M514.1 129.4h0M459.9 139.6h0M472.3 131.1h0M519.8 143.3h0M457.2 121.9h0M462.0 146.7h0M490.5 155.1h0M466.2 142.8h0M491.4 150.3h0M498.7 142.4h0M461.8 120.7h0M458.4 119.1h0M459.0 118.5h0M458.3 147.1h0M515.3 162.0h0M460.6 120.0h0M463.4 122.8h0M469.4 161.1h0M456.9 121.6h0M485.9 133.8h0M457.7 146.9h0M462.6 121.1h0M465.2 120.9h0M470.0 157.7h0M465.9 150.4h0M459.5 155.1h0M488.4 167.5h0M489.6 169.8h0M466.8 131.7h0M459.4 137.2h0M481.8 138.6h0M470.8 164.4h0M503.3 124.8h0M467.9 131.4h0M467.1 159.9h0M481.0 132.6h0M512.0 130.2h0M462.6 142.7h0M456.3 116.8h0M509.1 168.5h0M487.7 134.7h0M467.0 123.8h0M460.6 157.3h0M459.4 152.1h0M462.0 119.4h0M460.5 140.1h0M467.0 142.4h0M481.0 159.0h0M477.6 145.1h0M463.3 129.0h0M477.9 147.1h0M516.4 127.6h0M482.5 140.7h0M455.1 118.6h0M477.0 165.4h0M461.4 119.4h0M457.5 117.2h0M457.9 117.2h0M473.0 150.7h0M483.0 166.7h0M491.6 169.4h0M511.3 162.4h0M465.0 156.7h0M465.9 127.0h0M518.2 141.7h0M459.5 116.7h0M461.1 144.6h0M521.2 146.3h0M457.1 118.1h0M461.1 145.5h0M476.3 134.9h0M509.7 170.4h0M483.4 153.2h0M495.8 138.4h0M465.5 148.4h0M463.8 130.4h0M478.3 141.7h0M469.0 140.2h0M464.3 138.4h0M466.4 122.8h0M521.1 156.8h0M468.2 125.8h0M462.3 124.6h0M504.1 139.0h0M461.1 157.3h0M457.7 117.2h0M489.2 133.3h0M466.4 159.9h0M468.2 125.6h0" stroke="#F6B4A4" stroke-width="0.8" stroke-linecap="round" fill="none" opacity="0.85"/>
<path d="M455.6 116.5 C456.2 115.2 458.2 116.0 459.4 116.2 C460.7 116.4 462.2 116.8 463.3 117.7 C464.4 118.7 466.0 120.9 466.0 122.0 C466.0 123.2 464.4 123.7 463.3 124.5 C462.2 125.3 460.5 126.2 459.4 127.0 C458.3 127.7 457.4 129.3 456.7 128.8 C456.1 128.3 455.8 125.9 455.6 123.9 C455.4 121.8 454.9 117.8 455.6 116.5Z" fill="#C0281C" opacity="0.55"/>
<line x1="450.5" y1="112.7" x2="450.5" y2="180.1" stroke="#231f20" stroke-width="0.9" />
<line x1="449.9" y1="180.5" x2="531.0" y2="180.5" stroke="#231f20" stroke-width="0.9" />
<line x1="447.5" y1="115.5" x2="450.3" y2="115.5" stroke="#231f20" stroke-width="0.8" />
<text transform="translate(444.0 118.6) scale(1.065 1)" font-size="7.6" text-anchor="end" >5.0</text>
<line x1="447.5" y1="131.5" x2="450.3" y2="131.5" stroke="#231f20" stroke-width="0.8" />
<text transform="translate(444.0 134.0) scale(1.065 1)" font-size="7.6" text-anchor="end" >2.5</text>
<line x1="447.5" y1="146.5" x2="450.3" y2="146.5" stroke="#231f20" stroke-width="0.8" />
<text transform="translate(444.0 149.3) scale(1.065 1)" font-size="7.6" text-anchor="end" >0</text>
<line x1="447.5" y1="161.5" x2="450.3" y2="161.5" stroke="#231f20" stroke-width="0.8" />
<text transform="translate(444.0 164.6) scale(1.065 1)" font-size="7.6" text-anchor="end" >−2.5</text>
<line x1="447.5" y1="177.5" x2="450.3" y2="177.5" stroke="#231f20" stroke-width="0.8" />
<text transform="translate(444.0 180.0) scale(1.065 1)" font-size="7.6" text-anchor="end" >−5.0</text>
<line x1="469.5" y1="180.1" x2="469.5" y2="182.3" stroke="#231f20" stroke-width="0.8" />
<text transform="translate(469.7 192.8) scale(1.065 1)" font-size="7" text-anchor="middle" >−5</text>
<line x1="488.5" y1="180.1" x2="488.5" y2="182.3" stroke="#231f20" stroke-width="0.8" />
<text transform="translate(488.7 192.8) scale(1.065 1)" font-size="7" text-anchor="middle" >0</text>
<line x1="508.5" y1="180.1" x2="508.5" y2="182.3" stroke="#231f20" stroke-width="0.8" />
<text transform="translate(508.1 192.8) scale(1.065 1)" font-size="7" text-anchor="middle" >5</text>
<line x1="527.5" y1="180.1" x2="527.5" y2="182.3" stroke="#231f20" stroke-width="0.8" />
<text transform="translate(527.5 192.8) scale(1.065 1)" font-size="7" text-anchor="middle" >10</text>
<text transform="translate(495.6 203.1) scale(0.9143127082799589 1)" font-size="8.2" text-anchor="middle" fill="#A32C34" >UMAP_1</text>
<text transform="translate(426.5 146.4) rotate(-90) scale(0.9447897985559576 1)" font-size="8.2" text-anchor="middle" fill="#A32C34" >UMAP_2</text>
<defs><linearGradient id="gTNF" x1="0" x2="0" y1="0" y2="1"><stop offset="0" stop-color="#7A0E12"/><stop offset="0.25" stop-color="#C4201D"/><stop offset="0.55" stop-color="#F07A62"/><stop offset="1" stop-color="#FDF0EA"/></linearGradient></defs>
<rect x="533.20" y="134.70" width="5.40" height="25.60" fill="url(#gTNF)" />
<text transform="translate(541.2 139.9) scale(1.065 1)" font-size="5.6" >4</text>
<text transform="translate(541.2 145.6) scale(1.065 1)" font-size="5.6" >3</text>
<text transform="translate(541.2 151.2) scale(1.065 1)" font-size="5.6" >2</text>
<text transform="translate(541.2 156.9) scale(1.065 1)" font-size="5.6" >1</text>
<text transform="translate(541.2 162.5) scale(1.065 1)" font-size="5.6" >0</text>
<text transform="translate(538.0 121.7) scale(1.065 1)" font-size="7.2" text-anchor="middle" >Avg Exp</text>
<text transform="translate(538.0 129.7) scale(1.065 1)" font-size="7.2" text-anchor="middle" font-style="italic" >TNF</text>
<path d="M593.4 116.4 C594.1 116.0 595.5 116.0 596.8 116.2 C598.0 116.4 599.6 117.1 600.7 117.7 C601.9 118.3 602.6 118.7 603.6 119.5 C604.5 120.4 605.5 122.0 606.5 122.8 C607.5 123.7 608.5 124.1 609.6 124.7 C610.8 125.3 612.2 125.8 613.3 126.6 C614.4 127.4 615.0 128.3 616.1 129.3 C617.3 130.3 618.8 132.1 620.1 132.8 C621.5 133.5 622.8 133.6 624.4 133.4 C625.9 133.2 627.8 132.4 629.4 131.6 C631.0 130.7 632.3 129.7 634.0 128.5 C635.7 127.3 637.9 125.4 639.4 124.2 C640.8 123.1 641.3 122.3 642.4 121.5 C643.5 120.8 644.5 119.9 646.1 120.0 C647.6 120.0 650.0 121.0 651.6 122.0 C653.2 123.1 654.4 124.3 655.8 126.4 C657.1 128.4 658.8 131.1 659.8 134.2 C660.8 137.3 661.5 141.5 661.7 144.9 C661.9 148.3 661.4 151.7 660.9 154.6 C660.5 157.5 659.9 160.3 658.8 162.4 C657.8 164.5 656.2 165.9 654.7 167.2 C653.2 168.5 651.4 169.5 649.6 170.2 C647.8 170.8 645.9 171.0 644.0 171.1 C642.1 171.1 640.3 170.5 638.2 170.6 C636.2 170.7 634.2 171.9 631.7 171.8 C629.3 171.7 626.1 170.8 623.6 170.0 C621.0 169.2 618.6 167.7 616.3 166.9 C613.9 166.1 611.9 165.7 609.7 165.1 C607.6 164.5 605.1 164.1 603.2 163.3 C601.3 162.5 599.6 161.8 598.3 160.2 C596.9 158.7 595.6 156.3 595.0 154.0 C594.4 151.7 594.7 149.0 594.7 146.3 C594.6 143.5 594.6 139.9 594.5 137.4 C594.4 135.0 594.2 133.7 594.0 131.6 C593.7 129.4 593.0 126.5 592.8 124.4 C592.5 122.3 592.4 120.3 592.5 119.0 C592.6 117.7 592.7 116.9 593.4 116.4Z" fill="#FFF4F1" />
<path d="M605.5 138.7h0M600.6 134.0h0M614.8 145.0h0M610.6 145.6h0M607.6 135.4h0M594.1 120.8h0M613.9 162.0h0M623.5 139.6h0M608.9 130.9h0M610.8 127.8h0M600.9 144.8h0M601.1 120.0h0M615.5 164.3h0M597.3 134.8h0M598.4 118.9h0M609.1 130.1h0M602.7 161.1h0M617.1 130.2h0M598.4 143.1h0M599.5 145.8h0M606.2 123.8h0M596.6 117.4h0M596.5 117.6h0M618.6 132.6h0M607.6 138.7h0M595.8 150.0h0M593.2 124.7h0M598.6 134.8h0M594.6 120.3h0M615.7 146.8h0M615.5 139.4h0M606.4 130.2h0M594.3 121.4h0M601.6 138.7h0M605.9 154.9h0M610.5 161.1h0M598.0 121.1h0M608.0 139.1h0M601.8 129.4h0M617.1 137.7h0M603.6 142.3h0M605.0 144.9h0M602.2 162.1h0M606.2 144.5h0M600.3 147.4h0M614.8 137.3h0M596.8 145.5h0M617.5 134.3h0M616.3 162.6h0M610.2 138.1h0M606.6 135.2h0M600.3 130.2h0M598.1 136.9h0M616.0 149.8h0M613.5 157.5h0M606.1 131.6h0M605.9 160.2h0M607.8 142.1h0M597.3 129.3h0M594.2 120.6h0M614.4 156.5h0M601.4 148.9h0M597.5 121.9h0M602.6 130.2h0M594.4 130.4h0M595.6 154.5h0M618.8 149.0h0M613.2 148.5h0M612.7 127.3h0M612.7 165.7h0M598.8 138.1h0M610.4 140.1h0M605.8 148.7h0M606.5 135.9h0M613.6 135.9h0M619.3 136.7h0M605.1 162.1h0M618.9 146.7h0M595.2 127.7h0M597.8 132.0h0M596.5 142.1h0M607.3 127.3h0M609.1 155.1h0M612.6 132.1h0M602.1 125.8h0M617.2 166.6h0M608.8 164.3h0M595.4 152.4h0M617.8 159.0h0M613.0 131.4h0M601.0 121.5h0M600.1 133.4h0M606.4 128.0h0M603.0 128.1h0M599.2 133.2h0M608.0 147.5h0M608.7 162.2h0M607.7 162.9h0M610.0 160.5h0M601.1 142.3h0M605.3 126.0h0M605.6 135.2h0M612.4 152.5h0M622.5 137.3h0M605.2 152.3h0M598.5 123.8h0M614.2 152.7h0M612.9 141.7h0M615.1 163.6h0M594.8 122.6h0M596.2 143.1h0M620.3 140.2h0M606.6 141.0h0M602.6 151.2h0M601.9 131.0h0M599.6 152.4h0M598.4 155.2h0M594.7 138.7h0M605.7 136.4h0M606.5 139.3h0M610.8 152.6h0M601.2 152.5h0M601.5 128.5h0M617.4 147.7h0M612.4 128.3h0M612.5 131.3h0M602.4 133.3h0M615.9 140.0h0M597.6 126.3h0M602.6 120.6h0M624.3 133.7h0M612.6 162.8h0M610.5 144.9h0M602.9 141.4h0M596.7 127.4h0M597.3 128.1h0M606.4 127.0h0M599.8 145.2h0M616.2 154.5h0M601.8 145.6h0M601.2 140.6h0M612.1 164.4h0M610.6 138.4h0M602.2 130.4h0M612.5 165.1h0M596.0 117.8h0M608.1 126.4h0M610.9 130.6h0M598.5 129.7h0M602.7 157.4h0M599.5 142.6h0M597.8 134.5h0M642.3 164.8h0M619.0 136.5h0M617.7 158.5h0M600.4 123.0h0M604.3 131.7h0M609.8 139.1h0M608.8 138.4h0M616.6 164.3h0M608.6 132.2h0M645.1 125.7h0M611.6 154.3h0M616.0 151.9h0M632.2 147.0h0M598.0 154.0h0M611.4 130.1h0M613.9 147.9h0M617.9 160.7h0M599.6 121.4h0M602.5 134.3h0M597.5 157.6h0M606.8 129.0h0M603.3 150.8h0M602.6 133.7h0M612.0 131.5h0M596.0 150.8h0M615.2 135.8h0M596.7 117.2h0M602.2 144.1h0M603.3 138.2h0M599.1 141.6h0M614.4 154.7h0M605.4 126.3h0M606.2 130.7h0M610.5 162.1h0M598.0 135.1h0M599.9 135.1h0M615.2 141.2h0M609.1 154.0h0M597.4 150.0h0M611.3 156.3h0M602.2 131.3h0M595.3 136.1h0M617.8 142.3h0M605.4 149.8h0M605.4 145.7h0M600.7 156.1h0M618.0 137.7h0M594.8 128.9h0M597.9 134.3h0M604.9 153.4h0M606.3 158.6h0M611.5 131.5h0M601.0 145.8h0M600.2 156.6h0M603.4 150.7h0M600.9 136.5h0M601.3 154.8h0M596.6 125.5h0M606.4 159.7h0M615.6 161.3h0M611.1 138.1h0M608.2 130.5h0M611.6 135.3h0M609.4 133.2h0M612.1 154.7h0M617.9 167.0h0M646.5 139.5h0M602.9 152.6h0M611.3 150.3h0M602.5 145.7h0M600.7 126.0h0M594.8 146.7h0M596.3 137.2h0M602.6 121.4h0M607.7 151.5h0M609.2 147.6h0M612.1 133.3h0M611.6 135.9h0M595.8 151.2h0M611.2 152.0h0M600.9 155.9h0M595.2 128.3h0M602.2 136.1h0M613.1 153.7h0M596.3 154.6h0M605.0 144.4h0M610.1 130.2h0M610.0 143.0h0M613.7 143.8h0M602.5 135.2h0M606.1 156.2h0M600.4 134.2h0M606.8 150.4h0M605.0 136.2h0M602.3 124.7h0M603.9 147.0h0M604.6 151.6h0M612.4 138.1h0M609.7 140.9h0M611.5 161.7h0M594.0 122.9h0M597.0 124.8h0M605.8 143.1h0M603.8 129.8h0M613.2 145.9h0M602.2 156.5h0M597.4 140.9h0M610.7 152.4h0M617.5 146.3h0M601.4 146.7h0M613.6 162.5h0M595.6 121.0h0M595.0 148.7h0M619.6 165.5h0M616.6 146.4h0M622.4 164.2h0M599.3 129.3h0M598.7 147.7h0M615.7 132.1h0M600.4 145.0h0M615.4 161.9h0M615.3 133.2h0M595.6 125.9h0M610.2 162.2h0M613.6 150.4h0M610.1 152.1h0M605.7 144.4h0M613.0 155.2h0M603.9 130.4h0M606.5 126.8h0M622.7 136.1h0M600.9 153.0h0M595.7 128.1h0M614.3 129.5h0M596.7 144.5h0M598.9 147.1h0M603.1 137.7h0M617.6 142.2h0M595.6 122.5h0M598.2 153.7h0M609.4 146.0h0M600.4 159.1h0M595.8 139.4h0M601.7 161.8h0M595.5 132.7h0M620.8 138.8h0M624.3 137.8h0M604.6 131.1h0M609.3 145.2h0M609.5 129.0h0M597.7 153.3h0M603.6 132.4h0M610.5 141.4h0M613.7 146.0h0M606.9 124.7h0M600.4 147.2h0M601.8 118.5h0M605.5 135.6h0M596.4 121.8h0M597.0 140.2h0M599.9 140.0h0M594.3 120.0h0M602.6 158.0h0M605.9 125.4h0M608.0 150.1h0M598.0 159.1h0M613.0 140.4h0M608.2 134.1h0M605.2 149.5h0M598.1 152.1h0M601.6 130.9h0M606.3 161.0h0M599.2 123.7h0M601.7 137.2h0M609.7 142.9h0M606.2 162.7h0M612.2 137.5h0M596.0 134.0h0M598.2 138.1h0M597.4 151.8h0M613.0 128.2h0M605.9 159.1h0M614.0 141.8h0M599.1 132.2h0M599.8 143.2h0M607.7 154.7h0M605.8 161.3h0M607.8 148.0h0M602.7 158.1h0M610.7 131.4h0M608.6 147.0h0M613.4 135.6h0M600.3 143.4h0M606.0 135.0h0M601.0 144.9h0M610.2 136.1h0M599.6 149.3h0M596.2 150.0h0M595.0 122.3h0M600.1 127.5h0M597.9 142.8h0M612.1 134.9h0M595.6 133.7h0M614.0 150.5h0M608.3 128.3h0M623.9 134.1h0M607.4 149.7h0M601.1 147.8h0M619.2 138.6h0M613.7 136.2h0M596.4 135.2h0M598.7 137.3h0M610.2 128.1h0M615.0 130.1h0M597.6 142.4h0M611.0 151.3h0M601.4 156.4h0M605.8 141.3h0M596.5 128.5h0M613.9 149.3h0M620.0 133.2h0M608.1 161.3h0M602.9 127.0h0M612.3 151.7h0M604.8 134.8h0M599.3 141.4h0M610.0 164.2h0" stroke="#D84030" stroke-width="0.8" stroke-linecap="round" fill="none" opacity="0.9"/>
<path d="M614.4 163.8h0M604.3 137.7h0M604.6 159.8h0M617.8 164.4h0M595.5 150.8h0M608.1 140.1h0M598.5 138.6h0M605.8 131.8h0M599.3 158.9h0M613.3 142.3h0M597.0 133.0h0M611.8 136.6h0M605.5 151.3h0M604.3 131.6h0M596.5 145.6h0M599.3 131.0h0M609.5 127.0h0M610.2 157.2h0M594.2 122.8h0M614.6 162.9h0M619.7 160.7h0M596.0 152.2h0M626.3 137.9h0M612.7 148.2h0M611.5 129.0h0M599.1 143.7h0M605.7 157.6h0M607.4 161.9h0M596.2 134.2h0M600.6 139.8h0M612.4 138.3h0M610.7 130.2h0M607.2 143.5h0M602.3 126.0h0M606.1 136.3h0M608.3 162.6h0M611.0 160.8h0M618.0 153.1h0M604.5 156.1h0M597.5 139.5h0M605.7 141.9h0M610.4 140.7h0M615.9 135.0h0M607.0 146.8h0M604.0 154.2h0M623.6 157.9h0M594.1 127.1h0M602.7 148.2h0M599.1 142.6h0M617.2 137.8h0M605.5 133.2h0M616.9 160.3h0M601.4 142.4h0M616.9 133.8h0M606.9 148.2h0M647.5 122.4h0M598.1 156.7h0M597.8 121.5h0M608.9 164.3h0M617.3 153.7h0M636.1 147.3h0M604.7 130.0h0M609.8 146.7h0M604.6 152.5h0M601.2 127.3h0M594.3 133.7h0M611.3 145.1h0M601.6 133.2h0M609.0 163.5h0M616.2 141.5h0M601.0 156.3h0M609.0 156.9h0M615.3 148.2h0M605.3 128.4h0M629.8 166.0h0M611.2 157.6h0M605.1 126.8h0M598.6 157.4h0M617.9 158.5h0M597.4 117.0h0M613.7 134.3h0M648.4 144.9h0M614.6 165.2h0M607.9 136.0h0M619.8 158.9h0M595.8 134.9h0M608.4 157.0h0M622.9 134.9h0M614.9 144.4h0M605.6 129.7h0M600.9 144.7h0M621.7 135.9h0M611.3 132.9h0M618.3 144.4h0M598.6 140.1h0M607.5 150.4h0M641.2 160.1h0M607.0 128.5h0M605.1 133.0h0M614.0 127.7h0M596.8 122.2h0M597.6 144.7h0M600.3 161.3h0M604.1 138.0h0M614.5 142.7h0M604.1 132.0h0M604.0 123.4h0M604.1 153.6h0M613.2 164.5h0M617.5 139.5h0M623.6 166.8h0M617.3 134.4h0M598.7 154.2h0M595.8 122.7h0M595.7 153.0h0M595.0 152.8h0M613.9 161.7h0M646.8 158.2h0M600.1 123.2h0M599.6 129.9h0M595.6 117.7h0M603.2 123.5h0M600.4 142.7h0M596.8 146.4h0M599.1 133.4h0M600.4 134.9h0M595.7 138.1h0M642.0 139.9h0M602.5 122.2h0M612.4 160.3h0M596.7 137.5h0M624.4 152.1h0M608.7 161.0h0M610.6 161.7h0M605.3 152.0h0M594.5 137.1h0M594.7 129.7h0M609.0 146.8h0M596.4 145.0h0M596.1 156.0h0M601.3 138.5h0M608.3 126.0h0M597.1 151.3h0M602.5 139.0h0M598.7 121.4h0M610.2 161.2h0M601.9 152.6h0M611.0 162.0h0M611.8 158.3h0M611.2 141.9h0M600.5 143.5h0M602.3 150.7h0M607.3 158.3h0M603.8 138.0h0M599.3 124.6h0M647.6 133.5h0M596.7 120.0h0M602.7 146.2h0M608.0 152.3h0M618.3 131.6h0M607.0 129.7h0M617.1 148.1h0M598.2 134.0h0M596.8 152.0h0M600.9 154.4h0M598.9 131.5h0M599.1 156.5h0M598.4 129.9h0M596.2 155.7h0M601.6 157.8h0M601.2 153.3h0M622.6 135.1h0M612.9 153.3h0M617.1 139.5h0M604.8 131.7h0M614.4 152.3h0M614.9 141.1h0M596.6 154.8h0M597.2 121.2h0M610.2 154.3h0M606.7 127.7h0M602.8 128.1h0M618.7 150.2h0M601.2 138.7h0M634.4 157.9h0M612.9 138.0h0M617.0 162.1h0M611.7 128.6h0M618.0 137.3h0M609.6 124.9h0M601.4 143.3h0M604.4 140.5h0M602.0 157.1h0M605.2 124.3h0M601.2 125.8h0M603.7 122.6h0M601.7 125.5h0M596.2 130.8h0M599.2 135.0h0M611.9 129.3h0M611.7 161.3h0M596.6 135.2h0M651.4 128.6h0M616.0 159.3h0M612.1 127.2h0M597.6 136.5h0M617.9 138.5h0M593.7 119.0h0M614.0 145.9h0M613.3 152.9h0M615.4 158.7h0M616.1 162.4h0M609.5 145.0h0M605.9 132.6h0M599.7 148.7h0M600.2 156.2h0M612.3 138.8h0M611.9 156.4h0M599.4 132.0h0M600.4 136.0h0M604.1 160.9h0M610.8 130.3h0M616.2 130.7h0M622.2 137.7h0M606.4 150.3h0M605.9 144.8h0M599.3 153.9h0M599.3 154.8h0M608.9 142.7h0M608.1 162.8h0M612.2 127.2h0M647.7 143.7h0M602.8 157.3h0M613.5 131.2h0M605.6 131.8h0M594.7 119.7h0M607.7 128.9h0M605.7 150.9h0M601.4 136.1h0M613.3 157.4h0M613.9 147.0h0M596.4 126.2h0M612.5 130.0h0M607.1 152.5h0M604.8 144.6h0M608.2 135.1h0M594.8 125.6h0M604.2 120.4h0M597.6 148.5h0M598.9 125.3h0M600.6 126.8h0M642.8 145.9h0M597.2 137.4h0M594.5 122.3h0M598.0 152.3h0M620.2 137.2h0M599.6 131.2h0M614.8 136.7h0M603.1 144.2h0M605.4 148.6h0M603.7 131.2h0M597.5 146.2h0M597.8 127.7h0M598.0 147.3h0M594.3 126.8h0M598.5 118.9h0M612.8 149.5h0M600.8 127.8h0M607.7 158.8h0M595.3 123.4h0M619.0 163.3h0M598.8 143.0h0M616.5 160.8h0M597.7 149.6h0M606.4 153.6h0M614.9 150.7h0M646.0 145.0h0M604.2 131.8h0M624.8 149.5h0M608.6 132.9h0M597.7 125.5h0M596.7 131.9h0M597.5 151.8h0M603.7 150.5h0M600.1 134.4h0M607.7 148.5h0M600.4 118.0h0M604.2 125.6h0M598.5 132.8h0M600.3 148.3h0M617.7 155.7h0M600.6 123.4h0M601.5 124.7h0M614.4 151.4h0M619.5 143.6h0M595.5 119.4h0M635.3 166.2h0M602.5 140.8h0M605.0 148.0h0M611.9 129.8h0M601.1 141.3h0M600.8 153.1h0M599.1 157.2h0M596.8 149.5h0M600.1 130.5h0M608.4 152.0h0M610.0 158.2h0M600.6 150.5h0M619.4 139.1h0M612.6 135.9h0M598.9 153.1h0M599.2 158.4h0M613.2 133.2h0M611.0 161.7h0M606.2 157.7h0M609.9 157.7h0M605.4 144.4h0M601.6 136.9h0M593.4 122.1h0M614.8 141.6h0M614.0 157.3h0M599.2 117.5h0M606.5 125.2h0M612.8 152.3h0M599.4 132.1h0M601.5 148.8h0M612.5 150.5h0M595.8 150.7h0M601.8 159.4h0M599.9 150.9h0M606.6 133.2h0M609.5 163.5h0M599.0 135.2h0M619.8 144.5h0M614.0 154.5h0M603.2 122.7h0M605.9 133.5h0M599.1 155.5h0M598.1 133.2h0M594.3 129.8h0M611.2 157.3h0M602.7 157.3h0M603.7 120.1h0M620.4 159.3h0M605.8 161.7h0M659.3 146.1h0M611.6 131.8h0M603.1 145.2h0M607.3 142.8h0M604.7 163.0h0M597.6 118.1h0M614.6 137.4h0M601.9 122.6h0M596.9 149.5h0M608.9 133.2h0M603.3 141.7h0M617.3 131.1h0M615.0 133.8h0M604.7 130.7h0M611.7 146.3h0M608.3 158.2h0M611.3 145.3h0M611.3 153.3h0M607.5 135.5h0M626.4 160.6h0M639.9 143.7h0M616.1 139.8h0M609.3 126.1h0M609.8 162.1h0M604.9 150.4h0M608.5 162.5h0M597.9 121.9h0M612.0 144.5h0M613.2 137.4h0M599.1 122.9h0M619.9 158.8h0M599.4 119.0h0M594.9 123.5h0M616.5 156.8h0M601.0 158.4h0M602.5 149.9h0M615.4 129.1h0M607.0 139.8h0M614.7 142.8h0M607.1 163.8h0M598.1 125.4h0M612.2 147.9h0M596.0 133.1h0M604.8 127.5h0M598.9 144.5h0M603.3 121.4h0M596.1 154.9h0M604.5 154.5h0M598.0 153.3h0M596.5 141.9h0M601.4 155.8h0M595.2 124.5h0M605.6 151.6h0M599.1 157.2h0M606.8 132.9h0M617.9 131.1h0M614.5 132.9h0M596.8 134.3h0M603.8 155.0h0M601.3 141.9h0M619.0 138.6h0M611.8 150.0h0M596.8 122.0h0M606.1 150.1h0M617.0 152.1h0M595.2 129.3h0M646.0 150.0h0M636.4 169.5h0M608.7 160.1h0M603.1 119.4h0M610.8 151.7h0M610.3 139.5h0M615.9 144.4h0M613.2 136.9h0M597.4 157.6h0M605.8 136.5h0M621.9 137.4h0M603.7 147.8h0M604.6 133.3h0M619.9 141.7h0M607.3 151.2h0M614.3 151.4h0M606.0 146.9h0M595.3 145.9h0" stroke="#EA7460" stroke-width="0.8" stroke-linecap="round" fill="none" opacity="0.85"/>
<path d="M628.0 146.1h0M609.2 140.2h0M617.8 135.7h0M594.6 118.9h0M601.3 131.9h0M597.9 119.1h0M593.9 121.1h0M605.4 141.2h0M608.9 130.9h0M610.8 150.1h0M645.8 129.4h0M630.4 152.0h0M631.4 150.3h0M610.4 127.0h0M610.6 160.3h0M607.6 136.8h0M605.0 126.5h0M610.0 143.8h0M628.8 159.7h0M610.7 151.0h0M605.6 147.3h0M607.0 148.7h0M614.6 139.1h0M604.8 133.2h0M611.0 159.2h0M651.9 134.0h0M605.8 152.7h0M592.9 123.2h0M608.7 160.8h0M639.9 126.6h0M615.9 160.6h0M604.7 132.4h0M600.4 125.7h0M622.7 134.5h0M613.7 134.3h0M600.0 138.8h0M593.2 124.5h0M604.8 154.3h0M602.0 157.9h0M628.7 165.5h0M618.4 135.4h0M604.2 156.6h0M606.2 162.0h0M615.2 134.5h0M605.6 136.2h0M617.3 144.9h0M604.6 140.6h0M608.6 136.5h0M659.6 155.2h0M599.5 138.4h0M650.6 123.6h0M618.1 142.3h0M612.6 127.2h0M599.1 118.7h0M601.4 118.6h0M605.5 150.9h0M619.0 137.8h0M604.9 129.2h0M607.7 148.2h0M607.5 144.1h0M624.7 166.1h0M594.2 131.5h0M600.5 133.8h0M594.8 134.5h0M649.5 167.4h0M607.1 161.6h0M598.2 155.3h0M596.1 119.7h0M649.8 162.9h0M608.5 135.5h0M602.0 151.2h0M643.9 162.8h0M608.2 128.5h0M606.5 149.1h0M600.6 157.5h0M608.6 145.0h0M598.7 151.4h0M625.1 136.8h0M605.8 147.1h0M610.2 160.3h0M626.8 167.7h0M607.1 162.7h0M613.7 150.2h0M597.8 159.3h0M602.9 150.1h0M599.3 146.0h0M594.8 122.0h0M645.1 125.8h0M596.1 139.0h0M613.1 145.5h0M612.3 126.7h0M597.6 121.4h0M618.3 149.9h0M616.7 166.1h0M619.8 155.1h0M623.6 167.6h0M634.4 163.3h0M596.7 153.9h0M611.8 135.4h0M606.4 163.6h0M618.2 165.9h0M609.4 133.3h0M613.5 153.7h0M603.2 162.5h0M594.8 138.7h0M624.2 153.7h0M597.5 151.8h0M607.0 137.8h0M601.9 159.5h0M617.2 147.6h0M596.1 127.9h0M598.7 131.3h0M604.8 142.8h0M608.0 151.1h0M603.6 120.6h0M608.0 143.5h0M595.0 122.0h0M643.3 151.7h0M608.5 148.1h0M609.9 139.4h0M615.7 157.0h0M603.0 144.5h0M600.5 144.3h0M598.1 156.2h0M610.1 162.7h0M605.9 122.9h0M615.1 135.8h0M609.6 136.4h0M614.4 144.5h0M597.8 151.0h0M616.7 140.7h0M609.8 131.4h0M599.3 134.9h0M612.7 137.5h0M640.6 166.6h0M600.9 152.0h0M611.9 126.3h0M615.0 129.8h0M596.6 151.6h0M597.6 131.5h0M606.5 131.0h0M647.9 135.0h0M605.8 123.8h0M601.0 158.7h0M608.9 152.4h0M609.2 152.0h0M607.7 153.4h0M608.4 140.6h0M599.9 151.3h0M600.9 139.2h0M617.6 139.6h0M621.3 136.1h0M599.0 121.3h0M614.0 138.7h0M621.3 139.2h0M612.6 158.0h0M606.1 124.5h0M595.8 145.6h0M606.6 136.5h0M610.5 164.1h0M648.7 150.3h0M605.9 160.8h0M624.1 163.9h0M607.9 154.2h0M643.0 127.3h0M606.3 152.1h0M637.1 163.3h0M619.9 139.5h0M609.2 155.2h0M605.4 135.6h0M608.2 126.0h0M616.1 139.0h0M599.0 125.6h0M643.2 150.8h0M605.1 156.7h0M624.1 161.7h0M602.5 134.7h0M623.9 135.7h0M607.3 153.9h0M605.0 148.4h0M596.3 151.5h0M600.0 121.3h0M599.9 154.2h0M608.0 142.5h0M603.5 149.9h0M600.9 118.0h0M636.9 147.0h0M600.1 147.8h0M601.9 130.9h0M611.3 147.6h0M614.0 130.2h0M618.1 153.8h0M601.9 131.6h0M614.7 139.9h0M649.3 148.8h0M602.0 162.3h0M611.1 154.7h0M640.4 132.9h0M608.3 140.5h0M597.8 158.6h0M603.5 149.6h0M598.8 139.9h0M595.9 131.4h0M597.8 157.7h0M609.2 138.8h0M619.0 159.9h0M604.5 131.7h0M601.9 151.5h0M600.2 139.6h0M599.1 126.1h0M598.9 128.5h0M616.5 137.4h0M622.9 150.3h0M604.2 144.9h0M613.1 139.4h0M598.7 120.1h0M595.2 139.5h0M603.2 142.1h0M606.7 140.6h0M613.3 161.6h0M613.3 162.5h0M608.8 155.3h0M616.3 134.0h0M608.9 150.2h0M606.7 124.5h0M597.0 156.8h0M598.4 117.7h0M599.9 119.7h0M603.0 162.2h0M606.3 129.5h0M618.0 144.3h0M603.8 152.3h0M626.5 161.3h0M660.3 139.4h0M610.2 160.7h0M606.6 155.3h0M600.3 117.8h0M601.3 122.2h0M596.9 136.5h0M610.2 134.4h0M606.3 130.8h0M594.3 116.4h0M649.4 145.1h0M603.3 134.6h0M596.8 123.9h0M594.9 117.4h0M615.3 157.4h0M612.1 145.4h0M623.9 149.8h0M601.4 157.6h0M613.9 158.8h0M654.7 150.7h0M616.4 141.9h0M637.2 152.0h0M602.6 143.2h0M607.3 160.9h0M633.7 155.3h0M611.2 131.7h0M648.3 169.2h0M603.4 131.6h0M601.3 156.0h0M612.1 152.0h0M618.3 136.1h0M606.0 159.1h0M635.5 132.4h0M610.1 144.4h0M610.8 157.7h0M647.2 129.7h0M607.5 154.1h0M619.6 141.8h0M600.2 131.0h0M615.7 138.8h0M599.3 154.3h0M600.4 160.4h0M610.2 162.0h0M604.2 145.6h0M625.2 154.7h0M611.9 161.2h0M606.0 142.2h0M606.3 149.1h0M623.6 158.3h0M609.6 142.8h0M635.7 148.0h0M595.8 146.0h0M612.1 147.7h0M610.6 131.0h0M598.7 128.1h0M605.1 156.6h0M619.2 146.4h0M597.8 125.6h0M598.5 127.2h0M598.2 127.8h0M606.9 161.5h0M602.7 157.9h0M606.6 159.5h0M612.4 132.3h0M601.2 119.8h0M611.4 132.5h0M639.6 137.5h0M606.2 127.1h0M596.4 145.4h0M607.6 131.3h0M604.0 158.6h0M606.0 145.3h0M602.4 153.8h0M645.1 165.5h0M616.5 147.9h0M630.3 150.6h0M605.7 134.8h0M614.5 156.8h0M612.5 150.3h0M597.2 122.8h0M612.7 159.1h0M638.6 138.6h0M643.1 125.1h0M657.6 151.6h0M650.2 141.8h0M610.6 148.3h0M597.7 121.8h0M627.1 134.6h0M618.4 155.3h0M644.1 125.5h0M601.7 136.0h0M615.4 130.5h0M600.5 153.3h0M594.6 142.5h0M594.9 121.6h0M599.3 157.1h0M593.7 120.9h0M612.9 156.4h0M647.0 151.4h0M597.0 142.1h0M641.0 155.4h0M610.3 127.4h0M642.7 146.5h0M614.5 142.2h0M607.5 159.9h0M613.1 158.0h0M608.8 132.8h0M615.4 142.6h0M643.5 141.9h0M612.6 164.1h0M602.0 155.6h0M625.4 154.7h0M637.8 165.0h0M608.3 160.4h0M603.6 145.4h0M660.2 142.7h0M620.7 140.1h0M599.5 157.7h0M613.6 128.3h0M613.8 147.7h0M620.0 136.5h0M610.0 130.1h0M611.0 137.2h0M601.8 155.5h0M616.9 136.3h0M657.9 155.1h0M630.8 170.9h0M633.4 147.8h0M606.6 136.3h0M646.1 150.4h0M619.4 135.8h0M604.5 163.2h0M601.7 157.5h0M612.8 146.0h0M599.8 129.2h0M640.1 162.3h0M627.5 133.4h0M599.6 128.4h0M615.9 155.2h0M630.1 134.2h0M614.7 133.8h0M605.5 151.6h0M639.3 166.0h0M598.1 158.7h0M655.1 165.2h0M659.0 135.9h0M600.9 119.6h0M645.1 136.8h0M606.1 150.6h0M598.5 146.3h0M604.1 130.7h0M636.4 154.1h0M614.4 144.7h0M613.5 129.9h0M607.4 162.0h0M597.1 137.1h0M607.3 129.1h0M616.2 162.6h0M599.2 135.0h0M611.7 136.2h0M605.9 147.2h0M600.3 150.3h0M607.7 133.3h0M616.9 162.8h0M599.2 122.4h0M606.5 125.3h0M606.8 140.9h0M610.4 146.8h0M612.9 157.0h0M600.9 135.9h0M615.0 141.8h0M604.3 159.6h0M639.3 169.1h0M644.1 147.5h0M600.3 153.6h0M648.0 121.6h0M601.1 121.2h0M600.8 126.7h0M594.8 136.0h0M606.7 128.2h0M623.1 165.7h0M613.2 148.3h0M603.4 157.2h0M635.9 159.1h0M600.6 127.2h0M644.7 157.8h0M605.9 159.4h0M602.5 154.4h0M602.8 149.3h0M607.5 163.6h0M597.5 138.4h0M603.7 145.8h0M595.3 131.1h0M623.2 158.8h0M612.4 145.0h0M609.5 152.4h0M617.2 133.7h0M631.9 145.7h0M615.2 132.7h0M627.3 142.5h0M612.1 137.7h0M599.4 159.1h0M619.8 155.9h0M603.0 121.8h0M643.6 164.6h0M613.1 133.0h0M599.4 151.1h0M606.8 160.4h0M644.6 141.9h0M625.0 146.8h0M620.8 140.0h0M614.6 145.4h0M632.4 141.7h0M656.9 145.2h0M613.7 137.5h0M615.5 142.1h0M609.1 131.8h0M615.6 139.1h0M603.9 147.4h0M607.7 149.8h0M601.8 145.7h0M615.1 130.3h0M604.4 154.3h0M595.0 134.4h0M609.8 141.3h0M603.4 153.9h0M599.2 133.2h0M621.4 136.0h0M606.7 143.5h0M595.7 143.1h0M610.2 137.8h0M598.7 119.1h0M598.9 157.5h0M611.3 152.2h0M617.8 131.0h0M605.0 142.1h0M658.1 159.9h0M597.7 151.1h0M647.0 127.4h0M613.7 133.1h0M615.8 140.3h0M596.7 142.1h0M594.5 125.4h0M606.0 160.9h0M619.2 135.3h0M633.5 171.0h0M607.3 127.9h0M614.9 154.0h0M627.5 155.1h0M593.6 120.5h0M614.1 153.4h0M624.9 152.8h0M610.9 156.1h0M616.1 158.2h0M634.0 153.9h0M609.8 141.6h0M606.3 148.7h0M616.2 144.3h0M636.4 165.4h0M634.8 156.2h0" stroke="#F5AC9C" stroke-width="0.8" stroke-linecap="round" fill="none" opacity="0.85"/>
<line x1="587.5" y1="112.7" x2="587.5" y2="180.1" stroke="#231f20" stroke-width="0.9" />
<line x1="586.9" y1="180.5" x2="667.6" y2="180.5" stroke="#231f20" stroke-width="0.9" />
<line x1="584.5" y1="116.5" x2="587.3" y2="116.5" stroke="#231f20" stroke-width="0.8" />
<text transform="translate(582.6 118.5) scale(1.05 1)" font-size="6.2" text-anchor="end" >5.0</text>
<line x1="584.5" y1="131.5" x2="587.3" y2="131.5" stroke="#231f20" stroke-width="0.8" />
<text transform="translate(582.6 133.7) scale(1.05 1)" font-size="6.2" text-anchor="end" >2.5</text>
<line x1="584.5" y1="146.5" x2="587.3" y2="146.5" stroke="#231f20" stroke-width="0.8" />
<text transform="translate(582.6 149.0) scale(1.05 1)" font-size="6.2" text-anchor="end" >0</text>
<line x1="584.5" y1="162.5" x2="587.3" y2="162.5" stroke="#231f20" stroke-width="0.8" />
<text transform="translate(582.6 164.2) scale(1.05 1)" font-size="6.2" text-anchor="end" >−2.5</text>
<line x1="584.5" y1="177.5" x2="587.3" y2="177.5" stroke="#231f20" stroke-width="0.8" />
<text transform="translate(582.6 179.5) scale(1.05 1)" font-size="6.2" text-anchor="end" >−5.0</text>
<line x1="606.5" y1="180.1" x2="606.5" y2="182.3" stroke="#231f20" stroke-width="0.8" />
<text transform="translate(606.7 192.8) scale(1.065 1)" font-size="7" text-anchor="middle" >−5</text>
<line x1="626.5" y1="180.1" x2="626.5" y2="182.3" stroke="#231f20" stroke-width="0.8" />
<text transform="translate(626.3 192.8) scale(1.065 1)" font-size="7" text-anchor="middle" >0</text>
<line x1="645.5" y1="180.1" x2="645.5" y2="182.3" stroke="#231f20" stroke-width="0.8" />
<text transform="translate(645.1 192.8) scale(1.065 1)" font-size="7" text-anchor="middle" >5</text>
<line x1="665.5" y1="180.1" x2="665.5" y2="182.3" stroke="#231f20" stroke-width="0.8" />
<text transform="translate(665.0 192.8) scale(1.065 1)" font-size="7" text-anchor="middle" >10</text>
<text transform="translate(632.5 203.0) scale(0.9143127082799589 1)" font-size="8.2" text-anchor="middle" fill="#A32C34" >UMAP_1</text>
<text transform="translate(568.4 146.4) rotate(-90) scale(0.9447897985559576 1)" font-size="8.2" text-anchor="middle" fill="#A32C34" >UMAP_2</text>
<defs><linearGradient id="gPRF1" x1="0" x2="0" y1="0" y2="1"><stop offset="0" stop-color="#7A0E12"/><stop offset="0.25" stop-color="#C4201D"/><stop offset="0.55" stop-color="#F07A62"/><stop offset="1" stop-color="#FDF0EA"/></linearGradient></defs>
<rect x="662.90" y="134.70" width="5.40" height="24.60" fill="url(#gPRF1)" />
<text transform="translate(670.9 139.9) scale(1.065 1)" font-size="5.6" >3</text>
<text transform="translate(670.9 147.1) scale(1.065 1)" font-size="5.6" >2</text>
<text transform="translate(670.9 154.3) scale(1.065 1)" font-size="5.6" >1</text>
<text transform="translate(670.9 161.5) scale(1.065 1)" font-size="5.6" >0</text>
<text transform="translate(669.0 121.7) scale(1.065 1)" font-size="7.2" text-anchor="middle" >Avg Exp</text>
<text transform="translate(669.0 129.7) scale(1.065 1)" font-size="7.2" text-anchor="middle" font-style="italic" >PRF1</text>
<text transform="translate(2.0 222.2) scale(1.065 1)" font-size="11" fill="#000" font-weight="bold" >d</text>
<line x1="44.4" y1="308.5" x2="72.4" y2="308.5" stroke="#222" stroke-width="0.75" stroke-dasharray="2.2 2"/>
<line x1="44.4" y1="308.6" x2="54.9" y2="280.6" stroke="#000" stroke-width="0.75" />
<line x1="44.4" y1="308.6" x2="54.9" y2="298.0" stroke="#000" stroke-width="0.75" />
<line x1="44.4" y1="308.6" x2="54.9" y2="298.9" stroke="#000" stroke-width="0.75" />
<line x1="44.4" y1="308.6" x2="54.9" y2="299.9" stroke="#000" stroke-width="0.75" />
<line x1="44.4" y1="308.6" x2="54.9" y2="301.4" stroke="#000" stroke-width="0.75" />
<line x1="44.4" y1="308.6" x2="54.9" y2="302.8" stroke="#000" stroke-width="0.75" />
<line x1="44.4" y1="308.6" x2="54.9" y2="303.8" stroke="#000" stroke-width="0.75" />
<line x1="44.4" y1="308.6" x2="54.9" y2="304.7" stroke="#000" stroke-width="0.75" />
<line x1="44.4" y1="308.6" x2="54.9" y2="306.2" stroke="#000" stroke-width="0.75" />
<line x1="44.4" y1="308.5" x2="54.9" y2="308.5" stroke="#000" stroke-width="0.75" />
<line x1="44.4" y1="308.6" x2="54.9" y2="311.0" stroke="#000" stroke-width="0.75" />
<line x1="44.4" y1="308.6" x2="54.9" y2="312.5" stroke="#000" stroke-width="0.75" />
<line x1="54.9" y1="280.6" x2="66.1" y2="265.1" stroke="#000" stroke-width="0.75" />
<line x1="54.9" y1="298.0" x2="66.1" y2="259.3" stroke="#000" stroke-width="0.75" />
<line x1="54.9" y1="298.9" x2="66.1" y2="275.8" stroke="#000" stroke-width="0.75" />
<line x1="54.9" y1="299.9" x2="66.1" y2="277.2" stroke="#000" stroke-width="0.75" />
<line x1="54.9" y1="301.4" x2="66.1" y2="302.8" stroke="#000" stroke-width="0.75" />
<line x1="54.9" y1="302.8" x2="66.1" y2="278.7" stroke="#000" stroke-width="0.75" />
<line x1="54.9" y1="303.5" x2="66.1" y2="303.5" stroke="#000" stroke-width="0.75" />
<line x1="54.9" y1="304.7" x2="66.1" y2="308.6" stroke="#000" stroke-width="0.75" />
<line x1="54.9" y1="306.5" x2="66.1" y2="306.5" stroke="#000" stroke-width="0.75" />
<line x1="54.9" y1="308.6" x2="66.1" y2="313.4" stroke="#000" stroke-width="0.75" />
<line x1="54.9" y1="311.5" x2="66.1" y2="311.5" stroke="#000" stroke-width="0.75" />
<line x1="54.9" y1="312.5" x2="66.1" y2="318.3" stroke="#000" stroke-width="0.75" />
<line x1="54.9" y1="298.0" x2="66.1" y2="315.8" stroke="#000" stroke-width="0.75" />
<line x1="54.9" y1="301.4" x2="66.1" y2="303.8" stroke="#000" stroke-width="0.75" />
<circle cx="54.9" cy="280.6" r="1.90" fill="#22DD22" />
<circle cx="54.9" cy="298.0" r="1.90" fill="#22DD22" />
<circle cx="54.9" cy="298.9" r="1.90" fill="#22DD22" />
<circle cx="54.9" cy="299.9" r="1.90" fill="#22DD22" />
<circle cx="54.9" cy="301.4" r="1.90" fill="#22DD22" />
<circle cx="54.9" cy="302.8" r="1.90" fill="#22DD22" />
<circle cx="54.9" cy="303.8" r="1.90" fill="#22DD22" />
<circle cx="54.9" cy="304.7" r="1.90" fill="#22DD22" />
<circle cx="54.9" cy="306.2" r="1.90" fill="#22DD22" />
<circle cx="54.9" cy="308.6" r="1.90" fill="#22DD22" />
<circle cx="54.9" cy="311.0" r="1.90" fill="#22DD22" />
<circle cx="54.9" cy="312.5" r="1.90" fill="#22DD22" />
<circle cx="66.1" cy="259.3" r="1.90" fill="#F7941D" />
<circle cx="66.1" cy="265.1" r="1.90" fill="#F7941D" />
<circle cx="66.1" cy="275.8" r="1.90" fill="#F7941D" />
<circle cx="66.1" cy="277.2" r="1.90" fill="#F7941D" />
<circle cx="66.1" cy="278.7" r="1.90" fill="#F7941D" />
<circle cx="66.1" cy="302.8" r="1.90" fill="#F7941D" />
<circle cx="66.1" cy="303.8" r="1.90" fill="#F7941D" />
<circle cx="66.1" cy="306.2" r="1.90" fill="#F7941D" />
<circle cx="66.1" cy="308.6" r="1.90" fill="#F7941D" />
<circle cx="66.1" cy="311.0" r="1.90" fill="#F7941D" />
<circle cx="66.1" cy="313.4" r="1.90" fill="#F7941D" />
<circle cx="66.1" cy="315.8" r="1.90" fill="#F7941D" />
<circle cx="66.1" cy="318.3" r="1.90" fill="#F7941D" />
<circle cx="44.4" cy="308.6" r="1.90" fill="#000" />
<line x1="36.5" y1="256.0" x2="36.5" y2="322.6" stroke="#231f20" stroke-width="0.9" />
<line x1="36.3" y1="322.5" x2="72.4" y2="322.5" stroke="#231f20" stroke-width="0.9" />
<line x1="33.2" y1="260.5" x2="36.7" y2="260.5" stroke="#231f20" stroke-width="0.9" />
<text transform="translate(30.8 263.0) scale(1.065 1)" font-size="7.6" text-anchor="end" >10</text>
<line x1="33.2" y1="284.5" x2="36.7" y2="284.5" stroke="#231f20" stroke-width="0.9" />
<text transform="translate(30.8 287.2) scale(1.065 1)" font-size="7.6" text-anchor="end" >5</text>
<line x1="33.2" y1="308.5" x2="36.7" y2="308.5" stroke="#231f20" stroke-width="0.9" />
<text transform="translate(30.8 311.3) scale(1.065 1)" font-size="7.6" text-anchor="end" >0</text>
<line x1="44.5" y1="322.6" x2="44.5" y2="324.6" stroke="#231f20" stroke-width="0.8" />
<line x1="54.5" y1="322.6" x2="54.5" y2="324.6" stroke="#231f20" stroke-width="0.8" />
<line x1="66.5" y1="322.6" x2="66.5" y2="324.6" stroke="#231f20" stroke-width="0.8" />
<text transform="translate(53.7 227.0) scale(1.065 1)" font-size="8.2" text-anchor="middle" >ISG (C3)</text>
<line x1="44.3" y1="240.5" x2="65.3" y2="240.5" stroke="#111" stroke-width="1.0" />
<text transform="translate(56.0 235.8) scale(1.065 1)" font-size="7.4" text-anchor="middle" >NS</text>
<line x1="44.3" y1="251.5" x2="55.0" y2="251.5" stroke="#111" stroke-width="1.0" />
<text transform="translate(52.1 249.6) scale(1.065 1)" font-size="7.4" text-anchor="middle" >0.02</text>
<line x1="118.0" y1="295.5" x2="147.2" y2="295.5" stroke="#222" stroke-width="0.75" stroke-dasharray="2.2 2"/>
<line x1="118.0" y1="295.8" x2="129.2" y2="259.9" stroke="#000" stroke-width="0.75" />
<line x1="118.0" y1="295.8" x2="129.2" y2="275.9" stroke="#000" stroke-width="0.75" />
<line x1="118.0" y1="295.8" x2="129.2" y2="282.5" stroke="#000" stroke-width="0.75" />
<line x1="118.0" y1="295.8" x2="129.2" y2="285.2" stroke="#000" stroke-width="0.75" />
<line x1="118.0" y1="295.8" x2="129.2" y2="289.2" stroke="#000" stroke-width="0.75" />
<line x1="118.0" y1="295.8" x2="129.2" y2="291.8" stroke="#000" stroke-width="0.75" />
<line x1="118.0" y1="295.8" x2="129.2" y2="294.5" stroke="#000" stroke-width="0.75" />
<line x1="118.0" y1="295.8" x2="129.2" y2="306.4" stroke="#000" stroke-width="0.75" />
<line x1="118.0" y1="295.8" x2="129.2" y2="321.1" stroke="#000" stroke-width="0.75" />
<line x1="129.2" y1="259.9" x2="140.2" y2="278.5" stroke="#000" stroke-width="0.75" />
<line x1="129.2" y1="275.9" x2="140.2" y2="273.2" stroke="#000" stroke-width="0.75" />
<line x1="129.2" y1="282.5" x2="140.2" y2="259.9" stroke="#000" stroke-width="0.75" />
<line x1="129.2" y1="285.5" x2="140.2" y2="285.5" stroke="#000" stroke-width="0.75" />
<line x1="129.2" y1="289.2" x2="140.2" y2="286.5" stroke="#000" stroke-width="0.75" />
<line x1="129.2" y1="291.8" x2="140.2" y2="287.8" stroke="#000" stroke-width="0.75" />
<line x1="129.2" y1="294.5" x2="140.2" y2="289.2" stroke="#000" stroke-width="0.75" />
<line x1="129.2" y1="306.4" x2="140.2" y2="290.5" stroke="#000" stroke-width="0.75" />
<line x1="129.2" y1="321.1" x2="140.2" y2="275.9" stroke="#000" stroke-width="0.75" />
<line x1="129.2" y1="282.5" x2="140.2" y2="299.8" stroke="#000" stroke-width="0.75" />
<line x1="129.2" y1="294.5" x2="140.2" y2="299.8" stroke="#000" stroke-width="0.75" />
<line x1="129.2" y1="285.2" x2="140.2" y2="275.9" stroke="#000" stroke-width="0.75" />
<circle cx="129.2" cy="259.9" r="1.90" fill="#22DD22" />
<circle cx="129.2" cy="275.9" r="1.90" fill="#22DD22" />
<circle cx="129.2" cy="282.5" r="1.90" fill="#22DD22" />
<circle cx="129.2" cy="285.2" r="1.90" fill="#22DD22" />
<circle cx="129.2" cy="289.2" r="1.90" fill="#22DD22" />
<circle cx="129.2" cy="291.8" r="1.90" fill="#22DD22" />
<circle cx="129.2" cy="294.5" r="1.90" fill="#22DD22" />
<circle cx="129.2" cy="306.4" r="1.90" fill="#22DD22" />
<circle cx="129.2" cy="321.1" r="1.90" fill="#22DD22" />
<circle cx="140.2" cy="259.9" r="1.90" fill="#F7941D" />
<circle cx="140.2" cy="273.2" r="1.90" fill="#F7941D" />
<circle cx="140.2" cy="275.9" r="1.90" fill="#F7941D" />
<circle cx="140.2" cy="278.5" r="1.90" fill="#F7941D" />
<circle cx="140.2" cy="285.2" r="1.90" fill="#F7941D" />
<circle cx="140.2" cy="286.5" r="1.90" fill="#F7941D" />
<circle cx="140.2" cy="287.8" r="1.90" fill="#F7941D" />
<circle cx="140.2" cy="289.2" r="1.90" fill="#F7941D" />
<circle cx="140.2" cy="290.5" r="1.90" fill="#F7941D" />
<circle cx="140.2" cy="299.8" r="1.90" fill="#F7941D" />
<circle cx="118.0" cy="295.8" r="1.90" fill="#000" />
<line x1="107.5" y1="255.6" x2="107.5" y2="322.6" stroke="#231f20" stroke-width="0.9" />
<line x1="107.1" y1="322.5" x2="147.2" y2="322.5" stroke="#231f20" stroke-width="0.9" />
<line x1="104.0" y1="255.5" x2="107.5" y2="255.5" stroke="#231f20" stroke-width="0.9" />
<text transform="translate(101.6 258.6) scale(1.065 1)" font-size="7.6" text-anchor="end" >30</text>
<line x1="104.0" y1="269.5" x2="107.5" y2="269.5" stroke="#231f20" stroke-width="0.9" />
<text transform="translate(101.6 271.9) scale(1.065 1)" font-size="7.6" text-anchor="end" >20</text>
<line x1="104.0" y1="282.5" x2="107.5" y2="282.5" stroke="#231f20" stroke-width="0.9" />
<text transform="translate(101.6 285.2) scale(1.065 1)" font-size="7.6" text-anchor="end" >10</text>
<line x1="104.0" y1="295.5" x2="107.5" y2="295.5" stroke="#231f20" stroke-width="0.9" />
<text transform="translate(101.6 298.5) scale(1.065 1)" font-size="7.6" text-anchor="end" >0</text>
<line x1="104.0" y1="309.5" x2="107.5" y2="309.5" stroke="#231f20" stroke-width="0.9" />
<text transform="translate(101.6 311.8) scale(1.065 1)" font-size="7.6" text-anchor="end" >−10</text>
<line x1="104.0" y1="322.5" x2="107.5" y2="322.5" stroke="#231f20" stroke-width="0.9" />
<text transform="translate(101.6 325.1) scale(1.065 1)" font-size="7.6" text-anchor="end" >−20</text>
<line x1="118.5" y1="322.6" x2="118.5" y2="324.6" stroke="#231f20" stroke-width="0.8" />
<line x1="129.5" y1="322.6" x2="129.5" y2="324.6" stroke="#231f20" stroke-width="0.8" />
<line x1="140.5" y1="322.6" x2="140.5" y2="324.6" stroke="#231f20" stroke-width="0.8" />
<text transform="translate(130.8 227.0) scale(1.065 1)" font-size="8.2" text-anchor="middle" ></text>
<line x1="118.9" y1="239.5" x2="140.0" y2="239.5" stroke="#111" stroke-width="1.0" />
<text transform="translate(131.1 236.9) scale(1.065 1)" font-size="7.4" text-anchor="middle" >0.004</text>
<line x1="118.9" y1="251.5" x2="128.9" y2="251.5" stroke="#111" stroke-width="1.0" />
<text transform="translate(124.5 247.8) scale(1.065 1)" font-size="7.4" text-anchor="middle" >NS</text>
<text transform="translate(130.8 227.0) scale(1.065 1)" font-size="8.2" text-anchor="middle" >T<tspan font-size="5.5" dy="1.8">EM</tspan><tspan dy="-1.8"> (C1)</tspan></text>
<line x1="192.7" y1="272.5" x2="221.2" y2="272.5" stroke="#222" stroke-width="0.75" stroke-dasharray="2.2 2"/>
<line x1="192.7" y1="272.4" x2="203.7" y2="269.7" stroke="#000" stroke-width="0.75" />
<line x1="192.7" y1="272.4" x2="203.7" y2="270.7" stroke="#000" stroke-width="0.75" />
<line x1="192.7" y1="272.5" x2="203.7" y2="272.5" stroke="#000" stroke-width="0.75" />
<line x1="192.7" y1="272.4" x2="203.7" y2="273.4" stroke="#000" stroke-width="0.75" />
<line x1="192.7" y1="272.4" x2="203.7" y2="289.2" stroke="#000" stroke-width="0.75" />
<line x1="192.7" y1="272.4" x2="203.7" y2="290.9" stroke="#000" stroke-width="0.75" />
<line x1="192.7" y1="272.4" x2="203.7" y2="292.6" stroke="#000" stroke-width="0.75" />
<line x1="192.7" y1="272.4" x2="203.7" y2="294.2" stroke="#000" stroke-width="0.75" />
<line x1="192.7" y1="272.4" x2="203.7" y2="295.9" stroke="#000" stroke-width="0.75" />
<line x1="192.7" y1="272.4" x2="203.7" y2="299.3" stroke="#000" stroke-width="0.75" />
<line x1="203.7" y1="269.7" x2="214.7" y2="279.8" stroke="#000" stroke-width="0.75" />
<line x1="203.7" y1="270.7" x2="214.7" y2="282.5" stroke="#000" stroke-width="0.75" />
<line x1="203.7" y1="272.4" x2="214.7" y2="290.9" stroke="#000" stroke-width="0.75" />
<line x1="203.7" y1="273.4" x2="214.7" y2="289.2" stroke="#000" stroke-width="0.75" />
<line x1="203.7" y1="289.2" x2="214.7" y2="294.2" stroke="#000" stroke-width="0.75" />
<line x1="203.7" y1="290.9" x2="214.7" y2="292.6" stroke="#000" stroke-width="0.75" />
<line x1="203.7" y1="292.6" x2="214.7" y2="295.9" stroke="#000" stroke-width="0.75" />
<line x1="203.7" y1="294.2" x2="214.7" y2="301.0" stroke="#000" stroke-width="0.75" />
<line x1="203.7" y1="295.9" x2="214.7" y2="311.0" stroke="#000" stroke-width="0.75" />
<line x1="203.7" y1="299.5" x2="214.7" y2="299.5" stroke="#000" stroke-width="0.75" />
<circle cx="203.7" cy="269.7" r="1.90" fill="#22DD22" />
<circle cx="203.7" cy="270.7" r="1.90" fill="#22DD22" />
<circle cx="203.7" cy="272.4" r="1.90" fill="#22DD22" />
<circle cx="203.7" cy="273.4" r="1.90" fill="#22DD22" />
<circle cx="203.7" cy="289.2" r="1.90" fill="#22DD22" />
<circle cx="203.7" cy="290.9" r="1.90" fill="#22DD22" />
<circle cx="203.7" cy="292.6" r="1.90" fill="#22DD22" />
<circle cx="203.7" cy="294.2" r="1.90" fill="#22DD22" />
<circle cx="203.7" cy="295.9" r="1.90" fill="#22DD22" />
<circle cx="203.7" cy="299.3" r="1.90" fill="#22DD22" />
<circle cx="214.7" cy="279.8" r="1.90" fill="#F7941D" />
<circle cx="214.7" cy="282.5" r="1.90" fill="#F7941D" />
<circle cx="214.7" cy="289.2" r="1.90" fill="#F7941D" />
<circle cx="214.7" cy="290.9" r="1.90" fill="#F7941D" />
<circle cx="214.7" cy="292.6" r="1.90" fill="#F7941D" />
<circle cx="214.7" cy="294.2" r="1.90" fill="#F7941D" />
<circle cx="214.7" cy="295.9" r="1.90" fill="#F7941D" />
<circle cx="214.7" cy="299.3" r="1.90" fill="#F7941D" />
<circle cx="214.7" cy="301.0" r="1.90" fill="#F7941D" />
<circle cx="214.7" cy="311.0" r="1.90" fill="#F7941D" />
<circle cx="192.7" cy="272.4" r="1.90" fill="#000" />
<line x1="185.5" y1="255.6" x2="185.5" y2="322.6" stroke="#231f20" stroke-width="0.9" />
<line x1="185.1" y1="322.5" x2="221.2" y2="322.5" stroke="#231f20" stroke-width="0.9" />
<line x1="182.0" y1="255.5" x2="185.5" y2="255.5" stroke="#231f20" stroke-width="0.9" />
<text transform="translate(179.6 258.3) scale(1.065 1)" font-size="7.6" text-anchor="end" >5</text>
<line x1="182.0" y1="272.5" x2="185.5" y2="272.5" stroke="#231f20" stroke-width="0.9" />
<text transform="translate(179.6 275.1) scale(1.065 1)" font-size="7.6" text-anchor="end" >0</text>
<line x1="182.0" y1="289.5" x2="185.5" y2="289.5" stroke="#231f20" stroke-width="0.9" />
<text transform="translate(179.6 291.9) scale(1.065 1)" font-size="7.6" text-anchor="end" >−5</text>
<line x1="182.0" y1="306.5" x2="185.5" y2="306.5" stroke="#231f20" stroke-width="0.9" />
<text transform="translate(179.6 308.7) scale(1.065 1)" font-size="7.6" text-anchor="end" >−10</text>
<line x1="182.0" y1="322.5" x2="185.5" y2="322.5" stroke="#231f20" stroke-width="0.9" />
<text transform="translate(179.6 325.5) scale(1.065 1)" font-size="7.6" text-anchor="end" >−15</text>
<line x1="192.5" y1="322.6" x2="192.5" y2="324.6" stroke="#231f20" stroke-width="0.8" />
<line x1="203.5" y1="322.6" x2="203.5" y2="324.6" stroke="#231f20" stroke-width="0.8" />
<line x1="214.5" y1="322.6" x2="214.5" y2="324.6" stroke="#231f20" stroke-width="0.8" />
<text transform="translate(204.2 227.0) scale(1.065 1)" font-size="8.2" text-anchor="middle" ></text>
<line x1="193.1" y1="240.5" x2="214.1" y2="240.5" stroke="#111" stroke-width="1.0" />
<text transform="translate(205.3 237.3) scale(1.065 1)" font-size="7.4" text-anchor="middle" >0.002</text>
<line x1="193.1" y1="252.5" x2="203.8" y2="252.5" stroke="#8a8a8a" stroke-width="1.3" />
<text transform="translate(199.5 248.4) scale(1.065 1)" font-size="7.4" text-anchor="middle" >NS</text>
<text transform="translate(204.2 227.0) scale(1.065 1)" font-size="8.2" text-anchor="middle" >T<tspan font-size="5.5" dy="1.8">CM</tspan><tspan dy="-1.8"> (C2)</tspan></text>
<line x1="267.3" y1="295.5" x2="296.0" y2="295.5" stroke="#222" stroke-width="0.75" stroke-dasharray="2.2 2"/>
<line x1="267.3" y1="295.8" x2="278.0" y2="267.9" stroke="#000" stroke-width="0.75" />
<line x1="267.3" y1="295.8" x2="278.0" y2="286.5" stroke="#000" stroke-width="0.75" />
<line x1="267.3" y1="295.8" x2="278.0" y2="293.1" stroke="#000" stroke-width="0.75" />
<line x1="267.3" y1="295.8" x2="278.0" y2="299.8" stroke="#000" stroke-width="0.75" />
<line x1="267.3" y1="295.8" x2="278.0" y2="301.1" stroke="#000" stroke-width="0.75" />
<line x1="267.3" y1="295.8" x2="278.0" y2="305.1" stroke="#000" stroke-width="0.75" />
<line x1="267.3" y1="295.8" x2="278.0" y2="309.1" stroke="#000" stroke-width="0.75" />
<line x1="267.3" y1="295.8" x2="278.0" y2="319.7" stroke="#000" stroke-width="0.75" />
<line x1="278.0" y1="267.9" x2="289.2" y2="307.8" stroke="#000" stroke-width="0.75" />
<line x1="278.0" y1="286.5" x2="289.2" y2="289.2" stroke="#000" stroke-width="0.75" />
<line x1="278.0" y1="293.1" x2="289.2" y2="289.8" stroke="#000" stroke-width="0.75" />
<line x1="278.0" y1="299.8" x2="289.2" y2="298.5" stroke="#000" stroke-width="0.75" />
<line x1="278.0" y1="301.1" x2="289.2" y2="302.4" stroke="#000" stroke-width="0.75" />
<line x1="278.0" y1="305.1" x2="289.2" y2="309.1" stroke="#000" stroke-width="0.75" />
<line x1="278.0" y1="309.1" x2="289.2" y2="310.4" stroke="#000" stroke-width="0.75" />
<line x1="278.0" y1="319.7" x2="289.2" y2="318.4" stroke="#000" stroke-width="0.75" />
<line x1="278.0" y1="299.8" x2="289.2" y2="311.8" stroke="#000" stroke-width="0.75" />
<line x1="278.0" y1="305.1" x2="289.2" y2="311.8" stroke="#000" stroke-width="0.75" />
<circle cx="278.0" cy="267.9" r="1.90" fill="#22DD22" />
<circle cx="278.0" cy="286.5" r="1.90" fill="#22DD22" />
<circle cx="278.0" cy="293.1" r="1.90" fill="#22DD22" />
<circle cx="278.0" cy="299.8" r="1.90" fill="#22DD22" />
<circle cx="278.0" cy="301.1" r="1.90" fill="#22DD22" />
<circle cx="278.0" cy="305.1" r="1.90" fill="#22DD22" />
<circle cx="278.0" cy="309.1" r="1.90" fill="#22DD22" />
<circle cx="278.0" cy="319.7" r="1.90" fill="#22DD22" />
<circle cx="289.2" cy="289.2" r="1.90" fill="#F7941D" />
<circle cx="289.2" cy="289.8" r="1.90" fill="#F7941D" />
<circle cx="289.2" cy="298.5" r="1.90" fill="#F7941D" />
<circle cx="289.2" cy="302.4" r="1.90" fill="#F7941D" />
<circle cx="289.2" cy="307.8" r="1.90" fill="#F7941D" />
<circle cx="289.2" cy="309.1" r="1.90" fill="#F7941D" />
<circle cx="289.2" cy="310.4" r="1.90" fill="#F7941D" />
<circle cx="289.2" cy="311.8" r="1.90" fill="#F7941D" />
<circle cx="289.2" cy="318.4" r="1.90" fill="#F7941D" />
<circle cx="267.3" cy="295.8" r="1.90" fill="#000" />
<line x1="256.5" y1="255.6" x2="256.5" y2="322.6" stroke="#231f20" stroke-width="0.9" />
<line x1="255.9" y1="322.5" x2="296.0" y2="322.5" stroke="#231f20" stroke-width="0.9" />
<line x1="252.8" y1="255.5" x2="256.3" y2="255.5" stroke="#231f20" stroke-width="0.9" />
<text transform="translate(250.4 258.6) scale(1.065 1)" font-size="7.6" text-anchor="end" >30</text>
<line x1="252.8" y1="269.5" x2="256.3" y2="269.5" stroke="#231f20" stroke-width="0.9" />
<text transform="translate(250.4 271.9) scale(1.065 1)" font-size="7.6" text-anchor="end" >20</text>
<line x1="252.8" y1="282.5" x2="256.3" y2="282.5" stroke="#231f20" stroke-width="0.9" />
<text transform="translate(250.4 285.2) scale(1.065 1)" font-size="7.6" text-anchor="end" >10</text>
<line x1="252.8" y1="295.5" x2="256.3" y2="295.5" stroke="#231f20" stroke-width="0.9" />
<text transform="translate(250.4 298.5) scale(1.065 1)" font-size="7.6" text-anchor="end" >0</text>
<line x1="252.8" y1="309.5" x2="256.3" y2="309.5" stroke="#231f20" stroke-width="0.9" />
<text transform="translate(250.4 311.8) scale(1.065 1)" font-size="7.6" text-anchor="end" >−10</text>
<line x1="252.8" y1="322.5" x2="256.3" y2="322.5" stroke="#231f20" stroke-width="0.9" />
<text transform="translate(250.4 325.1) scale(1.065 1)" font-size="7.6" text-anchor="end" >−20</text>
<line x1="267.5" y1="322.6" x2="267.5" y2="324.6" stroke="#231f20" stroke-width="0.8" />
<line x1="278.5" y1="322.6" x2="278.5" y2="324.6" stroke="#231f20" stroke-width="0.8" />
<line x1="289.5" y1="322.6" x2="289.5" y2="324.6" stroke="#231f20" stroke-width="0.8" />
<text transform="translate(279.0 227.0) scale(1.065 1)" font-size="8.2" text-anchor="middle" >Naive (C0)</text>
<line x1="268.0" y1="240.5" x2="288.5" y2="240.5" stroke="#111" stroke-width="1.0" />
<text transform="translate(279.2 237.3) scale(1.065 1)" font-size="7.4" text-anchor="middle" >0.03</text>
<line x1="268.0" y1="252.5" x2="278.0" y2="252.5" stroke="#8a8a8a" stroke-width="1.3" />
<text transform="translate(273.8 248.4) scale(1.065 1)" font-size="7.4" text-anchor="middle" >NS</text>
<text transform="translate(7.2 284.4) rotate(-90) scale(1.065 1)" font-size="8.6" text-anchor="middle" >Δ % cluster freq.</text>
<text transform="translate(17.8 286.2) rotate(-90) scale(1.065 1)" font-size="8.6" text-anchor="middle" >(of CD8 T cells)</text>
<circle cx="13.4" cy="333.5" r="1.70" fill="#000" />
<text transform="translate(16.6 336.0) scale(1.065 1)" font-size="7" >C01D01</text>
<circle cx="13.4" cy="342.3" r="1.70" fill="#5DC34C" />
<text transform="translate(16.6 344.8) scale(1.065 1)" font-size="7" >C01D02</text>
<circle cx="13.4" cy="351.4" r="1.70" fill="#F7A24B" />
<text transform="translate(16.6 353.9) scale(1.065 1)" font-size="7" >C01D08</text>
<rect x="119.90" y="343.50" width="15.35" height="14.20" fill="#EEF0F8" stroke="#8a8a8a" stroke-width="0.6" />
<rect x="135.25" y="343.50" width="15.35" height="14.20" fill="#8C9AD2" stroke="#8a8a8a" stroke-width="0.6" />
<rect x="150.60" y="343.50" width="15.35" height="14.20" fill="#fff" stroke="#8a8a8a" stroke-width="0.6" />
<rect x="165.95" y="343.50" width="15.35" height="14.20" fill="#B9C2E5" stroke="#8a8a8a" stroke-width="0.6" />
<rect x="181.30" y="343.50" width="15.35" height="14.20" fill="#6678C3" stroke="#8a8a8a" stroke-width="0.6" />
<rect x="196.65" y="343.50" width="15.35" height="14.20" fill="#fff" stroke="#8a8a8a" stroke-width="0.6" />
<rect x="212.00" y="343.50" width="15.35" height="14.20" fill="#8593CF" stroke="#8a8a8a" stroke-width="0.6" />
<rect x="227.35" y="343.50" width="15.35" height="14.20" fill="#3D55B0" stroke="#8a8a8a" stroke-width="0.6" />
<path d="M235.0 348.3 L235.6 349.8 L237.2 349.9 L236.0 350.9 L236.4 352.5 L235.0 351.6 L233.7 352.5 L234.0 350.9 L232.8 349.9 L234.4 349.8Z" fill="#111" />
<rect x="242.70" y="343.50" width="15.35" height="14.20" fill="#fff" stroke="#8a8a8a" stroke-width="0.6" />
<rect x="258.05" y="343.50" width="15.35" height="14.20" fill="#A9B3DE" stroke="#8a8a8a" stroke-width="0.6" />
<rect x="273.40" y="343.50" width="15.35" height="14.20" fill="#A9B3DE" stroke="#8a8a8a" stroke-width="0.6" />
<rect x="119.90" y="357.70" width="15.35" height="14.20" fill="#A2ADDB" stroke="#8a8a8a" stroke-width="0.6" />
<rect x="135.25" y="357.70" width="15.35" height="14.20" fill="#3D55B0" stroke="#8a8a8a" stroke-width="0.6" />
<path d="M142.9 362.5 L143.5 364.0 L145.1 364.1 L143.9 365.1 L144.3 366.7 L142.9 365.8 L141.6 366.7 L141.9 365.1 L140.7 364.1 L142.3 364.0Z" fill="#111" />
<rect x="150.60" y="357.70" width="15.35" height="14.20" fill="#fff" stroke="#8a8a8a" stroke-width="0.6" />
<rect x="165.95" y="357.70" width="15.35" height="14.20" fill="#5368BA" stroke="#8a8a8a" stroke-width="0.6" />
<path d="M173.6 362.5 L174.2 364.0 L175.8 364.1 L174.6 365.1 L175.0 366.7 L173.6 365.8 L172.3 366.7 L172.6 365.1 L171.4 364.1 L173.0 364.0Z" fill="#111" />
<rect x="181.30" y="357.70" width="15.35" height="14.20" fill="#3D55B0" stroke="#8a8a8a" stroke-width="0.6" />
<path d="M189.0 362.5 L189.6 364.0 L191.2 364.1 L190.0 365.1 L190.3 366.7 L189.0 365.8 L187.6 366.7 L188.0 365.1 L186.8 364.1 L188.4 364.0Z" fill="#111" />
<rect x="196.65" y="357.70" width="15.35" height="14.20" fill="#fff" stroke="#8a8a8a" stroke-width="0.6" />
<rect x="212.00" y="357.70" width="15.35" height="14.20" fill="#3D55B0" stroke="#8a8a8a" stroke-width="0.6" />
<path d="M219.7 362.5 L220.3 364.0 L221.9 364.1 L220.7 365.1 L221.0 366.7 L219.7 365.8 L218.3 366.7 L218.7 365.1 L217.5 364.1 L219.1 364.0Z" fill="#111" />
<rect x="227.35" y="357.70" width="15.35" height="14.20" fill="#3D55B0" stroke="#8a8a8a" stroke-width="0.6" />
<path d="M232.4 362.5 L233.0 364.0 L234.6 364.1 L233.4 365.1 L233.8 366.7 L232.4 365.8 L231.1 366.7 L231.4 365.1 L230.2 364.1 L231.8 364.0Z" fill="#111" />
<path d="M237.6 362.5 L238.2 364.0 L239.8 364.1 L238.6 365.1 L239.0 366.7 L237.6 365.8 L236.3 366.7 L236.6 365.1 L235.4 364.1 L237.0 364.0Z" fill="#111" />
<rect x="242.70" y="357.70" width="15.35" height="14.20" fill="#fff" stroke="#8a8a8a" stroke-width="0.6" />
<rect x="258.05" y="357.70" width="15.35" height="14.20" fill="#7F8ECE" stroke="#8a8a8a" stroke-width="0.6" />
<rect x="273.40" y="357.70" width="15.35" height="14.20" fill="#7486C9" stroke="#8a8a8a" stroke-width="0.6" />
<rect x="119.90" y="371.90" width="15.35" height="14.20" fill="#B4BEE3" stroke="#8a8a8a" stroke-width="0.6" />
<rect x="135.25" y="371.90" width="15.35" height="14.20" fill="#3A52AE" stroke="#8a8a8a" stroke-width="0.6" />
<path d="M140.3 376.7 L140.9 378.2 L142.5 378.3 L141.3 379.3 L141.7 380.9 L140.3 380.0 L139.0 380.9 L139.3 379.3 L138.1 378.3 L139.7 378.2Z" fill="#111" />
<path d="M145.5 376.7 L146.1 378.2 L147.7 378.3 L146.5 379.3 L146.9 380.9 L145.5 380.0 L144.2 380.9 L144.5 379.3 L143.3 378.3 L144.9 378.2Z" fill="#111" />
<rect x="150.60" y="371.90" width="15.35" height="14.20" fill="#fff" stroke="#8a8a8a" stroke-width="0.6" />
<rect x="165.95" y="371.90" width="15.35" height="14.20" fill="#5368BA" stroke="#8a8a8a" stroke-width="0.6" />
<path d="M173.6 376.7 L174.2 378.2 L175.8 378.3 L174.6 379.3 L175.0 380.9 L173.6 380.0 L172.3 380.9 L172.6 379.3 L171.4 378.3 L173.0 378.2Z" fill="#111" />
<rect x="181.30" y="371.90" width="15.35" height="14.20" fill="#4A5FB5" stroke="#8a8a8a" stroke-width="0.6" />
<rect x="196.65" y="371.90" width="15.35" height="14.20" fill="#fff" stroke="#8a8a8a" stroke-width="0.6" />
<rect x="212.00" y="371.90" width="15.35" height="14.20" fill="#8391CE" stroke="#8a8a8a" stroke-width="0.6" />
<rect x="227.35" y="371.90" width="15.35" height="14.20" fill="#3D55B0" stroke="#8a8a8a" stroke-width="0.6" />
<path d="M232.4 376.7 L233.0 378.2 L234.6 378.3 L233.4 379.3 L233.8 380.9 L232.4 380.0 L231.1 380.9 L231.4 379.3 L230.2 378.3 L231.8 378.2Z" fill="#111" />
<path d="M237.6 376.7 L238.2 378.2 L239.8 378.3 L238.6 379.3 L239.0 380.9 L237.6 380.0 L236.3 380.9 L236.6 379.3 L235.4 378.3 L237.0 378.2Z" fill="#111" />
<rect x="242.70" y="371.90" width="15.35" height="14.20" fill="#fff" stroke="#8a8a8a" stroke-width="0.6" />
<rect x="258.05" y="371.90" width="15.35" height="14.20" fill="#5A6EBD" stroke="#8a8a8a" stroke-width="0.6" />
<rect x="273.40" y="371.90" width="15.35" height="14.20" fill="#BAC3E6" stroke="#8a8a8a" stroke-width="0.6" />
<rect x="119.90" y="386.10" width="15.35" height="14.20" fill="#C8CFEA" stroke="#8a8a8a" stroke-width="0.6" />
<rect x="135.25" y="386.10" width="15.35" height="14.20" fill="#E0E4F4" stroke="#8a8a8a" stroke-width="0.6" />
<rect x="150.60" y="386.10" width="15.35" height="14.20" fill="#fff" stroke="#8a8a8a" stroke-width="0.6" />
<rect x="165.95" y="386.10" width="15.35" height="14.20" fill="#3D55B0" stroke="#8a8a8a" stroke-width="0.6" />
<path d="M171.0 390.9 L171.6 392.4 L173.2 392.5 L172.0 393.5 L172.4 395.1 L171.0 394.2 L169.7 395.1 L170.0 393.5 L168.8 392.5 L170.4 392.4Z" fill="#111" />
<path d="M176.2 390.9 L176.8 392.4 L178.4 392.5 L177.2 393.5 L177.6 395.1 L176.2 394.2 L174.9 395.1 L175.2 393.5 L174.0 392.5 L175.6 392.4Z" fill="#111" />
<rect x="181.30" y="386.10" width="15.35" height="14.20" fill="#3D55B0" stroke="#8a8a8a" stroke-width="0.6" />
<path d="M186.4 390.9 L187.0 392.4 L188.6 392.5 L187.4 393.5 L187.7 395.1 L186.4 394.2 L185.0 395.1 L185.4 393.5 L184.2 392.5 L185.8 392.4Z" fill="#111" />
<path d="M191.6 390.9 L192.2 392.4 L193.8 392.5 L192.6 393.5 L192.9 395.1 L191.6 394.2 L190.2 395.1 L190.6 393.5 L189.4 392.5 L191.0 392.4Z" fill="#111" />
<rect x="196.65" y="386.10" width="15.35" height="14.20" fill="#fff" stroke="#8a8a8a" stroke-width="0.6" />
<rect x="212.00" y="386.10" width="15.35" height="14.20" fill="#8593CF" stroke="#8a8a8a" stroke-width="0.6" />
<rect x="227.35" y="386.10" width="15.35" height="14.20" fill="#4A5FB5" stroke="#8a8a8a" stroke-width="0.6" />
<path d="M235.0 390.9 L235.6 392.4 L237.2 392.5 L236.0 393.5 L236.4 395.1 L235.0 394.2 L233.7 395.1 L234.0 393.5 L232.8 392.5 L234.4 392.4Z" fill="#111" />
<rect x="242.70" y="386.10" width="15.35" height="14.20" fill="#fff" stroke="#8a8a8a" stroke-width="0.6" />
<rect x="258.05" y="386.10" width="15.35" height="14.20" fill="#3D55B0" stroke="#8a8a8a" stroke-width="0.6" />
<path d="M263.1 390.9 L263.7 392.4 L265.3 392.5 L264.1 393.5 L264.5 395.1 L263.1 394.2 L261.8 395.1 L262.1 393.5 L260.9 392.5 L262.5 392.4Z" fill="#111" />
<path d="M268.3 390.9 L268.9 392.4 L270.5 392.5 L269.3 393.5 L269.7 395.1 L268.3 394.2 L267.0 395.1 L267.3 393.5 L266.1 392.5 L267.7 392.4Z" fill="#111" />
<rect x="273.40" y="386.10" width="15.35" height="14.20" fill="#8593CF" stroke="#8a8a8a" stroke-width="0.6" />
<rect x="119.90" y="400.30" width="15.35" height="14.20" fill="#5A6EBD" stroke="#8a8a8a" stroke-width="0.6" />
<path d="M127.6 405.1 L128.2 406.6 L129.8 406.7 L128.6 407.7 L128.9 409.3 L127.6 408.4 L126.2 409.3 L126.6 407.7 L125.4 406.7 L127.0 406.6Z" fill="#111" />
<rect x="135.25" y="400.30" width="15.35" height="14.20" fill="#8392CF" stroke="#8a8a8a" stroke-width="0.6" />
<rect x="150.60" y="400.30" width="15.35" height="14.20" fill="#fff" stroke="#8a8a8a" stroke-width="0.6" />
<rect x="165.95" y="400.30" width="15.35" height="14.20" fill="#A2ADDB" stroke="#8a8a8a" stroke-width="0.6" />
<rect x="181.30" y="400.30" width="15.35" height="14.20" fill="#A2ADDB" stroke="#8a8a8a" stroke-width="0.6" />
<rect x="196.65" y="400.30" width="15.35" height="14.20" fill="#fff" stroke="#8a8a8a" stroke-width="0.6" />
<rect x="212.00" y="400.30" width="15.35" height="14.20" fill="#7084C8" stroke="#8a8a8a" stroke-width="0.6" />
<rect x="227.35" y="400.30" width="15.35" height="14.20" fill="#7084C8" stroke="#8a8a8a" stroke-width="0.6" />
<rect x="242.70" y="400.30" width="15.35" height="14.20" fill="#fff" stroke="#8a8a8a" stroke-width="0.6" />
<rect x="258.05" y="400.30" width="15.35" height="14.20" fill="#6D80C6" stroke="#8a8a8a" stroke-width="0.6" />
<rect x="273.40" y="400.30" width="15.35" height="14.20" fill="#EDEFF8" stroke="#8a8a8a" stroke-width="0.6" />
<rect x="119.90" y="414.50" width="15.35" height="14.20" fill="#F28A8E" stroke="#8a8a8a" stroke-width="0.6" />
<rect x="135.25" y="414.50" width="15.35" height="14.20" fill="#E8302E" stroke="#8a8a8a" stroke-width="0.6" />
<path d="M142.9 419.3 L143.5 420.8 L145.1 420.9 L143.9 421.9 L144.3 423.5 L142.9 422.6 L141.6 423.5 L141.9 421.9 L140.7 420.9 L142.3 420.8Z" fill="#111" />
<rect x="150.60" y="414.50" width="15.35" height="14.20" fill="#fff" stroke="#8a8a8a" stroke-width="0.6" />
<rect x="165.95" y="414.50" width="15.35" height="14.20" fill="#EF7173" stroke="#8a8a8a" stroke-width="0.6" />
<rect x="181.30" y="414.50" width="15.35" height="14.20" fill="#EE5C5D" stroke="#8a8a8a" stroke-width="0.6" />
<path d="M189.0 419.3 L189.6 420.8 L191.2 420.9 L190.0 421.9 L190.3 423.5 L189.0 422.6 L187.6 423.5 L188.0 421.9 L186.8 420.9 L188.4 420.8Z" fill="#111" />
<rect x="196.65" y="414.50" width="15.35" height="14.20" fill="#fff" stroke="#8a8a8a" stroke-width="0.6" />
<rect x="212.00" y="414.50" width="15.35" height="14.20" fill="#F28A8E" stroke="#8a8a8a" stroke-width="0.6" />
<rect x="227.35" y="414.50" width="15.35" height="14.20" fill="#E82A2A" stroke="#8a8a8a" stroke-width="0.6" />
<path d="M232.4 419.3 L233.0 420.8 L234.6 420.9 L233.4 421.9 L233.8 423.5 L232.4 422.6 L231.1 423.5 L231.4 421.9 L230.2 420.9 L231.8 420.8Z" fill="#111" />
<path d="M237.6 419.3 L238.2 420.8 L239.8 420.9 L238.6 421.9 L239.0 423.5 L237.6 422.6 L236.3 423.5 L236.6 421.9 L235.4 420.9 L237.0 420.8Z" fill="#111" />
<rect x="242.70" y="414.50" width="15.35" height="14.20" fill="#fff" stroke="#8a8a8a" stroke-width="0.6" />
<rect x="258.05" y="414.50" width="15.35" height="14.20" fill="#E82A2A" stroke="#8a8a8a" stroke-width="0.6" />
<path d="M263.1 419.3 L263.7 420.8 L265.3 420.9 L264.1 421.9 L264.5 423.5 L263.1 422.6 L261.8 423.5 L262.1 421.9 L260.9 420.9 L262.5 420.8Z" fill="#111" />
<path d="M268.3 419.3 L268.9 420.8 L270.5 420.9 L269.3 421.9 L269.7 423.5 L268.3 422.6 L267.0 423.5 L267.3 421.9 L266.1 420.9 L267.7 420.8Z" fill="#111" />
<rect x="273.40" y="414.50" width="15.35" height="14.20" fill="#F29097" stroke="#8a8a8a" stroke-width="0.6" />
<rect x="119.90" y="428.70" width="15.35" height="14.20" fill="#EE5A5A" stroke="#8a8a8a" stroke-width="0.6" />
<path d="M127.6 433.5 L128.2 435.0 L129.8 435.1 L128.6 436.1 L128.9 437.7 L127.6 436.8 L126.2 437.7 L126.6 436.1 L125.4 435.1 L127.0 435.0Z" fill="#111" />
<rect x="135.25" y="428.70" width="15.35" height="14.20" fill="#D8DCF0" stroke="#8a8a8a" stroke-width="0.6" />
<rect x="150.60" y="428.70" width="15.35" height="14.20" fill="#fff" stroke="#8a8a8a" stroke-width="0.6" />
<rect x="165.95" y="428.70" width="15.35" height="14.20" fill="#F7C6C8" stroke="#8a8a8a" stroke-width="0.6" />
<rect x="181.30" y="428.70" width="15.35" height="14.20" fill="#CDD3EC" stroke="#8a8a8a" stroke-width="0.6" />
<rect x="196.65" y="428.70" width="15.35" height="14.20" fill="#fff" stroke="#8a8a8a" stroke-width="0.6" />
<rect x="212.00" y="428.70" width="15.35" height="14.20" fill="#EEF0F8" stroke="#8a8a8a" stroke-width="0.6" />
<rect x="227.35" y="428.70" width="15.35" height="14.20" fill="#DDE1F2" stroke="#8a8a8a" stroke-width="0.6" />
<rect x="242.70" y="428.70" width="15.35" height="14.20" fill="#fff" stroke="#8a8a8a" stroke-width="0.6" />
<rect x="258.05" y="428.70" width="15.35" height="14.20" fill="#F7F8FC" stroke="#8a8a8a" stroke-width="0.6" />
<rect x="273.40" y="428.70" width="15.35" height="14.20" fill="#5369B9" stroke="#8a8a8a" stroke-width="0.6" />
<rect x="119.90" y="442.90" width="15.35" height="14.20" fill="#F49EA2" stroke="#8a8a8a" stroke-width="0.6" />
<rect x="135.25" y="442.90" width="15.35" height="14.20" fill="#C8CFEA" stroke="#8a8a8a" stroke-width="0.6" />
<rect x="150.60" y="442.90" width="15.35" height="14.20" fill="#fff" stroke="#8a8a8a" stroke-width="0.6" />
<rect x="165.95" y="442.90" width="15.35" height="14.20" fill="#F6A8AB" stroke="#8a8a8a" stroke-width="0.6" />
<rect x="181.30" y="442.90" width="15.35" height="14.20" fill="#E82C2A" stroke="#8a8a8a" stroke-width="0.6" />
<path d="M186.4 447.7 L187.0 449.2 L188.6 449.3 L187.4 450.3 L187.7 451.9 L186.4 451.0 L185.0 451.9 L185.4 450.3 L184.2 449.3 L185.8 449.2Z" fill="#111" />
<path d="M191.6 447.7 L192.2 449.2 L193.8 449.3 L192.6 450.3 L192.9 451.9 L191.6 451.0 L190.2 451.9 L190.6 450.3 L189.4 449.3 L191.0 449.2Z" fill="#111" />
<rect x="196.65" y="442.90" width="15.35" height="14.20" fill="#fff" stroke="#8a8a8a" stroke-width="0.6" />
<rect x="212.00" y="442.90" width="15.35" height="14.20" fill="#E3E7F5" stroke="#8a8a8a" stroke-width="0.6" />
<rect x="227.35" y="442.90" width="15.35" height="14.20" fill="#DADFF1" stroke="#8a8a8a" stroke-width="0.6" />
<rect x="242.70" y="442.90" width="15.35" height="14.20" fill="#fff" stroke="#8a8a8a" stroke-width="0.6" />
<rect x="258.05" y="442.90" width="15.35" height="14.20" fill="#FDE3E5" stroke="#8a8a8a" stroke-width="0.6" />
<rect x="273.40" y="442.90" width="15.35" height="14.20" fill="#FEEDEE" stroke="#8a8a8a" stroke-width="0.6" />
<text transform="translate(116.8 353.2) scale(1.065 1)" font-size="7.2" text-anchor="end" >CTNNB1 targets</text>
<text transform="translate(116.8 367.4) scale(1.065 1)" font-size="7.2" text-anchor="end" >TCF7 targets</text>
<text transform="translate(116.8 381.6) scale(1.065 1)" font-size="7.2" text-anchor="end" >STAT6 targets</text>
<text transform="translate(116.8 395.8) scale(1.065 1)" font-size="7.2" text-anchor="end" >DNMT3A targets</text>
<text transform="translate(116.8 410.0) scale(1.065 1)" font-size="7.2" text-anchor="end" >WNT signaling module</text>
<text transform="translate(116.8 424.2) scale(1.065 1)" font-size="7.2" text-anchor="end" >Effector T cell module</text>
<text transform="translate(116.8 438.4) scale(1.065 1)" font-size="7.2" text-anchor="end" >Antiviral module</text>
<text transform="translate(116.8 452.6) scale(1.065 1)" font-size="7.2" text-anchor="end" >ISG module</text>
<text transform="translate(136.8 339.9) scale(1.065 1)" font-size="8" text-anchor="middle" >ISG (C3)</text>
<text transform="translate(180.5 339.9) scale(1.065 1)" font-size="8" text-anchor="middle" >T<tspan font-size="5.5" dy="1.8">EM</tspan><tspan dy="-1.8"> (C1)</tspan></text>
<text transform="translate(226.5 339.9) scale(1.065 1)" font-size="8" text-anchor="middle" >T<tspan font-size="5.5" dy="1.8">CM</tspan><tspan dy="-1.8"> (C2)</tspan></text>
<text transform="translate(274.0 339.9) scale(1.065 1)" font-size="8" text-anchor="middle" >Naive (C0)</text>
<text transform="translate(130.5 467.4) rotate(-90) scale(0.89 1)" font-size="8.2" text-anchor="middle" >D02</text>
<text transform="translate(145.9 467.4) rotate(-90) scale(0.89 1)" font-size="8.2" text-anchor="middle" >D08</text>
<text transform="translate(176.6 467.4) rotate(-90) scale(0.89 1)" font-size="8.2" text-anchor="middle" >D02</text>
<text transform="translate(191.9 467.4) rotate(-90) scale(0.89 1)" font-size="8.2" text-anchor="middle" >D08</text>
<text transform="translate(222.6 467.4) rotate(-90) scale(0.89 1)" font-size="8.2" text-anchor="middle" >D02</text>
<text transform="translate(238.0 467.4) rotate(-90) scale(0.89 1)" font-size="8.2" text-anchor="middle" >D08</text>
<text transform="translate(268.7 467.4) rotate(-90) scale(0.89 1)" font-size="8.2" text-anchor="middle" >D02</text>
<text transform="translate(284.0 467.4) rotate(-90) scale(0.89 1)" font-size="8.2" text-anchor="middle" >D08</text>
<defs><linearGradient id="gd" x1="0" x2="0" y1="0" y2="1"><stop offset="0" stop-color="#E8262A"/><stop offset="0.5" stop-color="#FFFFFF"/><stop offset="1" stop-color="#3A54AE"/></linearGradient></defs>
<rect x="24.00" y="379.40" width="5.40" height="79.60" fill="url(#gd)" />
<text transform="translate(32.5 386.0) scale(1.065 1)" font-size="7" >2</text>
<text transform="translate(32.5 421.9) scale(1.065 1)" font-size="7" >0</text>
<text transform="translate(31.5 458.5) scale(1.065 1)" font-size="7" >−2</text>
<text transform="translate(10.1 420.7) rotate(-90) scale(1.065 1)" font-size="8.4" text-anchor="middle" >Δ module score</text>
<text transform="translate(19.6 419.9) rotate(-90) scale(1.065 1)" font-size="8.3" text-anchor="middle" >(vs C01D01)</text>
<text transform="translate(316.0 222.8) scale(1.065 1)" font-size="11" fill="#000" font-weight="bold" >e</text>
<line x1="367.3" y1="259.0" x2="385.0" y2="295.1" stroke="#000" stroke-width="0.75" />
<line x1="367.3" y1="264.3" x2="385.0" y2="270.0" stroke="#000" stroke-width="0.75" />
<line x1="367.3" y1="268.5" x2="385.0" y2="296.2" stroke="#000" stroke-width="0.75" />
<line x1="367.3" y1="282.4" x2="385.0" y2="298.3" stroke="#000" stroke-width="0.75" />
<line x1="367.3" y1="284.5" x2="385.0" y2="277.1" stroke="#000" stroke-width="0.75" />
<line x1="367.3" y1="286.6" x2="385.0" y2="295.1" stroke="#000" stroke-width="0.75" />
<line x1="367.3" y1="288.8" x2="385.0" y2="296.2" stroke="#000" stroke-width="0.75" />
<line x1="367.3" y1="290.9" x2="385.0" y2="298.3" stroke="#000" stroke-width="0.75" />
<line x1="367.3" y1="293.0" x2="385.0" y2="302.6" stroke="#000" stroke-width="0.75" />
<line x1="367.3" y1="295.1" x2="385.0" y2="307.9" stroke="#000" stroke-width="0.75" />
<line x1="367.3" y1="297.3" x2="385.0" y2="302.6" stroke="#000" stroke-width="0.75" />
<line x1="367.3" y1="299.4" x2="385.0" y2="307.9" stroke="#000" stroke-width="0.75" />
<line x1="367.3" y1="301.5" x2="385.0" y2="298.3" stroke="#000" stroke-width="0.75" />
<line x1="367.3" y1="303.6" x2="385.0" y2="307.9" stroke="#000" stroke-width="0.75" />
<line x1="367.3" y1="282.4" x2="385.0" y2="296.2" stroke="#000" stroke-width="0.75" />
<line x1="385.0" y1="270.0" x2="402.0" y2="277.1" stroke="#000" stroke-width="0.75" />
<line x1="385.0" y1="277.1" x2="402.0" y2="270.0" stroke="#000" stroke-width="0.75" />
<line x1="385.0" y1="295.1" x2="402.0" y2="289.8" stroke="#000" stroke-width="0.75" />
<line x1="385.0" y1="296.2" x2="402.0" y2="291.9" stroke="#000" stroke-width="0.75" />
<line x1="385.0" y1="298.3" x2="402.0" y2="300.5" stroke="#000" stroke-width="0.75" />
<line x1="385.0" y1="302.6" x2="402.0" y2="303.6" stroke="#000" stroke-width="0.75" />
<line x1="385.0" y1="307.9" x2="402.0" y2="304.7" stroke="#000" stroke-width="0.75" />
<line x1="385.0" y1="295.1" x2="402.0" y2="280.2" stroke="#000" stroke-width="0.75" />
<line x1="385.0" y1="296.2" x2="402.0" y2="302.6" stroke="#000" stroke-width="0.75" />
<line x1="385.0" y1="298.5" x2="402.0" y2="298.5" stroke="#000" stroke-width="0.75" />
<line x1="385.0" y1="270.0" x2="402.0" y2="305.8" stroke="#000" stroke-width="0.75" />
<line x1="385.0" y1="302.6" x2="402.0" y2="304.7" stroke="#000" stroke-width="0.75" />
<circle cx="367.3" cy="259.0" r="1.90" fill="#000" />
<circle cx="367.3" cy="264.3" r="1.90" fill="#000" />
<circle cx="367.3" cy="268.5" r="1.90" fill="#000" />
<circle cx="367.3" cy="282.4" r="1.90" fill="#000" />
<circle cx="367.3" cy="284.5" r="1.90" fill="#000" />
<circle cx="367.3" cy="286.6" r="1.90" fill="#000" />
<circle cx="367.3" cy="288.8" r="1.90" fill="#000" />
<circle cx="367.3" cy="290.9" r="1.90" fill="#000" />
<circle cx="367.3" cy="293.0" r="1.90" fill="#000" />
<circle cx="367.3" cy="295.1" r="1.90" fill="#000" />
<circle cx="367.3" cy="297.3" r="1.90" fill="#000" />
<circle cx="367.3" cy="299.4" r="1.90" fill="#000" />
<circle cx="367.3" cy="301.5" r="1.90" fill="#000" />
<circle cx="367.3" cy="303.6" r="1.90" fill="#000" />
<circle cx="385.0" cy="270.0" r="1.90" fill="#22DD22" />
<circle cx="385.0" cy="277.1" r="1.90" fill="#22DD22" />
<circle cx="385.0" cy="295.1" r="1.90" fill="#22DD22" />
<circle cx="385.0" cy="296.2" r="1.90" fill="#22DD22" />
<circle cx="385.0" cy="298.3" r="1.90" fill="#22DD22" />
<circle cx="385.0" cy="302.6" r="1.90" fill="#22DD22" />
<circle cx="385.0" cy="307.9" r="1.90" fill="#22DD22" />
<circle cx="402.0" cy="270.0" r="1.90" fill="#F7941D" />
<circle cx="402.0" cy="277.1" r="1.90" fill="#F7941D" />
<circle cx="402.0" cy="280.2" r="1.90" fill="#F7941D" />
<circle cx="402.0" cy="289.8" r="1.90" fill="#F7941D" />
<circle cx="402.0" cy="291.9" r="1.90" fill="#F7941D" />
<circle cx="402.0" cy="298.3" r="1.90" fill="#F7941D" />
<circle cx="402.0" cy="300.5" r="1.90" fill="#F7941D" />
<circle cx="402.0" cy="302.6" r="1.90" fill="#F7941D" />
<circle cx="402.0" cy="303.6" r="1.90" fill="#F7941D" />
<circle cx="402.0" cy="304.7" r="1.90" fill="#F7941D" />
<circle cx="402.0" cy="305.8" r="1.90" fill="#F7941D" />
<line x1="356.5" y1="234.1" x2="356.5" y2="319.6" stroke="#666" stroke-width="1.0" />
<line x1="355.9" y1="319.5" x2="412.8" y2="319.5" stroke="#666" stroke-width="1.0" />
<line x1="352.6" y1="234.5" x2="356.4" y2="234.5" stroke="#666" stroke-width="0.9" />
<text transform="translate(348.6 237.1) scale(1.065 1)" font-size="7.2" text-anchor="end" >40</text>
<line x1="352.6" y1="255.5" x2="356.4" y2="255.5" stroke="#666" stroke-width="0.9" />
<text transform="translate(348.6 258.4) scale(1.065 1)" font-size="7.2" text-anchor="end" >30</text>
<line x1="352.6" y1="277.5" x2="356.4" y2="277.5" stroke="#666" stroke-width="0.9" />
<text transform="translate(348.6 279.6) scale(1.065 1)" font-size="7.2" text-anchor="end" >20</text>
<line x1="352.6" y1="298.5" x2="356.4" y2="298.5" stroke="#666" stroke-width="0.9" />
<text transform="translate(348.6 300.9) scale(1.065 1)" font-size="7.2" text-anchor="end" >10</text>
<line x1="352.6" y1="319.5" x2="356.4" y2="319.5" stroke="#666" stroke-width="0.9" />
<text transform="translate(348.6 322.2) scale(1.065 1)" font-size="7.2" text-anchor="end" >0</text>
<line x1="367.5" y1="319.6" x2="367.5" y2="321.8" stroke="#231f20" stroke-width="0.8" />
<line x1="385.5" y1="319.6" x2="385.5" y2="321.8" stroke="#231f20" stroke-width="0.8" />
<line x1="402.5" y1="319.6" x2="402.5" y2="321.8" stroke="#231f20" stroke-width="0.8" />
<line x1="369.1" y1="239.5" x2="403.1" y2="239.5" stroke="#333" stroke-width="1.1" />
<text transform="translate(384.2 236.4) scale(1.065 1)" font-size="7.5" text-anchor="middle" >0.03</text>
<line x1="369.1" y1="252.5" x2="384.4" y2="252.5" stroke="#333" stroke-width="1.1" />
<text transform="translate(376.2 251.1) scale(1.065 1)" font-size="7.5" text-anchor="middle" >0.004</text>
<text transform="translate(321.8 274.6) rotate(-90) scale(1.065 1)" font-size="8.3" text-anchor="middle" >T<tspan font-size="5.5" dy="1.5">CM</tspan><tspan dy="-1.5">/T</tspan><tspan font-size="5.5" dy="1.5">TM</tspan></text>
<text transform="translate(332.3 274.6) rotate(-90) scale(1.065 1)" font-size="8.3" text-anchor="middle" >(of total CD8) (%)</text>
<line x1="367.3" y1="361.0" x2="385.0" y2="356.8" stroke="#000" stroke-width="0.75" />
<line x1="367.3" y1="362.6" x2="385.0" y2="354.6" stroke="#000" stroke-width="0.75" />
<line x1="367.3" y1="364.2" x2="385.0" y2="364.8" stroke="#000" stroke-width="0.75" />
<line x1="367.3" y1="365.8" x2="385.0" y2="368.5" stroke="#000" stroke-width="0.75" />
<line x1="367.3" y1="369.6" x2="385.0" y2="368.5" stroke="#000" stroke-width="0.75" />
<line x1="367.3" y1="373.9" x2="385.0" y2="376.0" stroke="#000" stroke-width="0.75" />
<line x1="367.3" y1="380.8" x2="385.0" y2="368.5" stroke="#000" stroke-width="0.75" />
<line x1="367.3" y1="388.3" x2="385.0" y2="382.4" stroke="#000" stroke-width="0.75" />
<line x1="367.3" y1="389.4" x2="385.0" y2="393.1" stroke="#000" stroke-width="0.75" />
<line x1="367.3" y1="396.3" x2="385.0" y2="393.1" stroke="#000" stroke-width="0.75" />
<line x1="367.3" y1="397.9" x2="385.0" y2="382.4" stroke="#000" stroke-width="0.75" />
<line x1="367.3" y1="402.8" x2="385.0" y2="356.8" stroke="#000" stroke-width="0.75" />
<line x1="367.3" y1="388.3" x2="385.0" y2="376.0" stroke="#000" stroke-width="0.75" />
<line x1="385.0" y1="354.6" x2="402.0" y2="362.1" stroke="#000" stroke-width="0.75" />
<line x1="385.0" y1="356.8" x2="402.0" y2="352.5" stroke="#000" stroke-width="0.75" />
<line x1="385.0" y1="364.8" x2="402.0" y2="358.9" stroke="#000" stroke-width="0.75" />
<line x1="385.0" y1="368.5" x2="402.0" y2="354.6" stroke="#000" stroke-width="0.75" />
<line x1="385.0" y1="376.0" x2="402.0" y2="382.4" stroke="#000" stroke-width="0.75" />
<line x1="385.0" y1="382.4" x2="402.0" y2="384.6" stroke="#000" stroke-width="0.75" />
<line x1="385.0" y1="393.1" x2="402.0" y2="391.0" stroke="#000" stroke-width="0.75" />
<line x1="385.0" y1="354.6" x2="402.0" y2="367.5" stroke="#000" stroke-width="0.75" />
<line x1="385.0" y1="364.8" x2="402.0" y2="392.6" stroke="#000" stroke-width="0.75" />
<line x1="385.0" y1="393.1" x2="402.0" y2="402.2" stroke="#000" stroke-width="0.75" />
<line x1="385.0" y1="382.4" x2="402.0" y2="391.0" stroke="#000" stroke-width="0.75" />
<circle cx="367.3" cy="361.0" r="1.90" fill="#000" />
<circle cx="367.3" cy="362.6" r="1.90" fill="#000" />
<circle cx="367.3" cy="364.2" r="1.90" fill="#000" />
<circle cx="367.3" cy="365.8" r="1.90" fill="#000" />
<circle cx="367.3" cy="369.6" r="1.90" fill="#000" />
<circle cx="367.3" cy="373.9" r="1.90" fill="#000" />
<circle cx="367.3" cy="380.8" r="1.90" fill="#000" />
<circle cx="367.3" cy="388.3" r="1.90" fill="#000" />
<circle cx="367.3" cy="389.4" r="1.90" fill="#000" />
<circle cx="367.3" cy="396.3" r="1.90" fill="#000" />
<circle cx="367.3" cy="397.9" r="1.90" fill="#000" />
<circle cx="367.3" cy="402.8" r="1.90" fill="#000" />
<circle cx="385.0" cy="354.6" r="1.90" fill="#22DD22" />
<circle cx="385.0" cy="356.8" r="1.90" fill="#22DD22" />
<circle cx="385.0" cy="364.8" r="1.90" fill="#22DD22" />
<circle cx="385.0" cy="368.5" r="1.90" fill="#22DD22" />
<circle cx="385.0" cy="376.0" r="1.90" fill="#22DD22" />
<circle cx="385.0" cy="382.4" r="1.90" fill="#22DD22" />
<circle cx="385.0" cy="393.1" r="1.90" fill="#22DD22" />
<circle cx="402.0" cy="352.5" r="1.90" fill="#F7941D" />
<circle cx="402.0" cy="354.6" r="1.90" fill="#F7941D" />
<circle cx="402.0" cy="358.9" r="1.90" fill="#F7941D" />
<circle cx="402.0" cy="362.1" r="1.90" fill="#F7941D" />
<circle cx="402.0" cy="367.5" r="1.90" fill="#F7941D" />
<circle cx="402.0" cy="382.4" r="1.90" fill="#F7941D" />
<circle cx="402.0" cy="384.6" r="1.90" fill="#F7941D" />
<circle cx="402.0" cy="391.0" r="1.90" fill="#F7941D" />
<circle cx="402.0" cy="392.6" r="1.90" fill="#F7941D" />
<circle cx="402.0" cy="402.2" r="1.90" fill="#F7941D" />
<line x1="356.5" y1="330.0" x2="356.5" y2="415.6" stroke="#666" stroke-width="1.0" />
<line x1="355.9" y1="415.5" x2="412.8" y2="415.5" stroke="#666" stroke-width="1.0" />
<line x1="352.6" y1="330.5" x2="356.4" y2="330.5" stroke="#666" stroke-width="0.9" />
<text transform="translate(348.6 332.6) scale(1.065 1)" font-size="7.2" text-anchor="end" >80</text>
<line x1="352.6" y1="351.5" x2="356.4" y2="351.5" stroke="#666" stroke-width="0.9" />
<text transform="translate(348.6 354.0) scale(1.065 1)" font-size="7.2" text-anchor="end" >60</text>
<line x1="352.6" y1="372.5" x2="356.4" y2="372.5" stroke="#666" stroke-width="0.9" />
<text transform="translate(348.6 375.4) scale(1.065 1)" font-size="7.2" text-anchor="end" >40</text>
<line x1="352.6" y1="394.5" x2="356.4" y2="394.5" stroke="#666" stroke-width="0.9" />
<text transform="translate(348.6 396.8) scale(1.065 1)" font-size="7.2" text-anchor="end" >20</text>
<line x1="352.6" y1="415.5" x2="356.4" y2="415.5" stroke="#666" stroke-width="0.9" />
<text transform="translate(348.6 418.2) scale(1.065 1)" font-size="7.2" text-anchor="end" >0</text>
<line x1="367.5" y1="415.6" x2="367.5" y2="417.8" stroke="#231f20" stroke-width="0.8" />
<line x1="385.5" y1="415.6" x2="385.5" y2="417.8" stroke="#231f20" stroke-width="0.8" />
<line x1="402.5" y1="415.6" x2="402.5" y2="417.8" stroke="#231f20" stroke-width="0.8" />
<line x1="365.9" y1="343.5" x2="382.3" y2="343.5" stroke="#333" stroke-width="1.1" />
<text transform="translate(373.8 340.8) scale(1.065 1)" font-size="7.5" text-anchor="middle" >0.04</text>
<text transform="translate(320.2 374.6) rotate(-90) scale(1.065 1)" font-size="8.3" text-anchor="middle" >T<tspan font-size="5.5" dy="1.5">EMRA</tspan></text>
<text transform="translate(331.5 374.6) rotate(-90) scale(1.065 1)" font-size="8.3" text-anchor="middle" >(of total CD8) (%)</text>
<circle cx="337.7" cy="426.3" r="1.80" fill="#000" />
<text transform="translate(342.7 428.8) scale(1.0474568021416402 1)" font-size="7.0" >C01D01</text>
<circle cx="337.7" cy="437.3" r="1.80" fill="#5DC34C" />
<text transform="translate(342.7 439.8) scale(1.0474568021416402 1)" font-size="7.0" >C01D02</text>
<circle cx="337.7" cy="447.6" r="1.80" fill="#F7A24B" />
<text transform="translate(342.7 450.1) scale(1.0474568021416402 1)" font-size="7.0" >C01D08</text>
<text transform="translate(432.5 221.9) scale(1.065 1)" font-size="11" fill="#000" font-weight="bold" >f</text>
<rect x="451.80" y="222.30" width="64.60" height="65.10" fill="none" stroke="#bbb" stroke-width="0.6" />
<rect x="474.20" y="235.20" width="29.30" height="34.30" fill="none" stroke="#333" stroke-width="0.7" />
<path d="M494.3 251.7h0M496.4 258.2h0M482.7 263.0h0M484.0 260.7h0M497.2 261.2h0M487.8 267.5h0M488.0 254.5h0M492.3 267.5h0M489.4 270.1h0M489.6 261.3h0M484.0 257.4h0M488.3 259.7h0M497.4 252.9h0M490.7 270.7h0M488.7 263.2h0M489.6 269.8h0M491.9 262.5h0M495.0 261.7h0M490.2 260.5h0M491.3 266.3h0M488.2 270.2h0M478.8 265.2h0M489.6 254.8h0M486.8 270.8h0M485.5 267.6h0M490.1 268.8h0M487.6 263.3h0M491.6 265.9h0M491.7 269.7h0M493.5 270.3h0M495.6 251.5h0M494.6 253.5h0M483.6 256.8h0M489.9 268.6h0M499.2 268.6h0M483.6 262.4h0M482.9 259.1h0M480.7 265.7h0M485.8 250.5h0M497.0 260.7h0M486.6 255.4h0M496.5 270.1h0M494.0 267.2h0M491.6 263.4h0M492.4 241.8h0M492.6 255.8h0M487.9 270.8h0M496.2 265.0h0M491.2 256.1h0M492.7 269.4h0M492.8 263.2h0M488.2 256.7h0M489.6 266.3h0M486.0 258.3h0M485.1 251.3h0M495.8 262.5h0M483.3 267.1h0M486.7 259.8h0M490.0 253.5h0M490.5 255.0h0M499.6 269.4h0M495.3 259.6h0M493.5 257.2h0M493.3 264.7h0M494.8 269.4h0M492.1 251.4h0M500.0 259.4h0M491.8 270.0h0M495.1 262.3h0M492.1 259.6h0M485.4 261.1h0M483.9 266.0h0M485.3 265.3h0M493.7 262.8h0M490.3 261.4h0M483.4 257.1h0M497.4 270.0h0M496.2 259.0h0M490.2 265.4h0M489.4 250.8h0M493.4 245.1h0M488.8 257.0h0M483.9 270.3h0M483.6 252.0h0M482.9 262.1h0M494.8 265.4h0M490.4 269.9h0M486.4 269.1h0M493.6 248.1h0M482.9 259.0h0M492.9 270.1h0M494.7 262.4h0M494.6 269.7h0M486.0 269.8h0M488.4 261.4h0M478.1 258.2h0M480.1 264.3h0M489.3 267.8h0M494.0 262.3h0M477.6 266.1h0M484.9 256.1h0M480.6 269.9h0M490.3 265.8h0M495.2 249.5h0M484.8 253.7h0M500.1 269.7h0M483.0 252.1h0M491.2 267.7h0M491.3 254.6h0M494.1 263.2h0M497.2 265.6h0M502.0 271.0h0M494.5 266.3h0M487.8 258.3h0M489.9 250.0h0M488.6 267.4h0M487.9 260.6h0M489.0 269.2h0M494.5 270.6h0M502.1 250.2h0M492.9 269.3h0M494.6 266.3h0M500.5 267.4h0M494.7 251.5h0M488.1 263.0h0M486.3 270.0h0M492.6 266.4h0M493.4 246.2h0M499.3 264.2h0M496.0 267.1h0M484.9 262.1h0M494.3 268.7h0M490.8 262.3h0M486.5 262.8h0M492.3 250.6h0M484.2 266.8h0M494.0 266.4h0M494.1 265.4h0M490.8 264.0h0M486.7 258.4h0M496.3 259.7h0M489.1 256.1h0M490.8 267.4h0M485.1 261.9h0M482.4 270.8h0M485.9 255.5h0M493.9 260.1h0M482.9 265.0h0M477.1 269.3h0M491.5 261.6h0M494.8 268.2h0M488.3 266.1h0M488.8 259.4h0M485.2 260.3h0M484.8 263.9h0M491.3 258.8h0M488.6 263.0h0M487.0 266.4h0M486.7 268.7h0M484.9 265.9h0M492.3 262.7h0M485.4 268.3h0M490.6 259.8h0M489.2 268.4h0M479.6 267.8h0M490.7 267.3h0M489.2 267.1h0M500.3 267.9h0M486.0 270.9h0M484.0 268.8h0M496.8 264.0h0M496.9 263.4h0M486.2 256.7h0M486.5 270.9h0M482.1 267.2h0M490.0 269.0h0M485.6 263.5h0M491.4 268.9h0M492.2 253.9h0M483.0 256.1h0M486.3 258.9h0M492.4 257.1h0M482.3 262.9h0M493.2 264.0h0M485.8 264.1h0M491.4 265.7h0M498.3 264.6h0M492.5 260.6h0M487.9 262.9h0M493.8 267.1h0M487.7 270.9h0M494.5 267.2h0M494.0 262.5h0M496.6 261.5h0M494.7 263.5h0M498.6 262.9h0M483.1 268.5h0M479.1 266.0h0M485.5 270.6h0M488.0 260.1h0M495.4 262.4h0M484.8 260.1h0M493.8 251.3h0M493.4 270.4h0M483.4 263.8h0M493.1 266.1h0M489.2 268.6h0M491.6 258.3h0M490.5 265.7h0M490.8 264.8h0M496.7 255.2h0M488.5 255.7h0M490.6 255.9h0M489.4 243.6h0M489.9 245.1h0M480.4 264.0h0M489.6 257.3h0M492.0 256.8h0M497.4 262.9h0M493.1 267.4h0M484.8 270.3h0M488.5 270.6h0M482.7 264.3h0M486.2 254.4h0M485.0 262.6h0M494.5 248.3h0M483.6 263.7h0M479.0 263.9h0M493.9 265.9h0M489.5 265.1h0M491.1 268.0h0M493.8 256.6h0M496.1 256.2h0M485.2 257.8h0M483.9 251.9h0M488.3 255.7h0M498.8 263.4h0M485.7 250.8h0M489.9 266.7h0M482.4 263.4h0M496.7 262.3h0M487.6 263.7h0M497.2 253.7h0M484.1 270.9h0M497.7 261.6h0M489.7 269.9h0M484.1 265.0h0M491.2 251.1h0M492.7 261.6h0M487.5 266.8h0M485.6 257.9h0M485.4 269.8h0M495.9 270.9h0M488.6 258.2h0M483.0 248.6h0M493.0 263.8h0M495.5 268.1h0M491.0 262.5h0M492.6 256.9h0M488.8 270.1h0M498.1 259.1h0M492.5 260.0h0M490.2 267.7h0M483.2 238.2h0M495.7 262.2h0M496.5 267.7h0M490.0 251.0h0M491.6 266.8h0M496.3 262.2h0M498.7 266.9h0M492.9 268.3h0M485.2 264.0h0M491.7 251.5h0M487.1 264.7h0M485.7 270.0h0M486.2 269.0h0M498.4 262.6h0M497.8 268.9h0M481.2 260.3h0M482.3 265.3h0M492.5 263.4h0M497.5 260.3h0M499.8 265.9h0M484.8 268.1h0M488.2 252.4h0M482.0 266.3h0M491.1 255.9h0M489.5 266.1h0M496.1 256.5h0M491.0 267.4h0M487.9 252.1h0M486.4 268.8h0M496.2 269.6h0M491.5 265.8h0M495.1 260.1h0M495.2 269.8h0M481.9 269.1h0M496.5 270.4h0M488.9 257.3h0M491.7 256.0h0M490.7 254.4h0M481.9 267.0h0M494.5 267.0h0M486.9 265.5h0M487.5 262.9h0M486.8 249.2h0M492.3 257.8h0M502.9 262.1h0M491.0 265.3h0M484.9 266.3h0M495.9 267.5h0M482.5 269.0h0M480.7 260.2h0M492.5 264.5h0M491.7 245.6h0M493.2 267.1h0M479.5 262.9h0M491.7 270.3h0M490.7 258.3h0M479.5 268.8h0M493.3 268.1h0M487.3 260.6h0M490.1 270.1h0M491.4 245.5h0M482.2 269.1h0M493.0 254.6h0M489.1 263.9h0M480.0 256.9h0M483.6 248.9h0M492.2 261.5h0" stroke="#2F4FB5" stroke-width="0.75" stroke-linecap="round" fill="none" opacity="0.9"/>
<defs><radialGradient id="gf" cx="0.62" cy="0.5" r="0.55"><stop offset="0" stop-color="#E2261C"/><stop offset="0.18" stop-color="#F0B020"/><stop offset="0.38" stop-color="#7CC850"/><stop offset="0.6" stop-color="#24A8D8"/><stop offset="0.85" stop-color="#2A5CC8"/><stop offset="1" stop-color="#2A50C0" stop-opacity="0.8"/></radialGradient></defs>
<rect x="477.8" y="270.6" width="28.2" height="6.6" rx="3.2" fill="url(#gf)"/>
<line x1="451.8" y1="230.0" x2="453.2" y2="230.0" stroke="#666" stroke-width="0.5" />
<line x1="451.8" y1="240.0" x2="453.2" y2="240.0" stroke="#666" stroke-width="0.5" />
<line x1="451.8" y1="250.0" x2="453.2" y2="250.0" stroke="#666" stroke-width="0.5" />
<line x1="451.8" y1="260.0" x2="453.2" y2="260.0" stroke="#666" stroke-width="0.5" />
<line x1="451.8" y1="270.0" x2="453.2" y2="270.0" stroke="#666" stroke-width="0.5" />
<line x1="451.8" y1="280.0" x2="453.2" y2="280.0" stroke="#666" stroke-width="0.5" />
<line x1="456.0" y1="287.4" x2="456.0" y2="286.0" stroke="#666" stroke-width="0.5" />
<line x1="463.5" y1="287.4" x2="463.5" y2="286.0" stroke="#666" stroke-width="0.5" />
<line x1="471.0" y1="287.4" x2="471.0" y2="286.0" stroke="#666" stroke-width="0.5" />
<line x1="478.5" y1="287.4" x2="478.5" y2="286.0" stroke="#666" stroke-width="0.5" />
<line x1="486.0" y1="287.4" x2="486.0" y2="286.0" stroke="#666" stroke-width="0.5" />
<line x1="493.5" y1="287.4" x2="493.5" y2="286.0" stroke="#666" stroke-width="0.5" />
<line x1="501.0" y1="287.4" x2="501.0" y2="286.0" stroke="#666" stroke-width="0.5" />
<line x1="508.5" y1="287.4" x2="508.5" y2="286.0" stroke="#666" stroke-width="0.5" />
<line x1="529.3" y1="230.0" x2="530.7" y2="230.0" stroke="#666" stroke-width="0.5" />
<line x1="529.3" y1="240.0" x2="530.7" y2="240.0" stroke="#666" stroke-width="0.5" />
<line x1="529.3" y1="250.0" x2="530.7" y2="250.0" stroke="#666" stroke-width="0.5" />
<line x1="529.3" y1="260.0" x2="530.7" y2="260.0" stroke="#666" stroke-width="0.5" />
<line x1="529.3" y1="270.0" x2="530.7" y2="270.0" stroke="#666" stroke-width="0.5" />
<line x1="529.3" y1="280.0" x2="530.7" y2="280.0" stroke="#666" stroke-width="0.5" />
<line x1="534.0" y1="286.4" x2="534.0" y2="285.0" stroke="#666" stroke-width="0.5" />
<line x1="541.5" y1="286.4" x2="541.5" y2="285.0" stroke="#666" stroke-width="0.5" />
<line x1="549.0" y1="286.4" x2="549.0" y2="285.0" stroke="#666" stroke-width="0.5" />
<line x1="556.5" y1="286.4" x2="556.5" y2="285.0" stroke="#666" stroke-width="0.5" />
<line x1="564.0" y1="286.4" x2="564.0" y2="285.0" stroke="#666" stroke-width="0.5" />
<line x1="571.5" y1="286.4" x2="571.5" y2="285.0" stroke="#666" stroke-width="0.5" />
<line x1="579.0" y1="286.4" x2="579.0" y2="285.0" stroke="#666" stroke-width="0.5" />
<line x1="586.5" y1="286.4" x2="586.5" y2="285.0" stroke="#666" stroke-width="0.5" />
<text transform="translate(445.3 263.3) rotate(-90) scale(1.065 1)" font-size="8" text-anchor="middle" >IFNγ BB700</text>
<text transform="translate(451.1 298.5) scale(1.065 1)" font-size="8" >CD8 BUV737</text>
<rect x="529.30" y="222.30" width="65.70" height="64.10" fill="none" stroke="#bbb" stroke-width="0.6" />
<rect x="565.30" y="248.40" width="25.30" height="36.70" fill="none" stroke="#333" stroke-width="0.7" />
<path d="M545.3 279.1h0M554.7 273.9h0M550.4 279.6h0M545.2 276.5h0M551.1 276.5h0M548.6 278.4h0M548.1 274.3h0M562.6 276.6h0M549.7 278.2h0M541.1 276.0h0M551.6 279.2h0M550.9 273.4h0M557.6 275.7h0M557.1 276.2h0M546.4 277.4h0M550.3 280.3h0M549.9 276.2h0M547.8 273.8h0M553.6 276.8h0M549.7 275.3h0M540.8 280.0h0M550.9 275.1h0M554.6 274.0h0M550.9 276.8h0M553.4 280.0h0M548.9 276.4h0M557.1 274.7h0M548.4 275.1h0M551.9 274.6h0M555.1 275.7h0M551.0 273.4h0M550.2 274.7h0M545.2 276.6h0M545.1 275.8h0M551.5 276.1h0M551.0 275.7h0M551.3 276.8h0M555.6 277.4h0M544.8 272.4h0M550.1 275.8h0M548.5 279.0h0M543.4 275.0h0M553.1 273.6h0M547.2 281.1h0M560.6 278.2h0M551.4 275.7h0M553.2 279.6h0M546.3 279.5h0M554.2 274.1h0M546.4 280.7h0M543.1 276.6h0M549.7 275.9h0M552.0 278.9h0M551.8 274.0h0M543.4 274.3h0M547.1 274.1h0M546.6 275.0h0M549.4 271.6h0M552.5 276.9h0M550.4 279.6h0M547.8 269.3h0M549.4 277.8h0M544.2 278.3h0M553.6 270.5h0M550.2 281.2h0M547.1 277.4h0M546.8 277.8h0M549.8 275.7h0M550.3 278.9h0M551.0 280.5h0M547.7 281.9h0M545.4 279.7h0M546.8 273.9h0M555.4 276.3h0M553.2 276.3h0M541.5 275.3h0M544.1 277.7h0M556.2 277.6h0M554.7 278.4h0M554.6 278.6h0" stroke="#3A5FC0" stroke-width="0.9" stroke-linecap="round" fill="none" opacity="0.9"/>
<path d="M552.6 277.9h0M552.3 278.7h0M551.7 278.2h0M549.6 280.0h0M550.5 278.1h0M546.6 277.6h0M552.2 280.2h0M550.2 276.4h0M553.7 277.7h0M548.4 275.2h0M549.9 277.1h0M542.7 277.1h0M551.3 278.4h0M549.0 274.0h0M549.7 279.1h0M551.6 277.1h0M546.9 278.2h0M546.0 278.4h0M552.5 278.3h0M551.8 276.9h0M547.4 276.9h0M548.4 277.1h0M547.2 277.9h0M552.2 278.3h0M552.2 277.4h0" stroke="#F0A040" stroke-width="0.9" stroke-linecap="round" fill="none" opacity="0.9"/>
<path d="M577.1 275.4h0M571.1 265.1h0M571.5 279.5h0M574.7 264.3h0M581.1 266.4h0M573.5 272.3h0M575.2 257.9h0M575.5 278.1h0M570.6 262.9h0M580.3 263.9h0M574.1 265.6h0M582.0 256.3h0M572.2 276.4h0M577.8 279.1h0M547.0 256.5h0" stroke="#3A5FC0" stroke-width="0.8" stroke-linecap="round" fill="none" opacity="0.9"/>
<text transform="translate(525.2 264.0) rotate(-90) scale(1.065 1)" font-size="8" text-anchor="middle" >Side scatter</text>
<text transform="translate(531.3 298.5) scale(1.065 1)" font-size="8" >Ki67 BV570</text>
<line x1="484.5" y1="313.6" x2="484.5" y2="420.9" stroke="#777" stroke-width="1.0" />
<line x1="484.4" y1="420.5" x2="592.0" y2="420.5" stroke="#555" stroke-width="1.0" />
<line x1="480.2" y1="313.5" x2="484.7" y2="313.5" stroke="#231f20" stroke-width="0.8" />
<text transform="translate(476.1 316.7) scale(1.065 1)" font-size="8.4" text-anchor="end" >0.25</text>
<line x1="480.2" y1="335.5" x2="484.7" y2="335.5" stroke="#231f20" stroke-width="0.8" />
<text transform="translate(476.1 337.7) scale(1.065 1)" font-size="7.2" text-anchor="end" >0.20</text>
<line x1="480.2" y1="356.5" x2="484.7" y2="356.5" stroke="#231f20" stroke-width="0.8" />
<text transform="translate(476.1 359.2) scale(1.065 1)" font-size="7.2" text-anchor="end" >0.15</text>
<line x1="480.2" y1="378.5" x2="484.7" y2="378.5" stroke="#231f20" stroke-width="0.8" />
<text transform="translate(476.1 380.6) scale(1.065 1)" font-size="7.2" text-anchor="end" >0.10</text>
<line x1="480.2" y1="399.5" x2="484.7" y2="399.5" stroke="#231f20" stroke-width="0.8" />
<text transform="translate(476.1 402.1) scale(1.065 1)" font-size="7.2" text-anchor="end" >0.05</text>
<line x1="480.2" y1="420.5" x2="484.7" y2="420.5" stroke="#231f20" stroke-width="0.8" />
<text transform="translate(476.1 423.5) scale(1.065 1)" font-size="7.2" text-anchor="end" >0</text>
<rect x="501.90" y="412.70" width="8.90" height="8.20" fill="#D4D4D4" stroke="#111" stroke-width="0.7" />
<rect x="540.10" y="390.10" width="8.90" height="30.80" fill="#D4D4D4" stroke="#111" stroke-width="0.7" />
<rect x="578.80" y="409.10" width="8.90" height="11.80" fill="#D4D4D4" stroke="#111" stroke-width="0.7" />
<circle cx="490.2" cy="415.8" r="1.90" fill="#3A58B8" />
<circle cx="492.0" cy="417.5" r="1.90" fill="#3A58B8" />
<circle cx="493.8" cy="418.8" r="1.90" fill="#3A58B8" />
<circle cx="495.6" cy="419.6" r="1.90" fill="#3A58B8" />
<circle cx="491.1" cy="420.0" r="1.90" fill="#3A58B8" />
<circle cx="492.9" cy="420.9" r="1.90" fill="#3A58B8" />
<circle cx="494.7" cy="420.9" r="1.90" fill="#3A58B8" />
<circle cx="503.5" cy="385.3" r="1.90" fill="#E8302A" />
<circle cx="505.3" cy="405.9" r="1.90" fill="#E8302A" />
<circle cx="507.1" cy="408.0" r="1.90" fill="#E8302A" />
<circle cx="508.9" cy="408.9" r="1.90" fill="#E8302A" />
<circle cx="504.4" cy="410.2" r="1.90" fill="#E8302A" />
<circle cx="506.2" cy="412.3" r="1.90" fill="#E8302A" />
<circle cx="508.0" cy="413.2" r="1.90" fill="#E8302A" />
<circle cx="503.5" cy="418.8" r="1.90" fill="#E8302A" />
<circle cx="505.3" cy="419.6" r="1.90" fill="#E8302A" />
<circle cx="507.1" cy="420.9" r="1.90" fill="#E8302A" />
<circle cx="529.6" cy="405.0" r="1.90" fill="#3A58B8" />
<circle cx="531.4" cy="408.0" r="1.90" fill="#3A58B8" />
<circle cx="533.2" cy="412.3" r="1.90" fill="#3A58B8" />
<circle cx="535.0" cy="420.9" r="1.90" fill="#3A58B8" />
<circle cx="530.5" cy="420.9" r="1.90" fill="#3A58B8" />
<circle cx="532.3" cy="420.9" r="1.90" fill="#3A58B8" />
<circle cx="542.1" cy="369.4" r="1.90" fill="#E8302A" />
<circle cx="543.9" cy="373.7" r="1.90" fill="#E8302A" />
<circle cx="545.7" cy="378.0" r="1.90" fill="#E8302A" />
<circle cx="547.5" cy="390.9" r="1.90" fill="#E8302A" />
<circle cx="543.0" cy="391.7" r="1.90" fill="#E8302A" />
<circle cx="544.8" cy="412.3" r="1.90" fill="#E8302A" />
<circle cx="546.6" cy="414.5" r="1.90" fill="#E8302A" />
<circle cx="567.8" cy="416.6" r="1.90" fill="#3A58B8" />
<circle cx="569.6" cy="418.8" r="1.90" fill="#3A58B8" />
<circle cx="571.4" cy="419.6" r="1.90" fill="#3A58B8" />
<circle cx="573.2" cy="420.0" r="1.90" fill="#3A58B8" />
<circle cx="568.7" cy="420.9" r="1.90" fill="#3A58B8" />
<circle cx="580.3" cy="335.1" r="1.90" fill="#E8302A" />
<circle cx="582.1" cy="369.4" r="1.90" fill="#E8302A" />
<circle cx="583.9" cy="400.3" r="1.90" fill="#E8302A" />
<circle cx="585.7" cy="403.7" r="1.90" fill="#E8302A" />
<circle cx="581.2" cy="408.0" r="1.90" fill="#E8302A" />
<circle cx="583.0" cy="414.5" r="1.90" fill="#E8302A" />
<circle cx="584.8" cy="415.8" r="1.90" fill="#E8302A" />
<circle cx="580.3" cy="416.6" r="1.90" fill="#E8302A" />
<path d="M506.2 376.9 V322.2 H544.8 V366.2" fill="none" stroke="#111" stroke-width="0.8"/>
<text transform="translate(525.1 318.7) scale(1.065 1)" font-size="7.2" text-anchor="middle" >0.0262</text>
<line x1="492.5" y1="420.9" x2="492.5" y2="423.0" stroke="#231f20" stroke-width="0.8" />
<text transform="translate(492.9 433.0) scale(1.065 1)" font-size="7" text-anchor="middle" >−</text>
<line x1="506.5" y1="420.9" x2="506.5" y2="423.0" stroke="#231f20" stroke-width="0.8" />
<text transform="translate(506.2 433.0) scale(1.065 1)" font-size="7" text-anchor="middle" >+</text>
<line x1="532.5" y1="420.9" x2="532.5" y2="423.0" stroke="#231f20" stroke-width="0.8" />
<text transform="translate(532.3 433.0) scale(1.065 1)" font-size="7" text-anchor="middle" >−</text>
<line x1="544.5" y1="420.9" x2="544.5" y2="423.0" stroke="#231f20" stroke-width="0.8" />
<text transform="translate(544.8 433.0) scale(1.065 1)" font-size="7" text-anchor="middle" >+</text>
<line x1="570.5" y1="420.9" x2="570.5" y2="423.0" stroke="#231f20" stroke-width="0.8" />
<text transform="translate(570.5 433.0) scale(1.065 1)" font-size="7" text-anchor="middle" >−</text>
<line x1="583.5" y1="420.9" x2="583.5" y2="423.0" stroke="#231f20" stroke-width="0.8" />
<text transform="translate(583.0 433.0) scale(1.065 1)" font-size="7" text-anchor="middle" >+</text>
<text transform="translate(499.0 441.8) scale(1.065 1)" font-size="8.2" text-anchor="middle" >D01</text>
<text transform="translate(539.4 441.8) scale(1.065 1)" font-size="8.2" text-anchor="middle" >D02</text>
<text transform="translate(577.7 441.8) scale(1.065 1)" font-size="8.2" text-anchor="middle" >D08</text>
<text transform="translate(443.5 369.5) rotate(-90) scale(1.065 1)" font-size="7.8" text-anchor="middle" >IFNγ<tspan font-size="5" dy="-3">+</tspan><tspan dy="3">Ki67</tspan><tspan font-size="5" dy="-3">+</tspan></text>
<text transform="translate(453.0 365.4) rotate(-90) scale(1.065 1)" font-size="7.6" text-anchor="middle" >(of total CD8 T cells) (%)</text>
<circle cx="482.2" cy="452.0" r="1.90" fill="#3A58B8" />
<text transform="translate(487.2 454.6) scale(1.065 1)" font-size="7.2" >Unstimulated</text>
<circle cx="482.2" cy="462.0" r="1.90" fill="#E8302A" />
<text transform="translate(487.2 464.6) scale(1.065 1)" font-size="7.2" >HIV Gag peptide pool stimulated</text>
<text transform="translate(2.5 501.4) scale(1.065 1)" font-size="11" fill="#000" font-weight="bold" >g</text>
<text transform="translate(54.0 505.3) scale(1.065 1)" font-size="8.4" text-anchor="middle" >Ligands</text>
<text transform="translate(40.3 532.7) rotate(-90) scale(0.92 1)" font-size="8.4" >TNF</text>
<text transform="translate(49.0 532.7) rotate(-90) scale(0.92 1)" font-size="8.4" >IL-6</text>
<text transform="translate(57.8 532.7) rotate(-90) scale(0.92 1)" font-size="8.4" >IFNγ</text>
<text transform="translate(66.5 532.7) rotate(-90) scale(0.92 1)" font-size="8.4" >IFNβ1</text>
<rect x="32.90" y="535.00" width="8.75" height="12.80" fill="#F2F2F2" stroke="#fff" stroke-width="0.4" />
<rect x="41.65" y="535.00" width="8.75" height="12.80" fill="#FDD9BE" stroke="#fff" stroke-width="0.4" />
<rect x="50.40" y="535.00" width="8.75" height="12.80" fill="#F9AE6E" stroke="#fff" stroke-width="0.4" />
<rect x="59.15" y="535.00" width="8.75" height="12.80" fill="#F48A2A" stroke="#fff" stroke-width="0.4" />
<rect x="32.90" y="557.30" width="8.75" height="7.31" fill="#D7B9DF" stroke="#fff" stroke-width="0.4" />
<rect x="41.65" y="557.30" width="8.75" height="7.31" fill="#F3F3F3" stroke="#fff" stroke-width="0.4" />
<rect x="50.40" y="557.30" width="8.75" height="7.31" fill="#D4B0DC" stroke="#fff" stroke-width="0.4" />
<rect x="59.15" y="557.30" width="8.75" height="7.31" fill="#C8A0D2" stroke="#fff" stroke-width="0.4" />
<text transform="translate(70.5 563.3) scale(1.065 1)" font-size="6.6" >B2M</text>
<rect x="32.90" y="564.61" width="8.75" height="7.31" fill="#F3F3F3" stroke="#fff" stroke-width="0.4" />
<rect x="41.65" y="564.61" width="8.75" height="7.31" fill="#E6D2EA" stroke="#fff" stroke-width="0.4" />
<rect x="50.40" y="564.61" width="8.75" height="7.31" fill="#E4CFE8" stroke="#fff" stroke-width="0.4" />
<rect x="59.15" y="564.61" width="8.75" height="7.31" fill="#E4CFE8" stroke="#fff" stroke-width="0.4" />
<text transform="translate(70.5 570.6) scale(1.065 1)" font-size="6.6" >BTG2</text>
<rect x="32.90" y="571.92" width="8.75" height="7.31" fill="#F3F3F3" stroke="#fff" stroke-width="0.4" />
<rect x="41.65" y="571.92" width="8.75" height="7.31" fill="#F3F3F3" stroke="#fff" stroke-width="0.4" />
<rect x="50.40" y="571.92" width="8.75" height="7.31" fill="#D0AAD8" stroke="#fff" stroke-width="0.4" />
<rect x="59.15" y="571.92" width="8.75" height="7.31" fill="#E4CFE8" stroke="#fff" stroke-width="0.4" />
<text transform="translate(70.5 578.0) scale(1.065 1)" font-size="6.6" >CD74</text>
<rect x="32.90" y="579.23" width="8.75" height="7.31" fill="#E6D2EA" stroke="#fff" stroke-width="0.4" />
<rect x="41.65" y="579.23" width="8.75" height="7.31" fill="#E6D2EA" stroke="#fff" stroke-width="0.4" />
<rect x="50.40" y="579.23" width="8.75" height="7.31" fill="#E0C8E6" stroke="#fff" stroke-width="0.4" />
<rect x="59.15" y="579.23" width="8.75" height="7.31" fill="#E0C8E6" stroke="#fff" stroke-width="0.4" />
<text transform="translate(70.5 585.3) scale(1.065 1)" font-size="6.6" >CLIC1</text>
<rect x="32.90" y="586.54" width="8.75" height="7.31" fill="#F3F3F3" stroke="#fff" stroke-width="0.4" />
<rect x="41.65" y="586.54" width="8.75" height="7.31" fill="#F3F3F3" stroke="#fff" stroke-width="0.4" />
<rect x="50.40" y="586.54" width="8.75" height="7.31" fill="#E6D2EA" stroke="#fff" stroke-width="0.4" />
<rect x="59.15" y="586.54" width="8.75" height="7.31" fill="#F3F3F3" stroke="#fff" stroke-width="0.4" />
<text transform="translate(70.5 592.6) scale(1.065 1)" font-size="6.6" >CYLD</text>
<rect x="32.90" y="593.85" width="8.75" height="7.31" fill="#D4B0DC" stroke="#fff" stroke-width="0.4" />
<rect x="41.65" y="593.85" width="8.75" height="7.31" fill="#F3F3F3" stroke="#fff" stroke-width="0.4" />
<rect x="50.40" y="593.85" width="8.75" height="7.31" fill="#F3F3F3" stroke="#fff" stroke-width="0.4" />
<rect x="59.15" y="593.85" width="8.75" height="7.31" fill="#F3F3F3" stroke="#fff" stroke-width="0.4" />
<text transform="translate(70.5 599.9) scale(1.065 1)" font-size="6.6" >GZMB</text>
<rect x="32.90" y="601.16" width="8.75" height="7.31" fill="#F3F3F3" stroke="#fff" stroke-width="0.4" />
<rect x="41.65" y="601.16" width="8.75" height="7.31" fill="#F3F3F3" stroke="#fff" stroke-width="0.4" />
<rect x="50.40" y="601.16" width="8.75" height="7.31" fill="#D4B0DC" stroke="#fff" stroke-width="0.4" />
<rect x="59.15" y="601.16" width="8.75" height="7.31" fill="#E4CFE8" stroke="#fff" stroke-width="0.4" />
<text transform="translate(70.5 607.2) scale(1.065 1)" font-size="6.6" >HLA.A</text>
<rect x="32.90" y="608.47" width="8.75" height="7.31" fill="#A872B8" stroke="#fff" stroke-width="0.4" />
<rect x="41.65" y="608.47" width="8.75" height="7.31" fill="#F3F3F3" stroke="#fff" stroke-width="0.4" />
<rect x="50.40" y="608.47" width="8.75" height="7.31" fill="#F3F3F3" stroke="#fff" stroke-width="0.4" />
<rect x="59.15" y="608.47" width="8.75" height="7.31" fill="#9A5FAE" stroke="#fff" stroke-width="0.4" />
<text transform="translate(70.5 614.5) scale(1.065 1)" font-size="6.6" >IFIT1</text>
<rect x="32.90" y="615.78" width="8.75" height="7.31" fill="#F3F3F3" stroke="#fff" stroke-width="0.4" />
<rect x="41.65" y="615.78" width="8.75" height="7.31" fill="#F3F3F3" stroke="#fff" stroke-width="0.4" />
<rect x="50.40" y="615.78" width="8.75" height="7.31" fill="#F3F3F3" stroke="#fff" stroke-width="0.4" />
<rect x="59.15" y="615.78" width="8.75" height="7.31" fill="#CFA8D8" stroke="#fff" stroke-width="0.4" />
<text transform="translate(70.5 621.8) scale(1.065 1)" font-size="6.6" >IFIT2</text>
<rect x="32.90" y="623.09" width="8.75" height="7.31" fill="#F3F3F3" stroke="#fff" stroke-width="0.4" />
<rect x="41.65" y="623.09" width="8.75" height="7.31" fill="#F3F3F3" stroke="#fff" stroke-width="0.4" />
<rect x="50.40" y="623.09" width="8.75" height="7.31" fill="#F3F3F3" stroke="#fff" stroke-width="0.4" />
<rect x="59.15" y="623.09" width="8.75" height="7.31" fill="#D8B8E0" stroke="#fff" stroke-width="0.4" />
<text transform="translate(70.5 629.1) scale(1.065 1)" font-size="6.6" >IFIT3</text>
<rect x="32.90" y="630.40" width="8.75" height="7.31" fill="#F3F3F3" stroke="#fff" stroke-width="0.4" />
<rect x="41.65" y="630.40" width="8.75" height="7.31" fill="#F3F3F3" stroke="#fff" stroke-width="0.4" />
<rect x="50.40" y="630.40" width="8.75" height="7.31" fill="#F3F3F3" stroke="#fff" stroke-width="0.4" />
<rect x="59.15" y="630.40" width="8.75" height="7.31" fill="#E6D2EA" stroke="#fff" stroke-width="0.4" />
<text transform="translate(70.5 636.4) scale(1.065 1)" font-size="6.6" >IFITM2</text>
<rect x="32.90" y="637.71" width="8.75" height="7.31" fill="#F3F3F3" stroke="#fff" stroke-width="0.4" />
<rect x="41.65" y="637.71" width="8.75" height="7.31" fill="#F3F3F3" stroke="#fff" stroke-width="0.4" />
<rect x="50.40" y="637.71" width="8.75" height="7.31" fill="#F3F3F3" stroke="#fff" stroke-width="0.4" />
<rect x="59.15" y="637.71" width="8.75" height="7.31" fill="#E6D2EA" stroke="#fff" stroke-width="0.4" />
<text transform="translate(70.5 643.7) scale(1.065 1)" font-size="6.6" >IFITM3</text>
<rect x="32.90" y="645.02" width="8.75" height="7.31" fill="#F3F3F3" stroke="#fff" stroke-width="0.4" />
<rect x="41.65" y="645.02" width="8.75" height="7.31" fill="#F3F3F3" stroke="#fff" stroke-width="0.4" />
<rect x="50.40" y="645.02" width="8.75" height="7.31" fill="#D0AAD8" stroke="#fff" stroke-width="0.4" />
<rect x="59.15" y="645.02" width="8.75" height="7.31" fill="#8A4CA6" stroke="#fff" stroke-width="0.4" />
<text transform="translate(70.5 651.1) scale(1.065 1)" font-size="6.6" >ISG15</text>
<rect x="32.90" y="652.33" width="8.75" height="7.31" fill="#F3F3F3" stroke="#fff" stroke-width="0.4" />
<rect x="41.65" y="652.33" width="8.75" height="7.31" fill="#E6D2EA" stroke="#fff" stroke-width="0.4" />
<rect x="50.40" y="652.33" width="8.75" height="7.31" fill="#E6D2EA" stroke="#fff" stroke-width="0.4" />
<rect x="59.15" y="652.33" width="8.75" height="7.31" fill="#DCC2E3" stroke="#fff" stroke-width="0.4" />
<text transform="translate(70.5 658.4) scale(1.065 1)" font-size="6.6" >MAP3K8</text>
<rect x="32.90" y="659.64" width="8.75" height="7.31" fill="#9A60B0" stroke="#fff" stroke-width="0.4" />
<rect x="41.65" y="659.64" width="8.75" height="7.31" fill="#DCC2E3" stroke="#fff" stroke-width="0.4" />
<rect x="50.40" y="659.64" width="8.75" height="7.31" fill="#9A60B0" stroke="#fff" stroke-width="0.4" />
<rect x="59.15" y="659.64" width="8.75" height="7.31" fill="#DCC2E3" stroke="#fff" stroke-width="0.4" />
<text transform="translate(70.5 665.7) scale(1.065 1)" font-size="6.6" >NFKBIA</text>
<rect x="32.90" y="666.95" width="8.75" height="7.31" fill="#F3F3F3" stroke="#fff" stroke-width="0.4" />
<rect x="41.65" y="666.95" width="8.75" height="7.31" fill="#F3F3F3" stroke="#fff" stroke-width="0.4" />
<rect x="50.40" y="666.95" width="8.75" height="7.31" fill="#F3F3F3" stroke="#fff" stroke-width="0.4" />
<rect x="59.15" y="666.95" width="8.75" height="7.31" fill="#E6D2EA" stroke="#fff" stroke-width="0.4" />
<text transform="translate(70.5 673.0) scale(1.065 1)" font-size="6.6" >NUCB1</text>
<rect x="32.90" y="674.26" width="8.75" height="7.31" fill="#F3F3F3" stroke="#fff" stroke-width="0.4" />
<rect x="41.65" y="674.26" width="8.75" height="7.31" fill="#F3F3F3" stroke="#fff" stroke-width="0.4" />
<rect x="50.40" y="674.26" width="8.75" height="7.31" fill="#F3F3F3" stroke="#fff" stroke-width="0.4" />
<rect x="59.15" y="674.26" width="8.75" height="7.31" fill="#E6D2EA" stroke="#fff" stroke-width="0.4" />
<text transform="translate(70.5 680.3) scale(1.065 1)" font-size="6.6" >OASL</text>
<rect x="32.90" y="681.57" width="8.75" height="7.31" fill="#F3F3F3" stroke="#fff" stroke-width="0.4" />
<rect x="41.65" y="681.57" width="8.75" height="7.31" fill="#E6D2EA" stroke="#fff" stroke-width="0.4" />
<rect x="50.40" y="681.57" width="8.75" height="7.31" fill="#E6D2EA" stroke="#fff" stroke-width="0.4" />
<rect x="59.15" y="681.57" width="8.75" height="7.31" fill="#E0C8E6" stroke="#fff" stroke-width="0.4" />
<text transform="translate(70.5 687.6) scale(1.065 1)" font-size="6.6" >PMAIP1</text>
<rect x="32.90" y="688.88" width="8.75" height="7.31" fill="#D8BADF" stroke="#fff" stroke-width="0.4" />
<rect x="41.65" y="688.88" width="8.75" height="7.31" fill="#F3F3F3" stroke="#fff" stroke-width="0.4" />
<rect x="50.40" y="688.88" width="8.75" height="7.31" fill="#D0AAD8" stroke="#fff" stroke-width="0.4" />
<rect x="59.15" y="688.88" width="8.75" height="7.31" fill="#D8BADF" stroke="#fff" stroke-width="0.4" />
<text transform="translate(70.5 694.9) scale(1.065 1)" font-size="6.6" >PSMB9</text>
<rect x="32.90" y="696.19" width="8.75" height="7.31" fill="#D8BADF" stroke="#fff" stroke-width="0.4" />
<rect x="41.65" y="696.19" width="8.75" height="7.31" fill="#F3F3F3" stroke="#fff" stroke-width="0.4" />
<rect x="50.40" y="696.19" width="8.75" height="7.31" fill="#D0AAD8" stroke="#fff" stroke-width="0.4" />
<rect x="59.15" y="696.19" width="8.75" height="7.31" fill="#F3F3F3" stroke="#fff" stroke-width="0.4" />
<text transform="translate(70.5 702.2) scale(1.065 1)" font-size="6.6" >PSME1</text>
<rect x="32.90" y="703.50" width="8.75" height="7.31" fill="#F3F3F3" stroke="#fff" stroke-width="0.4" />
<rect x="41.65" y="703.50" width="8.75" height="7.31" fill="#F3F3F3" stroke="#fff" stroke-width="0.4" />
<rect x="50.40" y="703.50" width="8.75" height="7.31" fill="#F3F3F3" stroke="#fff" stroke-width="0.4" />
<rect x="59.15" y="703.50" width="8.75" height="7.31" fill="#DCC2E3" stroke="#fff" stroke-width="0.4" />
<text transform="translate(70.5 709.5) scale(1.065 1)" font-size="6.6" >PSME2</text>
<rect x="32.90" y="710.81" width="8.75" height="7.31" fill="#F3F3F3" stroke="#fff" stroke-width="0.4" />
<rect x="41.65" y="710.81" width="8.75" height="7.31" fill="#C8A0D2" stroke="#fff" stroke-width="0.4" />
<rect x="50.40" y="710.81" width="8.75" height="7.31" fill="#B88AC6" stroke="#fff" stroke-width="0.4" />
<rect x="59.15" y="710.81" width="8.75" height="7.31" fill="#D0AAD8" stroke="#fff" stroke-width="0.4" />
<text transform="translate(70.5 716.8) scale(1.065 1)" font-size="6.6" >TNF</text>
<text transform="translate(14.3 631.1) rotate(-90) scale(1.065 1)" font-size="8.7" text-anchor="middle" >Prioritized ligands for upregulated targets at</text>
<text transform="translate(25.4 631.1) rotate(-90) scale(1.065 1)" font-size="8.7" text-anchor="middle" >C01D08 in C1/C3</text>
<defs><linearGradient id="gp" x1="0" x2="0" y1="0" y2="1"><stop offset="0" stop-color="#7A4CA4"/><stop offset="1" stop-color="#F8F4FA"/></linearGradient><linearGradient id="go" x1="0" x2="0" y1="0" y2="1"><stop offset="0" stop-color="#F38E22"/><stop offset="1" stop-color="#FDF6F0"/></linearGradient><linearGradient id="gbl" x1="0" x2="0" y1="0" y2="1"><stop offset="0" stop-color="#5874BA"/><stop offset="1" stop-color="#F4F6FB"/></linearGradient></defs>
<rect x="129.80" y="558.40" width="10.10" height="50.50" fill="url(#gp)" />
<text transform="translate(144.2 569.1) scale(1.065 1)" font-size="6.8" >0.006</text>
<text transform="translate(144.2 583.2) scale(1.065 1)" font-size="6.8" >0.004</text>
<text transform="translate(144.2 597.6) scale(1.065 1)" font-size="6.8" >0.002</text>
<text transform="translate(144.2 611.3) scale(1.065 1)" font-size="6.8" >0</text>
<text transform="translate(115.9 584.9) rotate(-90) scale(1.065 1)" font-size="8.6" text-anchor="middle" >Regulatory</text>
<text transform="translate(124.1 584.4) rotate(-90) scale(1.065 1)" font-size="8.6" text-anchor="middle" >potential</text>
<rect x="129.80" y="632.10" width="10.10" height="50.40" fill="url(#go)" />
<text transform="translate(144.2 644.7) scale(1.065 1)" font-size="6.8" >0.09</text>
<text transform="translate(144.2 657.8) scale(1.065 1)" font-size="6.8" >0.06</text>
<text transform="translate(144.2 669.6) scale(1.065 1)" font-size="6.8" >0.03</text>
<text transform="translate(144.2 682.0) scale(1.065 1)" font-size="6.8" >0</text>
<text transform="translate(115.9 661.0) rotate(-90) scale(1.065 1)" font-size="8.6" text-anchor="middle" >Target gene</text>
<text transform="translate(124.1 659.5) rotate(-90) scale(1.065 1)" font-size="8.6" text-anchor="middle" >prediction capacity</text>
<text transform="translate(171.0 499.2) scale(1.065 1)" font-size="11" fill="#000" font-weight="bold" >h</text>
<circle cx="216.9" cy="565.3" r="3.25" fill="#000" />
<circle cx="246.7" cy="530.8" r="3.25" fill="#000" />
<circle cx="249.1" cy="546.6" r="3.25" fill="#000" />
<circle cx="264.5" cy="548.1" r="3.25" fill="#000" />
<circle cx="285.5" cy="517.7" r="3.25" fill="#000" />
<circle cx="287.9" cy="568.5" r="3.25" fill="#000" />
<circle cx="296.1" cy="573.5" r="3.25" fill="#000" />
<circle cx="305.4" cy="574.6" r="3.25" fill="#000" />
<circle cx="308.0" cy="564.4" r="3.25" fill="#000" />
<circle cx="316.2" cy="574.1" r="3.25" fill="#000" />
<circle cx="319.4" cy="550.4" r="3.25" fill="#000" />
<circle cx="316.8" cy="590.1" r="3.25" fill="#000" />
<circle cx="266.0" cy="520.6" r="3.25" fill="#F7962C" />
<circle cx="266.9" cy="550.4" r="3.25" fill="#F7962C" />
<circle cx="270.4" cy="558.3" r="3.25" fill="#F7962C" />
<circle cx="268.6" cy="589.2" r="3.25" fill="#F7962C" />
<circle cx="281.2" cy="513.0" r="3.25" fill="#F7962C" />
<circle cx="293.4" cy="564.1" r="3.25" fill="#F7962C" />
<circle cx="296.1" cy="557.7" r="3.25" fill="#F7962C" />
<circle cx="321.5" cy="583.4" r="3.25" fill="#F7962C" />
<circle cx="322.9" cy="566.2" r="3.25" fill="#F7962C" />
<circle cx="325.5" cy="579.6" r="3.25" fill="#F7962C" />
<circle cx="326.4" cy="563.2" r="3.25" fill="#F7962C" />
<circle cx="243.2" cy="564.4" r="3.25" fill="#6CC04A" />
<circle cx="260.7" cy="540.2" r="3.25" fill="#6CC04A" />
<circle cx="270.4" cy="510.7" r="3.25" fill="#6CC04A" />
<circle cx="312.4" cy="584.3" r="3.25" fill="#6CC04A" />
<circle cx="319.1" cy="581.4" r="3.25" fill="#6CC04A" />
<circle cx="317.1" cy="562.4" r="3.25" fill="#6CC04A" />
<circle cx="326.4" cy="580.2" r="3.25" fill="#6CC04A" />
<circle cx="331.7" cy="578.4" r="3.25" fill="#6CC04A" />
<line x1="214.5" y1="502.5" x2="214.5" y2="596.8" stroke="#000" stroke-width="1.1" />
<line x1="213.5" y1="596.5" x2="349.8" y2="596.5" stroke="#000" stroke-width="1.1" />
<line x1="209.1" y1="502.5" x2="214.0" y2="502.5" stroke="#000" stroke-width="1.1" />
<text transform="translate(205.3 505.2) scale(1.065 1)" font-size="7.6" text-anchor="end" >30</text>
<line x1="209.1" y1="533.5" x2="214.0" y2="533.5" stroke="#000" stroke-width="1.1" />
<text transform="translate(205.3 536.5) scale(1.065 1)" font-size="7.6" text-anchor="end" >20</text>
<line x1="209.1" y1="565.5" x2="214.0" y2="565.5" stroke="#000" stroke-width="1.1" />
<text transform="translate(205.3 568.0) scale(1.065 1)" font-size="7.6" text-anchor="end" >10</text>
<line x1="209.1" y1="596.5" x2="214.0" y2="596.5" stroke="#000" stroke-width="1.1" />
<text transform="translate(205.3 599.5) scale(1.065 1)" font-size="7.6" text-anchor="end" >0</text>
<line x1="219.5" y1="596.8" x2="219.5" y2="599.0" stroke="#231f20" stroke-width="0.8" />
<text transform="translate(219.9 611.8) scale(1.065 1)" font-size="7.4" text-anchor="middle" >10</text>
<line x1="349.5" y1="596.8" x2="349.5" y2="599.0" stroke="#231f20" stroke-width="0.8" />
<text transform="translate(349.8 611.8) scale(1.065 1)" font-size="7.4" text-anchor="middle" >100</text>
<circle cx="221.9" cy="497.6" r="1.90" fill="#000" />
<text transform="translate(225.7 500.1) scale(1.0389353875021603 1)" font-size="6.9" >C01D01</text>
<circle cx="221.9" cy="506.3" r="1.90" fill="#6CC04A" />
<text transform="translate(225.7 508.8) scale(1.0389353875021603 1)" font-size="6.9" >C01D02</text>
<circle cx="221.9" cy="515.1" r="1.90" fill="#F7962C" />
<text transform="translate(225.7 517.6) scale(1.0389353875021603 1)" font-size="6.9" >C01D08</text>
<text transform="translate(299.6 524.8) scale(1.065 1)" font-size="7.4" ><tspan font-style="italic">ρ</tspan> = −0.51</text>
<text transform="translate(299.6 532.4) scale(1.065 1)" font-size="7.4" ><tspan font-style="italic">P</tspan> = 0.003</text>
<text transform="translate(284.0 622.3) scale(1.065 1)" font-size="8.2" text-anchor="middle" >Cluster 1 (% CD8 T cells)</text>
<text transform="translate(189.4 550.7) rotate(-90) scale(1.065 1)" font-size="8.7" text-anchor="middle" >TGFβ2 (pg ml<tspan font-size="5" dy="-3">−1</tspan><tspan dy="3">)</tspan></text>
<circle cx="238.8" cy="678.7" r="3.25" fill="#000" />
<circle cx="252.0" cy="683.4" r="3.25" fill="#000" />
<circle cx="256.4" cy="680.4" r="3.25" fill="#000" />
<circle cx="280.6" cy="674.6" r="3.25" fill="#000" />
<circle cx="282.6" cy="705.3" r="3.25" fill="#000" />
<circle cx="283.2" cy="710.5" r="3.25" fill="#000" />
<circle cx="294.9" cy="710.5" r="3.25" fill="#000" />
<circle cx="292.3" cy="722.2" r="3.25" fill="#000" />
<circle cx="302.5" cy="721.0" r="3.25" fill="#000" />
<circle cx="315.6" cy="704.4" r="3.25" fill="#000" />
<circle cx="321.2" cy="717.5" r="3.25" fill="#000" />
<circle cx="273.0" cy="719.9" r="3.25" fill="#000" />
<circle cx="214.6" cy="711.1" r="3.25" fill="#F7962C" />
<circle cx="260.1" cy="691.8" r="3.25" fill="#F7962C" />
<circle cx="268.6" cy="658.2" r="3.25" fill="#F7962C" />
<circle cx="280.6" cy="684.2" r="3.25" fill="#F7962C" />
<circle cx="279.4" cy="707.0" r="3.25" fill="#F7962C" />
<circle cx="288.5" cy="706.4" r="3.25" fill="#F7962C" />
<circle cx="295.2" cy="683.1" r="3.25" fill="#F7962C" />
<circle cx="298.4" cy="693.0" r="3.25" fill="#F7962C" />
<circle cx="274.2" cy="717.5" r="3.25" fill="#F7962C" />
<circle cx="316.5" cy="713.4" r="3.25" fill="#F7962C" />
<circle cx="323.5" cy="687.7" r="3.25" fill="#F7962C" />
<circle cx="325.5" cy="720.4" r="3.25" fill="#F7962C" />
<circle cx="268.0" cy="672.6" r="3.25" fill="#6CC04A" />
<circle cx="276.8" cy="711.1" r="3.25" fill="#6CC04A" />
<circle cx="282.0" cy="713.4" r="3.25" fill="#6CC04A" />
<circle cx="290.5" cy="716.9" r="3.25" fill="#6CC04A" />
<circle cx="299.3" cy="718.7" r="3.25" fill="#6CC04A" />
<circle cx="306.0" cy="724.5" r="3.25" fill="#6CC04A" />
<circle cx="320.3" cy="698.5" r="3.25" fill="#6CC04A" />
<line x1="214.5" y1="641.3" x2="214.5" y2="736.2" stroke="#000" stroke-width="1.1" />
<line x1="213.5" y1="736.5" x2="349.8" y2="736.5" stroke="#000" stroke-width="1.1" />
<line x1="209.1" y1="641.5" x2="214.0" y2="641.5" stroke="#000" stroke-width="1.1" />
<text transform="translate(205.3 644.6) scale(1.065 1)" font-size="7.6" text-anchor="end" >15,000</text>
<line x1="209.1" y1="673.5" x2="214.0" y2="673.5" stroke="#000" stroke-width="1.1" />
<text transform="translate(205.3 676.1) scale(1.065 1)" font-size="7.6" text-anchor="end" >10,000</text>
<line x1="209.1" y1="704.5" x2="214.0" y2="704.5" stroke="#000" stroke-width="1.1" />
<text transform="translate(205.3 707.4) scale(1.065 1)" font-size="7.6" text-anchor="end" >5,000</text>
<line x1="209.1" y1="736.5" x2="214.0" y2="736.5" stroke="#000" stroke-width="1.1" />
<text transform="translate(205.3 738.9) scale(1.065 1)" font-size="7.6" text-anchor="end" >0</text>
<line x1="214.5" y1="736.2" x2="214.5" y2="738.4" stroke="#231f20" stroke-width="0.8" />
<text transform="translate(214.0 751.2) scale(1.065 1)" font-size="7.4" text-anchor="middle" >0.1</text>
<line x1="259.5" y1="736.2" x2="259.5" y2="738.4" stroke="#231f20" stroke-width="0.8" />
<text transform="translate(259.3 751.2) scale(1.065 1)" font-size="7.4" text-anchor="middle" >1</text>
<line x1="303.5" y1="736.2" x2="303.5" y2="738.4" stroke="#231f20" stroke-width="0.8" />
<text transform="translate(303.9 751.2) scale(1.065 1)" font-size="7.4" text-anchor="middle" >10</text>
<line x1="348.5" y1="736.2" x2="348.5" y2="738.4" stroke="#231f20" stroke-width="0.8" />
<text transform="translate(348.3 751.2) scale(1.065 1)" font-size="7.4" text-anchor="middle" >100</text>
<circle cx="219.0" cy="640.4" r="1.90" fill="#000" />
<text transform="translate(222.8 642.9) scale(1.0389353875021603 1)" font-size="6.9" >C01D01</text>
<circle cx="219.0" cy="649.2" r="1.90" fill="#6CC04A" />
<text transform="translate(222.8 651.7) scale(1.0389353875021603 1)" font-size="6.9" >C01D02</text>
<circle cx="219.0" cy="658.0" r="1.90" fill="#F7962C" />
<text transform="translate(222.8 660.5) scale(1.0389353875021603 1)" font-size="6.9" >C01D08</text>
<text transform="translate(299.6 651.9) scale(1.065 1)" font-size="7.4" ><tspan font-style="italic">ρ</tspan> = −0.42</text>
<text transform="translate(299.6 660.7) scale(1.065 1)" font-size="7.4" ><tspan font-style="italic">P</tspan> = 0.02</text>
<text transform="translate(284.0 762.3) scale(1.065 1)" font-size="8.2" text-anchor="middle" >Cluster 3 (% CD8 T cells)</text>
<text transform="translate(176.2 688.6) rotate(-90) scale(1.065 1)" font-size="8.7" text-anchor="middle" >TGFβ1 (pg ml<tspan font-size="5" dy="-3">−1</tspan><tspan dy="3">)</tspan></text>
<text transform="translate(375.5 498.7) scale(1.065 1)" font-size="11" fill="#000" font-weight="bold" >i</text>
<text transform="translate(427.7 507.7) scale(1.065 1)" font-size="8.4" text-anchor="middle" >Ligands</text>
<text transform="translate(407.9 537.3) rotate(-90) scale(0.93 1)" font-size="6.8" >TGFβ2</text>
<text transform="translate(416.6 537.3) rotate(-90) scale(0.93 1)" font-size="6.8" >TNF</text>
<text transform="translate(425.3 537.3) rotate(-90) scale(0.93 1)" font-size="6.8" >TGFβ1</text>
<text transform="translate(434.0 537.3) rotate(-90) scale(0.93 1)" font-size="6.8" >IL-7</text>
<text transform="translate(442.7 537.3) rotate(-90) scale(0.93 1)" font-size="6.8" >IL-21</text>
<rect x="401.10" y="539.50" width="8.72" height="13.40" fill="#F2F2F2" stroke="#fff" stroke-width="0.4" />
<rect x="409.82" y="539.50" width="8.72" height="13.40" fill="#F9B27A" stroke="#fff" stroke-width="0.4" />
<rect x="418.54" y="539.50" width="8.72" height="13.40" fill="#F6A055" stroke="#fff" stroke-width="0.4" />
<rect x="427.26" y="539.50" width="8.72" height="13.40" fill="#F59239" stroke="#fff" stroke-width="0.4" />
<rect x="435.98" y="539.50" width="8.72" height="13.40" fill="#F48A2A" stroke="#fff" stroke-width="0.4" />
<rect x="401.10" y="562.30" width="8.72" height="8.16" fill="#F2F4FA" stroke="#fff" stroke-width="0.4" />
<rect x="409.82" y="562.30" width="8.72" height="8.16" fill="#F2F4FA" stroke="#fff" stroke-width="0.4" />
<rect x="418.54" y="562.30" width="8.72" height="8.16" fill="#F2F4FA" stroke="#fff" stroke-width="0.4" />
<rect x="427.26" y="562.30" width="8.72" height="8.16" fill="#F2F4FA" stroke="#fff" stroke-width="0.4" />
<rect x="435.98" y="562.30" width="8.72" height="8.16" fill="#C0CAE5" stroke="#fff" stroke-width="0.4" />
<text transform="translate(448.6 568.8) scale(0.99 1)" font-size="6.6" >ANKRD11</text>
<rect x="401.10" y="570.46" width="8.72" height="8.16" fill="#CBD3EA" stroke="#fff" stroke-width="0.4" />
<rect x="409.82" y="570.46" width="8.72" height="8.16" fill="#F2F4FA" stroke="#fff" stroke-width="0.4" />
<rect x="418.54" y="570.46" width="8.72" height="8.16" fill="#D5DBEE" stroke="#fff" stroke-width="0.4" />
<rect x="427.26" y="570.46" width="8.72" height="8.16" fill="#AAB8DE" stroke="#fff" stroke-width="0.4" />
<rect x="435.98" y="570.46" width="8.72" height="8.16" fill="#8EA2D4" stroke="#fff" stroke-width="0.4" />
<text transform="translate(448.6 576.9) scale(0.99 1)" font-size="6.6" >ASXL1</text>
<rect x="401.10" y="578.63" width="8.72" height="8.16" fill="#F2F4FA" stroke="#fff" stroke-width="0.4" />
<rect x="409.82" y="578.63" width="8.72" height="8.16" fill="#F2F4FA" stroke="#fff" stroke-width="0.4" />
<rect x="418.54" y="578.63" width="8.72" height="8.16" fill="#D5DBEE" stroke="#fff" stroke-width="0.4" />
<rect x="427.26" y="578.63" width="8.72" height="8.16" fill="#CDD4EB" stroke="#fff" stroke-width="0.4" />
<rect x="435.98" y="578.63" width="8.72" height="8.16" fill="#C4CDE8" stroke="#fff" stroke-width="0.4" />
<text transform="translate(448.6 585.1) scale(0.99 1)" font-size="6.6" >B4GALT1</text>
<rect x="401.10" y="586.79" width="8.72" height="8.16" fill="#C4CDE8" stroke="#fff" stroke-width="0.4" />
<rect x="409.82" y="586.79" width="8.72" height="8.16" fill="#CDD4EB" stroke="#fff" stroke-width="0.4" />
<rect x="418.54" y="586.79" width="8.72" height="8.16" fill="#CDD4EB" stroke="#fff" stroke-width="0.4" />
<rect x="427.26" y="586.79" width="8.72" height="8.16" fill="#C4CDE8" stroke="#fff" stroke-width="0.4" />
<rect x="435.98" y="586.79" width="8.72" height="8.16" fill="#BFC9E6" stroke="#fff" stroke-width="0.4" />
<text transform="translate(448.6 593.3) scale(0.99 1)" font-size="6.6" >BCL9L</text>
<rect x="401.10" y="594.96" width="8.72" height="8.16" fill="#F2F4FA" stroke="#fff" stroke-width="0.4" />
<rect x="409.82" y="594.96" width="8.72" height="8.16" fill="#5A74BA" stroke="#fff" stroke-width="0.4" />
<rect x="418.54" y="594.96" width="8.72" height="8.16" fill="#7D93CB" stroke="#fff" stroke-width="0.4" />
<rect x="427.26" y="594.96" width="8.72" height="8.16" fill="#A7B5DC" stroke="#fff" stroke-width="0.4" />
<rect x="435.98" y="594.96" width="8.72" height="8.16" fill="#A0AFDA" stroke="#fff" stroke-width="0.4" />
<text transform="translate(448.6 601.4) scale(0.99 1)" font-size="6.6" >CCL5</text>
<rect x="401.10" y="603.12" width="8.72" height="8.16" fill="#F2F4FA" stroke="#fff" stroke-width="0.4" />
<rect x="409.82" y="603.12" width="8.72" height="8.16" fill="#F2F4FA" stroke="#fff" stroke-width="0.4" />
<rect x="418.54" y="603.12" width="8.72" height="8.16" fill="#F2F4FA" stroke="#fff" stroke-width="0.4" />
<rect x="427.26" y="603.12" width="8.72" height="8.16" fill="#D0D7EC" stroke="#fff" stroke-width="0.4" />
<rect x="435.98" y="603.12" width="8.72" height="8.16" fill="#BDC7E5" stroke="#fff" stroke-width="0.4" />
<text transform="translate(448.6 609.6) scale(0.99 1)" font-size="6.6" >EVL</text>
<rect x="401.10" y="611.29" width="8.72" height="8.16" fill="#CDD4EB" stroke="#fff" stroke-width="0.4" />
<rect x="409.82" y="611.29" width="8.72" height="8.16" fill="#F2F4FA" stroke="#fff" stroke-width="0.4" />
<rect x="418.54" y="611.29" width="8.72" height="8.16" fill="#F2F4FA" stroke="#fff" stroke-width="0.4" />
<rect x="427.26" y="611.29" width="8.72" height="8.16" fill="#B5C1E2" stroke="#fff" stroke-width="0.4" />
<rect x="435.98" y="611.29" width="8.72" height="8.16" fill="#A6B4DC" stroke="#fff" stroke-width="0.4" />
<text transform="translate(448.6 617.7) scale(0.99 1)" font-size="6.6" >FNBP1</text>
<rect x="401.10" y="619.45" width="8.72" height="8.16" fill="#F2F4FA" stroke="#fff" stroke-width="0.4" />
<rect x="409.82" y="619.45" width="8.72" height="8.16" fill="#7F95CD" stroke="#fff" stroke-width="0.4" />
<rect x="418.54" y="619.45" width="8.72" height="8.16" fill="#F2F4FA" stroke="#fff" stroke-width="0.4" />
<rect x="427.26" y="619.45" width="8.72" height="8.16" fill="#F2F4FA" stroke="#fff" stroke-width="0.4" />
<rect x="435.98" y="619.45" width="8.72" height="8.16" fill="#C9D1EA" stroke="#fff" stroke-width="0.4" />
<text transform="translate(448.6 625.9) scale(0.99 1)" font-size="6.6" >FOXO1</text>
<rect x="401.10" y="627.62" width="8.72" height="8.16" fill="#F2F4FA" stroke="#fff" stroke-width="0.4" />
<rect x="409.82" y="627.62" width="8.72" height="8.16" fill="#F2F4FA" stroke="#fff" stroke-width="0.4" />
<rect x="418.54" y="627.62" width="8.72" height="8.16" fill="#F2F4FA" stroke="#fff" stroke-width="0.4" />
<rect x="427.26" y="627.62" width="8.72" height="8.16" fill="#CDD4EB" stroke="#fff" stroke-width="0.4" />
<rect x="435.98" y="627.62" width="8.72" height="8.16" fill="#C4CDE8" stroke="#fff" stroke-width="0.4" />
<text transform="translate(448.6 634.1) scale(0.99 1)" font-size="6.6" >FYN</text>
<rect x="401.10" y="635.78" width="8.72" height="8.16" fill="#F2F4FA" stroke="#fff" stroke-width="0.4" />
<rect x="409.82" y="635.78" width="8.72" height="8.16" fill="#B0BDE0" stroke="#fff" stroke-width="0.4" />
<rect x="418.54" y="635.78" width="8.72" height="8.16" fill="#F2F4FA" stroke="#fff" stroke-width="0.4" />
<rect x="427.26" y="635.78" width="8.72" height="8.16" fill="#C4CDE8" stroke="#fff" stroke-width="0.4" />
<rect x="435.98" y="635.78" width="8.72" height="8.16" fill="#A6B4DC" stroke="#fff" stroke-width="0.4" />
<text transform="translate(448.6 642.2) scale(0.99 1)" font-size="6.6" >IL21R</text>
<rect x="401.10" y="643.95" width="8.72" height="8.16" fill="#F2F4FA" stroke="#fff" stroke-width="0.4" />
<rect x="409.82" y="643.95" width="8.72" height="8.16" fill="#F2F4FA" stroke="#fff" stroke-width="0.4" />
<rect x="418.54" y="643.95" width="8.72" height="8.16" fill="#F2F4FA" stroke="#fff" stroke-width="0.4" />
<rect x="427.26" y="643.95" width="8.72" height="8.16" fill="#F2F4FA" stroke="#fff" stroke-width="0.4" />
<rect x="435.98" y="643.95" width="8.72" height="8.16" fill="#8DA1D4" stroke="#fff" stroke-width="0.4" />
<text transform="translate(448.6 650.4) scale(0.99 1)" font-size="6.6" >KIF21B</text>
<rect x="401.10" y="652.12" width="8.72" height="8.16" fill="#D0D7EC" stroke="#fff" stroke-width="0.4" />
<rect x="409.82" y="652.12" width="8.72" height="8.16" fill="#F2F4FA" stroke="#fff" stroke-width="0.4" />
<rect x="418.54" y="652.12" width="8.72" height="8.16" fill="#D0D7EC" stroke="#fff" stroke-width="0.4" />
<rect x="427.26" y="652.12" width="8.72" height="8.16" fill="#F2F4FA" stroke="#fff" stroke-width="0.4" />
<rect x="435.98" y="652.12" width="8.72" height="8.16" fill="#C9D1EA" stroke="#fff" stroke-width="0.4" />
<text transform="translate(448.6 658.6) scale(0.99 1)" font-size="6.6" >PMEPA1</text>
<rect x="401.10" y="660.28" width="8.72" height="8.16" fill="#F2F4FA" stroke="#fff" stroke-width="0.4" />
<rect x="409.82" y="660.28" width="8.72" height="8.16" fill="#F2F4FA" stroke="#fff" stroke-width="0.4" />
<rect x="418.54" y="660.28" width="8.72" height="8.16" fill="#F2F4FA" stroke="#fff" stroke-width="0.4" />
<rect x="427.26" y="660.28" width="8.72" height="8.16" fill="#CDD4EB" stroke="#fff" stroke-width="0.4" />
<rect x="435.98" y="660.28" width="8.72" height="8.16" fill="#C4CDE8" stroke="#fff" stroke-width="0.4" />
<text transform="translate(448.6 666.7) scale(0.99 1)" font-size="6.6" >PPP1R16B</text>
<rect x="401.10" y="668.44" width="8.72" height="8.16" fill="#F2F4FA" stroke="#fff" stroke-width="0.4" />
<rect x="409.82" y="668.44" width="8.72" height="8.16" fill="#F2F4FA" stroke="#fff" stroke-width="0.4" />
<rect x="418.54" y="668.44" width="8.72" height="8.16" fill="#F2F4FA" stroke="#fff" stroke-width="0.4" />
<rect x="427.26" y="668.44" width="8.72" height="8.16" fill="#CDD4EB" stroke="#fff" stroke-width="0.4" />
<rect x="435.98" y="668.44" width="8.72" height="8.16" fill="#CDD4EB" stroke="#fff" stroke-width="0.4" />
<text transform="translate(448.6 674.9) scale(0.99 1)" font-size="6.6" >RASGRP1</text>
<rect x="401.10" y="676.61" width="8.72" height="8.16" fill="#F2F4FA" stroke="#fff" stroke-width="0.4" />
<rect x="409.82" y="676.61" width="8.72" height="8.16" fill="#8A9ED2" stroke="#fff" stroke-width="0.4" />
<rect x="418.54" y="676.61" width="8.72" height="8.16" fill="#8A9ED2" stroke="#fff" stroke-width="0.4" />
<rect x="427.26" y="676.61" width="8.72" height="8.16" fill="#F2F4FA" stroke="#fff" stroke-width="0.4" />
<rect x="435.98" y="676.61" width="8.72" height="8.16" fill="#A0AFDA" stroke="#fff" stroke-width="0.4" />
<text transform="translate(448.6 683.1) scale(0.99 1)" font-size="6.6" >RORA</text>
<rect x="401.10" y="684.77" width="8.72" height="8.16" fill="#F2F4FA" stroke="#fff" stroke-width="0.4" />
<rect x="409.82" y="684.77" width="8.72" height="8.16" fill="#F2F4FA" stroke="#fff" stroke-width="0.4" />
<rect x="418.54" y="684.77" width="8.72" height="8.16" fill="#F2F4FA" stroke="#fff" stroke-width="0.4" />
<rect x="427.26" y="684.77" width="8.72" height="8.16" fill="#F2F4FA" stroke="#fff" stroke-width="0.4" />
<rect x="435.98" y="684.77" width="8.72" height="8.16" fill="#C4CDE8" stroke="#fff" stroke-width="0.4" />
<text transform="translate(448.6 691.2) scale(0.99 1)" font-size="6.6" >S1PR1</text>
<rect x="401.10" y="692.94" width="8.72" height="8.16" fill="#C4CDE8" stroke="#fff" stroke-width="0.4" />
<rect x="409.82" y="692.94" width="8.72" height="8.16" fill="#F2F4FA" stroke="#fff" stroke-width="0.4" />
<rect x="418.54" y="692.94" width="8.72" height="8.16" fill="#D0D7EC" stroke="#fff" stroke-width="0.4" />
<rect x="427.26" y="692.94" width="8.72" height="8.16" fill="#F2F4FA" stroke="#fff" stroke-width="0.4" />
<rect x="435.98" y="692.94" width="8.72" height="8.16" fill="#C4CDE8" stroke="#fff" stroke-width="0.4" />
<text transform="translate(448.6 699.4) scale(0.99 1)" font-size="6.6" >SKIL</text>
<rect x="401.10" y="701.10" width="8.72" height="8.16" fill="#C4CDE8" stroke="#fff" stroke-width="0.4" />
<rect x="409.82" y="701.10" width="8.72" height="8.16" fill="#F2F4FA" stroke="#fff" stroke-width="0.4" />
<rect x="418.54" y="701.10" width="8.72" height="8.16" fill="#D0D7EC" stroke="#fff" stroke-width="0.4" />
<rect x="427.26" y="701.10" width="8.72" height="8.16" fill="#CDD4EB" stroke="#fff" stroke-width="0.4" />
<rect x="435.98" y="701.10" width="8.72" height="8.16" fill="#BDC7E5" stroke="#fff" stroke-width="0.4" />
<text transform="translate(448.6 707.6) scale(0.99 1)" font-size="6.6" >SPTBN1</text>
<rect x="401.10" y="709.27" width="8.72" height="8.16" fill="#F2F4FA" stroke="#fff" stroke-width="0.4" />
<rect x="409.82" y="709.27" width="8.72" height="8.16" fill="#F2F4FA" stroke="#fff" stroke-width="0.4" />
<rect x="418.54" y="709.27" width="8.72" height="8.16" fill="#F2F4FA" stroke="#fff" stroke-width="0.4" />
<rect x="427.26" y="709.27" width="8.72" height="8.16" fill="#A6B4DC" stroke="#fff" stroke-width="0.4" />
<rect x="435.98" y="709.27" width="8.72" height="8.16" fill="#C4CDE8" stroke="#fff" stroke-width="0.4" />
<text transform="translate(448.6 715.7) scale(0.99 1)" font-size="6.6" >TCF7</text>
<rect x="401.10" y="717.43" width="8.72" height="8.16" fill="#F2F4FA" stroke="#fff" stroke-width="0.4" />
<rect x="409.82" y="717.43" width="8.72" height="8.16" fill="#F2F4FA" stroke="#fff" stroke-width="0.4" />
<rect x="418.54" y="717.43" width="8.72" height="8.16" fill="#D0D7EC" stroke="#fff" stroke-width="0.4" />
<rect x="427.26" y="717.43" width="8.72" height="8.16" fill="#CDD4EB" stroke="#fff" stroke-width="0.4" />
<rect x="435.98" y="717.43" width="8.72" height="8.16" fill="#BDC7E5" stroke="#fff" stroke-width="0.4" />
<text transform="translate(448.6 723.9) scale(0.99 1)" font-size="6.6" >ZFPM1</text>
<rect x="401.10" y="725.60" width="8.72" height="8.16" fill="#CDD4EB" stroke="#fff" stroke-width="0.4" />
<rect x="409.82" y="725.60" width="8.72" height="8.16" fill="#F2F4FA" stroke="#fff" stroke-width="0.4" />
<rect x="418.54" y="725.60" width="8.72" height="8.16" fill="#D0D7EC" stroke="#fff" stroke-width="0.4" />
<rect x="427.26" y="725.60" width="8.72" height="8.16" fill="#CDD4EB" stroke="#fff" stroke-width="0.4" />
<rect x="435.98" y="725.60" width="8.72" height="8.16" fill="#CDD4EB" stroke="#fff" stroke-width="0.4" />
<text transform="translate(448.6 732.1) scale(0.99 1)" font-size="6.6" >BCOR</text>
<text transform="translate(383.2 646.1) rotate(-90) scale(1.065 1)" font-size="8.6" text-anchor="middle" >Prioritized ligands for downregulated targets at</text>
<text transform="translate(393.8 646.1) rotate(-90) scale(1.065 1)" font-size="8.6" text-anchor="middle" >C01D08 in C1/C3</text>
<rect x="510.20" y="561.80" width="11.50" height="53.80" fill="url(#gbl)" />
<text transform="translate(525.4 579.5) scale(1.065 1)" font-size="7" >0.004</text>
<text transform="translate(525.4 598.4) scale(1.065 1)" font-size="7" >0.002</text>
<text transform="translate(525.4 617.2) scale(1.065 1)" font-size="7" >0</text>
<text transform="translate(494.9 588.0) rotate(-90) scale(1.065 1)" font-size="8.6" text-anchor="middle" >Regulatory</text>
<text transform="translate(505.5 588.0) rotate(-90) scale(1.065 1)" font-size="8.6" text-anchor="middle" >potential</text>
<rect x="510.20" y="637.20" width="11.50" height="50.60" fill="url(#go)" />
<text transform="translate(525.4 650.3) scale(1.065 1)" font-size="7" >0.12</text>
<text transform="translate(525.4 662.3) scale(1.065 1)" font-size="7" >0.08</text>
<text transform="translate(525.4 674.7) scale(1.065 1)" font-size="7" >0.04</text>
<text transform="translate(525.4 686.6) scale(1.065 1)" font-size="7" >0</text>
<text transform="translate(494.9 664.0) rotate(-90) scale(1.065 1)" font-size="8.6" text-anchor="middle" >Target gene</text>
<text transform="translate(505.5 664.0) rotate(-90) scale(1.065 1)" font-size="8.6" text-anchor="middle" >prediction capacity</text>
</svg></body></html>
